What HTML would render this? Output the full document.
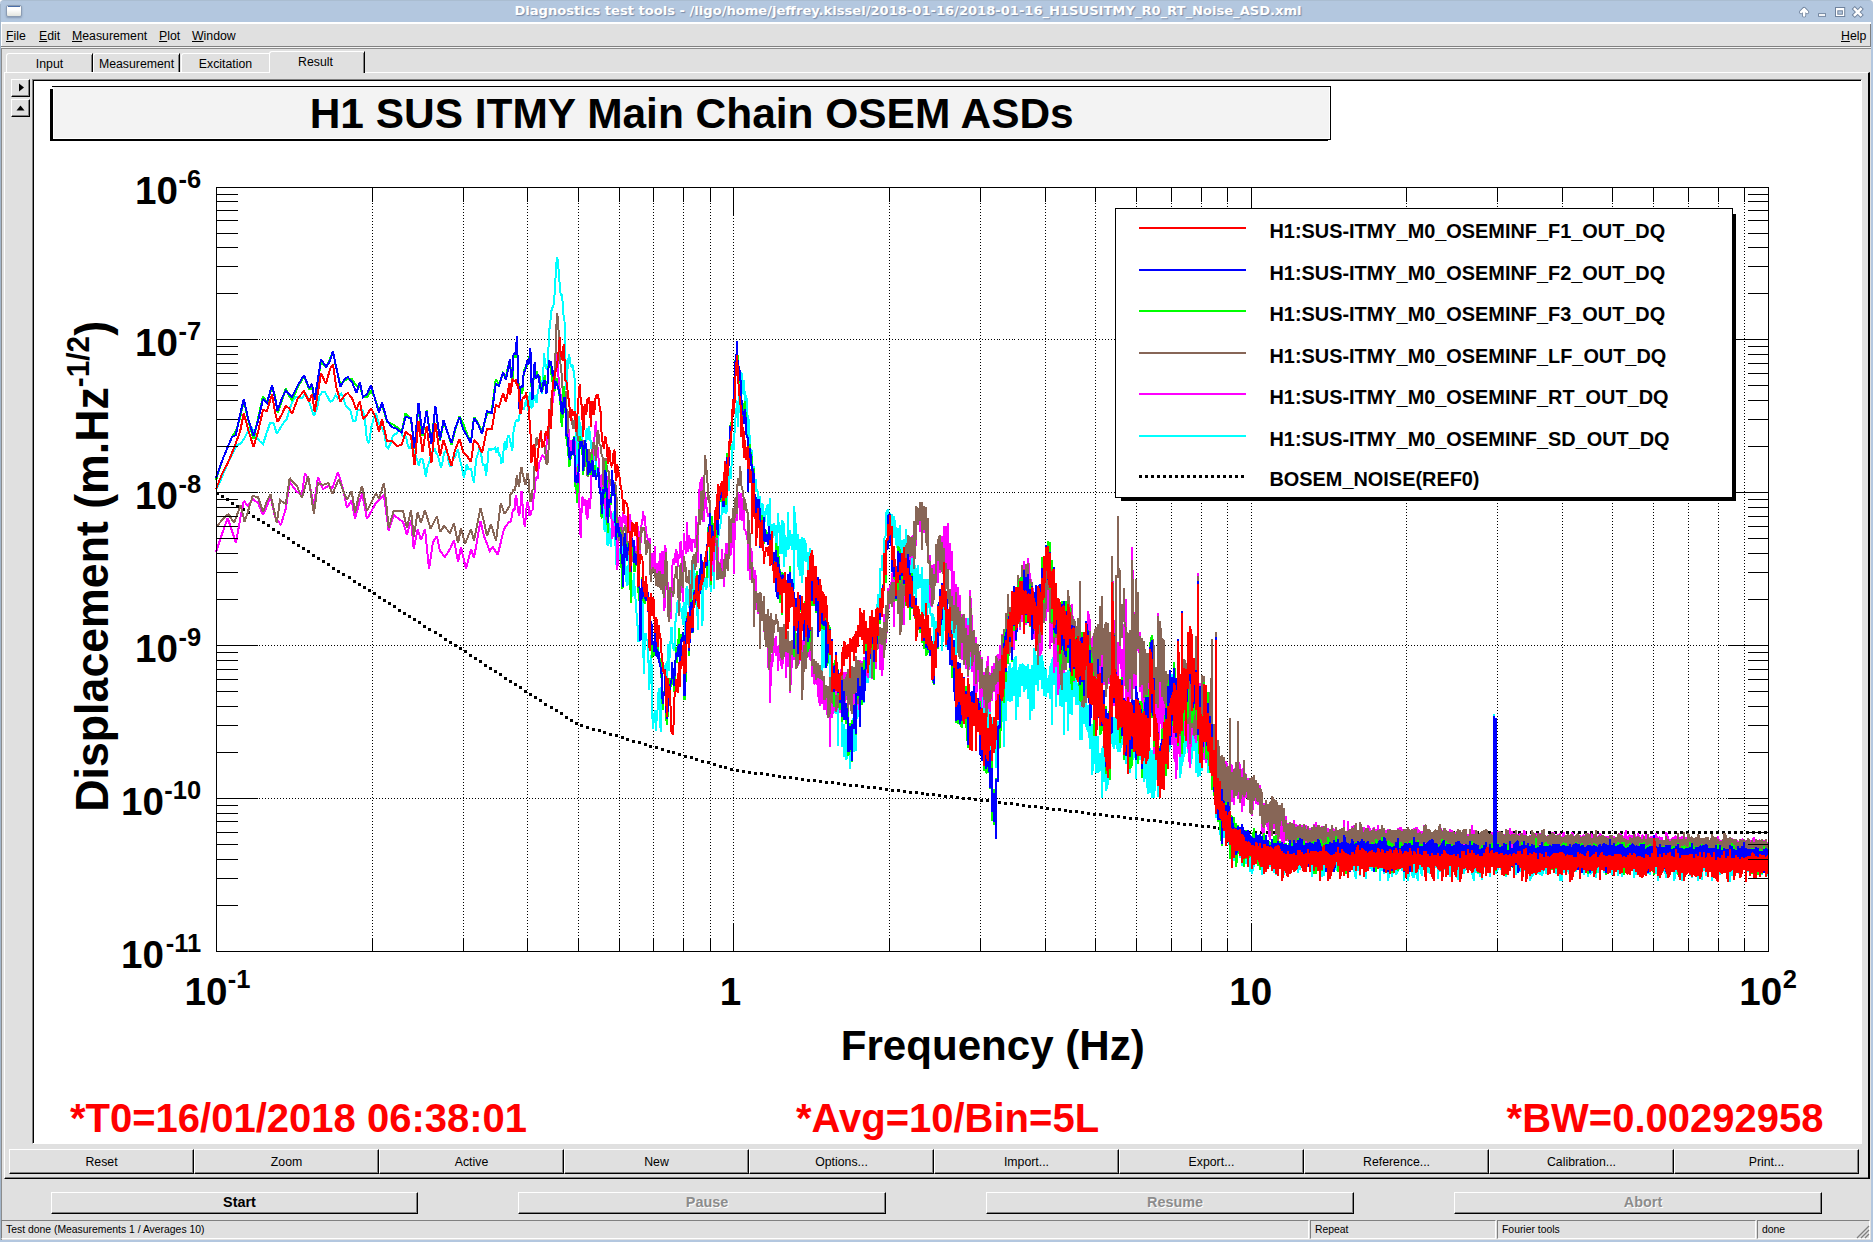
<!DOCTYPE html><html><head><meta charset="utf-8"><title>Diagnostics test tools</title><style>

html,body{margin:0;padding:0;}
body{width:1873px;height:1242px;overflow:hidden;background:#e0e0e0;position:relative;font-family:"Liberation Sans",sans-serif;font-size:12.3px;color:#000;}
.abs{position:absolute;}
.tb{left:0;top:0;width:1873px;height:22px;background:#b3c7df;border-radius:4px 4px 0 0;border-top:1px solid #aabdd1;box-sizing:border-box}
.tt{left:0;top:3px;width:1816px;text-align:center;font-family:"DejaVu Sans",sans-serif;font-weight:bold;font-size:13.08px;color:#fff;text-shadow:1px 1px 1px #7a8ca8;white-space:nowrap;letter-spacing:0px}
.menu span{position:absolute;top:29px;white-space:nowrap}
u{text-decoration:underline;text-underline-offset:1px}
.btn{position:absolute;box-sizing:border-box;background:#e0e0e0;border-top:1px solid #fff;border-left:1px solid #fff;border-right:1px solid #000;border-bottom:1px solid #000;text-align:center;white-space:nowrap}
.btn:after{content:"";position:absolute;left:0;top:0;right:0;bottom:0;border-right:1px solid #808080;border-bottom:1px solid #808080}
.tab{position:absolute;box-sizing:border-box;text-align:center;white-space:nowrap;border-top:1px solid #fff;border-left:1px solid #fff;border-right:2px solid #000;}
.dis{color:#8c8c8c;text-shadow:1px 1px 0 #fff}
svg text{font-family:"Liberation Sans",sans-serif;font-weight:bold}

</style></head><body>
<div class="abs" style="left:0;top:0;width:1873px;height:8px;background:#fff"></div>
<div class="abs tb"></div>
<div class="abs" style="left:0;top:4px;width:1px;height:1238px;background:#a3b6cb"></div>
<div class="abs" style="left:1871px;top:22px;width:2px;height:1220px;background:#b3c7df"></div>
<div class="abs" style="left:0;top:1240px;width:1873px;height:2px;background:#b3c7df"></div>
<div class="abs" style="left:6px;top:5px;width:16px;height:12px;box-sizing:border-box;border:1px solid #8b9cb3;border-radius:2px;background:linear-gradient(#fff 35%,#e3e5df);box-shadow:0 1px 2px rgba(90,110,140,.5)"><i style="position:absolute;left:1px;right:1px;top:0;height:1px;background:#4b6fa9"></i></div>
<div class="abs" style="left:1px;top:22px;width:1870px;height:2px;background:#fff"></div>
<div class="abs" style="left:1px;top:22px;width:1px;height:25px;background:#fff"></div>
<div class="abs tt">Diagnostics test tools - /ligo/home/jeffrey.kissel/2018-01-16/2018-01-16_H1SUSITMY_R0_RT_Noise_ASD.xml</div>
<svg class="abs" style="left:1790px;top:0" width="83" height="23" viewBox="0 0 83 23"><g fill="none" stroke="#6f829c" stroke-width="4.6" stroke-linejoin="round"><path d="M14.1 15.5V9.3M11.1 12.1l3-3.1 3 3.1" stroke-linecap="round" stroke-width="4.2"/><path d="M29.9 15h4.3" stroke-linecap="square" stroke-width="3.6"/><path d="M64.8 9.1l5.9 5.9M70.7 9.1l-5.9 5.9" stroke-linecap="square" stroke-width="4.4"/></g><rect x="45" y="7" width="10.2" height="10" fill="#6f829c"/><rect x="46" y="8" width="8.2" height="8" fill="#fff"/><rect x="47.3" y="10.3" width="5.6" height="4.4" fill="#6f829c"/><rect x="48.3" y="11.3" width="3.6" height="2.4" fill="#b3c7df"/><g fill="none" stroke="#fff" stroke-width="2.6"><path d="M14.1 15.5V9.3M11.1 12.1l3-3.1 3 3.1" stroke-linecap="round" stroke-linejoin="round" stroke-width="2.5"/><path d="M29.9 15h4.3" stroke-linecap="square" stroke-width="1.8"/><path d="M64.8 9.1l5.9 5.9M70.7 9.1l-5.9 5.9" stroke-linecap="square" stroke-width="2.5"/></g></svg>
<div class="menu">
<span style="left:6px"><u>F</u>ile</span>
<span style="left:39px"><u>E</u>dit</span>
<span style="left:72px"><u>M</u>easurement</span>
<span style="left:159px"><u>P</u>lot</span>
<span style="left:192px"><u>W</u>indow</span>
<span style="left:1841px"><u>H</u>elp</span>
</div>
<div class="abs" style="left:1px;top:46px;width:1870px;height:1px;background:#808080"></div>
<div class="abs" style="left:1px;top:47px;width:1870px;height:1px;background:#f4f4f4"></div>
<div class="abs" style="left:1px;top:48px;width:1870px;height:1px;background:#8c8c8c"></div>
<div class="abs" style="left:1px;top:48px;width:1px;height:1192px;background:#8c8c8c"></div>
<div class="abs" style="left:1870px;top:24px;width:1px;height:23px;background:#808080"></div>
<div class="abs" style="left:4px;top:72px;width:1866px;height:1107px;box-sizing:border-box;border-left:1px solid #fff;border-top:1px solid #fff;border-right:2px solid #000;border-bottom:1px solid #000"></div>
<div class="abs" style="left:5px;top:1177px;width:1863px;height:1px;background:#808080"></div>
<div class="tab" style="left:6px;top:53px;width:87px;height:19px;line-height:20px;border-right:1px solid #000;border-top-left-radius:3px">Input<i style="position:absolute;right:0;top:1px;bottom:0;width:1px;background:#808080"></i></div>
<div class="tab" style="left:93px;top:53px;width:87px;height:19px;line-height:20px;border-right:1px solid #000;border-top-left-radius:3px">Measurement<i style="position:absolute;right:0;top:1px;bottom:0;width:1px;background:#808080"></i></div>
<div class="tab" style="left:181px;top:53px;width:88px;height:19px;line-height:20px;border-right:none;border-top-left-radius:3px">Excitation</div>
<div class="tab" style="left:269px;top:51px;width:96px;height:22px;background:#e0e0e0;line-height:21px;border-right:1px solid #000;border-top-left-radius:3px;padding-right:3px">Result<i style="position:absolute;right:0;top:1px;bottom:0;width:1px;background:#808080"></i></div>
<div class="abs" style="left:270px;top:72px;width:93px;height:1px;background:#e0e0e0"></div>
<div class="btn" style="left:11px;top:79px;width:19px;height:18px"><svg width="17" height="16" style="position:absolute;left:0;top:0"><path d="M7 3.5l5 4-5 4z" fill="#000"/></svg></div>
<div class="btn" style="left:11px;top:99px;width:19px;height:18px"><svg width="17" height="16" style="position:absolute;left:0;top:0"><path d="M4.5 10.5l4-5 4 5z" fill="#000"/></svg></div>
<div class="abs" style="left:32px;top:79px;width:1830px;height:1065px;box-sizing:border-box;background:#fff;border-left:1px solid #808080;border-top:1px solid #808080;border-right:1px solid #fff;border-bottom:1px solid #fff;"></div>
<div class="abs" style="left:33px;top:80px;width:1828px;height:1px;background:#000"></div>
<div class="abs" style="left:33px;top:80px;width:1px;height:1063px;background:#000"></div>
<div class="btn" style="left:9px;top:1149px;width:185px;height:25px;line-height:24px">Reset</div>
<div class="btn" style="left:194px;top:1149px;width:185px;height:25px;line-height:24px">Zoom</div>
<div class="btn" style="left:379px;top:1149px;width:185px;height:25px;line-height:24px">Active</div>
<div class="btn" style="left:564px;top:1149px;width:185px;height:25px;line-height:24px">New</div>
<div class="btn" style="left:749px;top:1149px;width:185px;height:25px;line-height:24px">Options...</div>
<div class="btn" style="left:934px;top:1149px;width:185px;height:25px;line-height:24px">Import...</div>
<div class="btn" style="left:1119px;top:1149px;width:185px;height:25px;line-height:24px">Export...</div>
<div class="btn" style="left:1304px;top:1149px;width:185px;height:25px;line-height:24px">Reference...</div>
<div class="btn" style="left:1489px;top:1149px;width:185px;height:25px;line-height:24px">Calibration...</div>
<div class="btn" style="left:1674px;top:1149px;width:185px;height:25px;line-height:24px">Print...</div>
<div class="btn " style="left:51px;top:1192px;width:367px;height:22px;line-height:19px;font-weight:bold;font-size:14.4px;padding-left:10px">Start</div>
<div class="btn dis" style="left:518px;top:1192px;width:368px;height:22px;line-height:19px;font-weight:bold;font-size:14.4px;padding-left:10px">Pause</div>
<div class="btn dis" style="left:986px;top:1192px;width:368px;height:22px;line-height:19px;font-weight:bold;font-size:14.4px;padding-left:10px">Resume</div>
<div class="btn dis" style="left:1454px;top:1192px;width:368px;height:22px;line-height:19px;font-weight:bold;font-size:14.4px;padding-left:10px">Abort</div>
<div class="abs" style="left:1px;top:1220px;width:1308px;height:19px;box-sizing:border-box;border-top:1px solid #808080;border-left:1px solid #808080;border-right:1px solid #fff;border-bottom:1px solid #fff;font-size:10.4px;line-height:17px;padding-left:4px;white-space:nowrap">Test done (Measurements 1 / Averages 10)</div>
<div class="abs" style="left:1310px;top:1220px;width:186px;height:19px;box-sizing:border-box;border-top:1px solid #808080;border-left:1px solid #808080;border-right:1px solid #fff;border-bottom:1px solid #fff;font-size:10.4px;line-height:17px;padding-left:4px;white-space:nowrap">Repeat</div>
<div class="abs" style="left:1497px;top:1220px;width:259px;height:19px;box-sizing:border-box;border-top:1px solid #808080;border-left:1px solid #808080;border-right:1px solid #fff;border-bottom:1px solid #fff;font-size:10.4px;line-height:17px;padding-left:4px;white-space:nowrap">Fourier tools</div>
<div class="abs" style="left:1757px;top:1220px;width:113px;height:19px;box-sizing:border-box;border-top:1px solid #808080;border-left:1px solid #808080;border-right:1px solid #fff;border-bottom:1px solid #fff;font-size:10.4px;line-height:17px;padding-left:4px;white-space:nowrap">done</div>
<svg class="abs" style="left:1856px;top:1225px" width="14" height="14"><g stroke="#808080" stroke-width="1.3"><path d="M13 1L1 13M13 5L5 13M13 9L9 13"/></g></svg>
<svg class="abs" style="left:0;top:0" width="1873" height="1242" viewBox="0 0 1873 1242">
<g shape-rendering="crispEdges"><rect x="54" y="87" width="1275" height="51" fill="#f3f3f3"/>
<path d="M52 86.5H1331M1330.5 86V140M50 139.5H1331M50 140.5H1328" fill="none" stroke="#000" stroke-width="1"/>
<rect x="50" y="89" width="3" height="52" fill="#000"/></g>
<text x="691.7" y="128" font-size="42.45" text-anchor="middle">H1 SUS ITMY Main Chain OSEM ASDs</text>
<path d="M372.5 187.5V951.5M463.5 187.5V951.5M527.5 187.5V951.5M578.5 187.5V951.5M619.5 187.5V951.5M653.5 187.5V951.5M683.5 187.5V951.5M710.5 187.5V951.5M733.5 187.5V951.5M889.5 187.5V951.5M980.5 187.5V951.5M1045.5 187.5V951.5M1095.5 187.5V951.5M1136.5 187.5V951.5M1171.5 187.5V951.5M1201.5 187.5V951.5M1227.5 187.5V951.5M1251.5 187.5V951.5M1406.5 187.5V951.5M1497.5 187.5V951.5M1562.5 187.5V951.5M1612.5 187.5V951.5M1653.5 187.5V951.5M1688.5 187.5V951.5M1718.5 187.5V951.5M1744.5 187.5V951.5M216.5 798.5H1768.5M216.5 645.5H1768.5M216.5 492.5H1768.5M216.5 339.5H1768.5" stroke="#000" stroke-width="1" stroke-dasharray="1 2" fill="none" shape-rendering="crispEdges"/>
<path d="M216 492h3v3h-3zM221 495h3v3h-3zM226 498h3v3h-3zM231 502h3v3h-3zM236 505h3v3h-3zM242 508h3v3h-3zM247 511h3v3h-3zM252 515h3v3h-3zM257 518h3v3h-3zM262 521h3v3h-3zM267 524h3v3h-3zM272 528h3v3h-3zM277 531h3v3h-3zM282 534h3v3h-3zM287 537h3v3h-3zM292 541h3v3h-3zM297 544h3v3h-3zM302 547h3v3h-3zM307 550h3v3h-3zM312 554h3v3h-3zM317 557h3v3h-3zM322 560h3v3h-3zM327 563h3v3h-3zM332 567h3v3h-3zM337 570h3v3h-3zM342 573h3v3h-3zM348 576h3v3h-3zM353 580h3v3h-3zM358 583h3v3h-3zM363 586h3v3h-3zM368 589h3v3h-3zM373 592h3v3h-3zM378 596h3v3h-3zM383 599h3v3h-3zM388 602h3v3h-3zM393 605h3v3h-3zM398 609h3v3h-3zM403 612h3v3h-3zM408 615h3v3h-3zM413 618h3v3h-3zM418 621h3v3h-3zM423 625h3v3h-3zM428 628h3v3h-3zM434 631h3v3h-3zM439 634h3v3h-3zM444 638h3v3h-3zM449 641h3v3h-3zM454 644h3v3h-3zM459 647h3v3h-3zM464 650h3v3h-3zM469 654h3v3h-3zM474 657h3v3h-3zM479 660h3v3h-3zM484 664h3v3h-3zM489 667h3v3h-3zM494 670h3v3h-3zM499 673h3v3h-3zM504 677h3v3h-3zM509 680h3v3h-3zM514 683h3v3h-3zM519 686h3v3h-3zM524 690h3v3h-3zM529 693h3v3h-3zM534 696h3v3h-3zM539 699h3v3h-3zM544 703h3v3h-3zM550 706h3v3h-3zM555 709h3v3h-3zM560 712h3v3h-3zM565 716h3v3h-3zM570 719h3v3h-3zM575 722h3v3h-3zM580 724h3v3h-3zM586 726h3v3h-3zM592 728h3v3h-3zM598 729h3v3h-3zM603 731h3v3h-3zM609 733h3v3h-3zM615 734h3v3h-3zM621 736h3v3h-3zM626 738h3v3h-3zM632 740h3v3h-3zM638 741h3v3h-3zM644 743h3v3h-3zM649 745h3v3h-3zM655 746h3v3h-3zM661 748h3v3h-3zM667 750h3v3h-3zM672 751h3v3h-3zM678 753h3v3h-3zM684 755h3v3h-3zM690 756h3v3h-3zM695 758h3v3h-3zM701 760h3v3h-3zM707 761h3v3h-3zM713 763h3v3h-3zM719 765h3v3h-3zM724 766h3v3h-3zM730 768h3v3h-3zM736 769h3v3h-3zM742 770h3v3h-3zM748 771h3v3h-3zM754 772h3v3h-3zM760 772h3v3h-3zM766 773h3v3h-3zM772 774h3v3h-3zM778 775h3v3h-3zM783 776h3v3h-3zM789 776h3v3h-3zM795 777h3v3h-3zM801 778h3v3h-3zM807 779h3v3h-3zM813 779h3v3h-3zM819 780h3v3h-3zM825 781h3v3h-3zM831 781h3v3h-3zM837 782h3v3h-3zM843 783h3v3h-3zM849 784h3v3h-3zM855 784h3v3h-3zM861 785h3v3h-3zM867 786h3v3h-3zM873 786h3v3h-3zM879 787h3v3h-3zM885 788h3v3h-3zM891 789h3v3h-3zM897 789h3v3h-3zM903 790h3v3h-3zM909 791h3v3h-3zM915 791h3v3h-3zM921 792h3v3h-3zM926 793h3v3h-3zM932 793h3v3h-3zM938 794h3v3h-3zM944 795h3v3h-3zM950 795h3v3h-3zM956 796h3v3h-3zM962 797h3v3h-3zM968 797h3v3h-3zM974 798h3v3h-3zM980 799h3v3h-3zM986 799h3v3h-3zM992 800h3v3h-3zM998 801h3v3h-3zM1004 802h3v3h-3zM1010 802h3v3h-3zM1016 803h3v3h-3zM1022 804h3v3h-3zM1028 805h3v3h-3zM1034 805h3v3h-3zM1040 806h3v3h-3zM1046 807h3v3h-3zM1052 808h3v3h-3zM1058 808h3v3h-3zM1064 809h3v3h-3zM1069 810h3v3h-3zM1075 810h3v3h-3zM1081 811h3v3h-3zM1087 812h3v3h-3zM1093 813h3v3h-3zM1099 813h3v3h-3zM1105 814h3v3h-3zM1111 815h3v3h-3zM1117 815h3v3h-3zM1123 816h3v3h-3zM1129 817h3v3h-3zM1135 817h3v3h-3zM1141 818h3v3h-3zM1147 819h3v3h-3zM1153 819h3v3h-3zM1159 820h3v3h-3zM1165 821h3v3h-3zM1171 821h3v3h-3zM1177 822h3v3h-3zM1183 823h3v3h-3zM1189 823h3v3h-3zM1195 824h3v3h-3zM1201 825h3v3h-3zM1207 825h3v3h-3zM1213 826h3v3h-3zM1218 827h3v3h-3zM1224 828h3v3h-3zM1230 828h3v3h-3zM1236 829h3v3h-3zM1242 830h3v3h-3zM1248 831h3v3h-3zM1254 831h3v3h-3zM1260 831h3v3h-3zM1266 831h3v3h-3zM1272 831h3v3h-3zM1278 831h3v3h-3zM1284 831h3v3h-3zM1290 831h3v3h-3zM1296 831h3v3h-3zM1302 831h3v3h-3zM1308 831h3v3h-3zM1314 831h3v3h-3zM1320 831h3v3h-3zM1326 831h3v3h-3zM1332 831h3v3h-3zM1338 831h3v3h-3zM1344 831h3v3h-3zM1350 831h3v3h-3zM1356 831h3v3h-3zM1362 831h3v3h-3zM1368 831h3v3h-3zM1374 831h3v3h-3zM1380 831h3v3h-3zM1386 831h3v3h-3zM1392 831h3v3h-3zM1398 831h3v3h-3zM1404 831h3v3h-3zM1410 831h3v3h-3zM1416 831h3v3h-3zM1422 831h3v3h-3zM1428 831h3v3h-3zM1434 831h3v3h-3zM1440 831h3v3h-3zM1446 831h3v3h-3zM1452 831h3v3h-3zM1458 831h3v3h-3zM1464 831h3v3h-3zM1470 831h3v3h-3zM1476 831h3v3h-3zM1482 831h3v3h-3zM1488 831h3v3h-3zM1494 831h3v3h-3zM1500 831h3v3h-3zM1506 831h3v3h-3zM1512 831h3v3h-3zM1518 831h3v3h-3zM1524 831h3v3h-3zM1530 831h3v3h-3zM1536 831h3v3h-3zM1542 831h3v3h-3zM1548 831h3v3h-3zM1554 831h3v3h-3zM1560 831h3v3h-3zM1566 831h3v3h-3zM1572 831h3v3h-3zM1578 831h3v3h-3zM1584 831h3v3h-3zM1590 831h3v3h-3zM1596 831h3v3h-3zM1602 831h3v3h-3zM1608 831h3v3h-3zM1614 831h3v3h-3zM1620 831h3v3h-3zM1626 831h3v3h-3zM1632 831h3v3h-3zM1638 831h3v3h-3zM1644 831h3v3h-3zM1650 831h3v3h-3zM1656 831h3v3h-3zM1662 831h3v3h-3zM1668 831h3v3h-3zM1674 831h3v3h-3zM1680 831h3v3h-3zM1686 831h3v3h-3zM1692 831h3v3h-3zM1698 831h3v3h-3zM1704 831h3v3h-3zM1710 831h3v3h-3zM1716 831h3v3h-3zM1722 831h3v3h-3zM1728 831h3v3h-3zM1734 831h3v3h-3zM1740 831h3v3h-3zM1746 831h3v3h-3zM1752 831h3v3h-3zM1758 831h3v3h-3zM1764 831h3v3h-3z" fill="#000" shape-rendering="crispEdges"/>
<polyline points="216.5,489 220.0,482 224.3,471 228.5,462 232.6,454 236.6,445 240.6,444 244.5,438 248.4,430 252.1,428 255.8,436 259.5,441 263.1,444 266.6,433 270.1,423 273.5,423 276.9,434 280.3,428 283.5,423 286.8,419 290.0,408 293.1,400 296.2,397 299.3,398 302.3,398 305.2,393 308.2,399 311.1,408 313.9,416 316.8,409 319.6,396 322.3,392 325.0,392 327.7,397 330.4,402 333.0,400 335.6,395 338.2,399 340.7,393 343.2,397 345.7,406 348.2,408 350.6,411 353.0,421 355.4,421 357.7,410 360.1,410 362.4,410 364.6,416 366.9,440 369.1,443 371.4,427 373.5,419 375.7,413 377.9,420 380.0,426 382.1,428 384.2,433 386.3,446 388.3,448 390.4,444 392.4,437 394.4,434 396.3,434 398.3,431 400.3,430 402.2,435 404.1,437 406.0,437 407.9,446 409.7,449 411.6,443 413.4,450 415.2,455 417.0,459 418.8,466 420.6,459 422.4,459 424.1,466 425.9,477 427.6,466 429.3,462 431.0,455 432.7,451 434.3,448 436.0,453 437.6,455 439.3,461 440.9,468 442.5,462 444.1,453 445.7,451 447.3,452 448.8,463 450.4,467 451.9,464 453.5,456 455.0,458 456.5,453 458.0,449 459.5,458 461.0,464 462.5,471 463.9,478 465.4,471 466.8,464 468.2,469 469.7,469 471.1,469 472.5,477 473.9,483 475.3,468 476.7,457 478.1,454 479.4,448 480.8,450 482.1,462 483.5,466 484.8,464 486.1,476 487.4,464 488.8,448 490.1,451 491.3,449 492.6,449 493.9,449 495.2,448 496.5,453 497.7,447 499.0,455 500.2,455 501.4,463 502.7,462 503.9,446 505.1,441 506.3,450 507.5,438 508.7,435 509.9,440 511.1,445 512.3,451 513.5,432 514.6,426 515.8,421 516.9,420 518.1,422 519.2,418 520.4,406 521.5,402 522.6,408 523.8,410 524.9,405 526.0,400 527.1,403 528.2,411 529.3,397 530.4,392 531.4,408 532.5,407 533.6,398 534.7,395 535.7,402 536.8,402 537.8,391 538.9,388 539.9,384 541.0,380 542.0,394 543.0,379 544.1,353 545.1,365 546.1,369 547.1,368 548.1,359 549.1,331 550.1,325 551.1,313 552.1,307 553.1,308 554.0,302 555.0,288 556.0,269 556.9,257 557.9,260 558.9,274 559.8,286 560.8,296 561.7,294 562.7,303 563.6,316 564.5,321 565.5,360 566.4,390 567.3,372 568.2,360 569.1,354 570.1,362 571.0,367 571.9,366 572.8,365 573.7,372 574.6,379 575.5,411 576.3,477 577.2,464 578.1,431 579.0,416 579.8,425 580.7,441 581.6,426 582.4,438 583.3,457 584.2,466 585.0,445 585.9,439 586.7,428 587.6,433 588.4,440 589.2,426 590.1,440 590.9,441 591.7,452 592.5,450 593.4,453 594.2,457 595.0,461 595.8,459 596.6,477 597.4,469 598.2,470 599.0,485 599.8,485 600.6,487 601.4,493 602.2,495 603.0,491 603.8,514 604.6,532 605.3,521 606.1,518 606.9,541 607.7,546 608.4,528 609.2,523 610.0,535 610.7,547 611.5,531 612.2,513 613.0,528 613.7,511 614.5,524 615.2,534 616.0,565 616.7,557 617.4,554 618.2,555 618.9,560 619.6,551 620.4,551 621.1,532 621.8,547 622.5,572 623.3,567 624.0,552 624.7,547 625.4,564 626.1,578 626.8,585 627.5,585 628.2,576 628.9,552 629.6,556 630.3,575 631.0,586 631.7,591 632.4,597 633.1,590 633.8,573 634.5,586 635.1,595 635.8,602 636.5,613 637.2,626 637.9,625 638.5,642 639.2,641 639.9,624 640.5,611 641.2,599 641.9,602 642.5,599 643.2,641 643.8,674 644.5,651 645.1,634 645.8,633 646.4,640 647.1,640 647.7,639 648.4,656 649.0,690 649.6,683 650.3,663 650.9,655 651.6,665 652.2,708 652.8,729 653.4,714 654.1,721 654.7,710 655.3,719 655.9,731 656.6,720 657.2,713 657.8,708 658.4,693 659.0,688 659.6,694 660.2,725 660.9,732 661.5,687 662.1,670 662.7,669 663.3,667 663.9,667 664.5,669 665.1,669 665.7,663 666.3,668 666.8,689 667.4,665 668.0,644 668.6,652 669.2,671 669.8,646 670.4,641 670.9,644 671.5,627 672.1,631 672.7,649 673.3,643 673.8,644 674.4,651 675.0,633 675.5,621 676.1,621 676.7,610 677.2,605 677.8,600 678.4,604 678.9,603 679.5,603 680.0,609 680.6,611 681.2,612 681.7,608 682.3,614 682.8,625 683.4,607 683.9,602 684.5,609 685.0,640 685.6,618 686.1,597 686.6,586 687.2,601 687.7,595 688.3,603 688.8,608 689.3,593 689.9,583 690.4,570 690.9,575 691.5,590 692.0,615 692.5,593 693.0,563 693.6,565 694.1,578 694.6,574 695.1,590 695.7,590 696.2,578 696.7,571 697.2,591 697.7,630 698.2,624 698.8,590 699.3,583 699.8,585 700.3,588 700.8,587 701.3,580 701.8,586 702.3,626 702.8,614 703.3,591 703.8,582 704.3,580 704.8,578 705.3,577 705.8,582 706.3,590 706.8,586 707.3,575 707.8,572 708.3,560 708.8,563 709.3,578 709.8,574 710.3,581 710.7,592 711.2,587 711.7,566 712.2,536 712.7,546 713.2,575 713.6,575 714.1,589 714.6,554 715.1,537 715.6,532 716.5,542 716.5,559 717.5,569 717.9,551 718.4,537 718.9,530 719.3,526 719.8,529 720.3,527 720.7,521 721.2,517 721.7,514 722.1,501 722.6,507 723.5,507 723.5,513 724.4,501 724.9,494 725.3,502 725.8,512 726.2,514 726.7,511 727.2,503 727.6,485 728.5,491 728.5,472 729.4,480 729.8,476 730.3,468 730.7,477 731.2,479 731.6,462 732.5,444 732.5,441 733.4,449 733.8,449 734.3,436 734.7,431 735.1,430 735.6,416 736.5,408 736.5,402 737.3,401 737.7,411 738.2,427 738.6,409 739.5,388 739.5,385 740,374 741,372 741,375 742,373 742,378 742,393 743,393 744,394 744,394 744,380 745,401 746,409 746,395 747,401 748,428 748,445 748,419 749,420 750,449 750,458 750,451 751,449 752,452 752,480 752,482 753,477 754,466 754,491 754,493 755,491 756,481 756,479 756,491 757,489 758,494 758,498 758,500 759,502 760,496 760,516 760,527 761,523 762,518 762,512 762,503 763,505 764,517 764,517 764,517 764,527 765,517 766,513 766,515 766,510 768,504 768,526 768,520 769,515 770,507 770,498 770,519 770,553 771,532 772,524 772,527 772,542 774,528 774,523 774,534 775,536 776,532 776,528 776,525 776,553 778,526 778,513 778,521 778,526 779,522 780,529 780,538 780,553 782,553 782,540 782,541 782,520 784,524 784,567 784,556 785,535 786,539 786,553 786,557 786,546 788,538 788,528 788,512 788,550 790,545 790,533 790,530 790,538 792,543 792,550 792,543 792,534 794,549 794,582 794,589 794,506 796,529 796,544 796,545 796,550 798,537 798,534 798,541 798,565 800,571 800,555 800,539 800,576 802,542 802,537 802,555 802,583 804,554 804,546 804,552 804,538 806,545 806,552 806,549 806,561 808,560 808,552 808,556 808,587 810,576 810,569 810,569 810,548 812,557 812,564 812,564 812,562 814,572 814,583 814,577 814,572 816,586 816,603 816,599 816,588 818,593 818,612 818,602 818,636 820,608 820,599 820,601 820,621 822,623 822,676 822,645 822,623 824,630 824,643 824,652 824,668 826,651 826,636 826,652 826,654 828,662 828,643 828,638 828,662 830,664 830,649 830,669 830,685 832,678 832,665 832,672 832,698 834,698 834,705 834,703 834,710 836,714 836,704 836,709 836,696 838,715 838,746 838,709 838,694 840,695 840,705 840,708 840,698 842,702 842,737 842,747 842,725 844,725 844,747 844,757 844,729 846,730 846,750 846,740 846,760 848,754 848,750 848,751 848,748 850,757 850,769 850,764 850,751 852,749 852,761 852,749 852,726 854,715 854,746 854,743 854,751 856,750 856,739 856,731 856,720 858,715 858,707 858,717 858,695 860,687 860,711 860,711 860,697 862,692 862,676 862,675 862,689 864,677 864,703 864,685 864,659 866,658 866,683 866,671 866,663 868,660 868,683 868,668 868,661 870,647 870,676 870,678 870,650 872,646 872,659 872,659 872,638 874,629 874,677 874,630 874,622 876,623 876,616 876,616 876,611 878,602 878,594 878,597 878,608 880,620 880,585 880,575 880,568 882,571 882,559 882,555 882,567 884,555 884,547 884,552 884,539 886,535 886,527 886,536 886,513 888,509 888,520 888,516 888,528 890,521 890,516 890,513 890,527 892,530 892,517 892,519 892,514 894,522 894,533 894,538 894,516 896,531 896,535 896,532 896,543 898,549 898,532 898,528 898,540 900,542 900,528 900,525 900,551 902,557 902,540 902,540 902,560 904,558 904,541 904,539 904,552 906,554 906,529 906,554 906,572 908,574 908,537 908,542 908,553 910,560 910,574 910,575 910,550 912,550 912,562 912,567 912,604 914,591 914,574 914,579 914,564 916,570 916,600 916,618 916,571 918,576 918,565 918,578 918,588 920,587 920,579 920,584 920,574 922,580 922,567 922,573 922,618 924,607 924,579 924,588 924,616 926,588 926,579 926,593 926,631 928,601 928,579 928,589 928,606 930,605 930,594 930,602 930,613 932,616 932,625 932,627 932,613 934,619 934,640 934,621 934,661 936,630 936,621 936,622 936,639 938,633 938,613 938,611 938,625 940,630 940,615 940,620 940,632 942,630 942,606 942,625 942,651 944,616 944,601 944,618 944,631 946,618 946,647 946,635 946,616 948,609 948,650 948,648 948,637 950,633 950,611 950,605 950,650 952,650 952,615 952,602 952,635 954,634 954,614 954,616 954,638 956,626 956,660 956,643 956,624 958,619 958,640 958,625 958,610 960,613 960,633 960,635 960,615 962,618 962,640 962,633 962,615 964,628 964,642 964,640 964,625 966,637 966,648 966,658 966,631 968,631 968,663 968,645 968,618 970,638 970,669 970,652 970,627 972,627 972,656 972,660 972,641 974,646 974,630 974,634 974,651 976,650 976,670 976,677 976,650 978,655 978,671 978,672 978,648 980,663 980,679 980,688 980,658 982,663 982,673 982,670 982,705 984,713 984,683 984,685 984,715 986,697 986,675 986,691 986,712 988,717 988,704 988,712 988,726 990,735 990,706 990,717 990,744 992,754 992,717 992,726 992,742 994,737 994,749 994,746 994,727 996,731 996,768 996,747 996,725 998,721 998,737 998,730 998,751 1000,744 1000,717 1000,705 1000,730 1002,719 1002,699 1002,694 1002,720 1004,712 1004,747 1004,706 1004,689 1006,678 1006,712 1006,721 1006,684 1008,677 1008,701 1008,690 1008,674 1010,663 1010,693 1010,702 1010,667 1012,679 1012,692 1012,701 1012,668 1014,670 1014,696 1014,685 1014,660 1016,656 1016,720 1016,688 1016,670 1018,672 1018,707 1018,696 1018,677 1020,664 1020,693 1020,697 1020,665 1022,665 1022,679 1022,686 1022,664 1024,666 1024,680 1024,669 1024,692 1026,685 1026,666 1026,671 1026,684 1028,690 1028,664 1028,679 1028,699 1030,685 1030,720 1030,682 1030,670 1032,671 1032,696 1032,711 1032,665 1034,669 1034,709 1034,675 1034,648 1036,657 1036,684 1036,685 1036,665 1038,663 1038,691 1038,676 1038,651 1040,642 1040,671 1040,680 1040,655 1042,656 1042,689 1042,686 1042,658 1044,670 1044,696 1044,692 1044,674 1046,669 1046,692 1046,697 1046,679 1048,679 1048,693 1048,693 1048,680 1050,674 1050,699 1050,692 1050,668 1052,662 1052,725 1052,691 1052,660 1054,656 1054,684 1054,685 1054,660 1056,664 1056,692 1056,707 1056,655 1058,647 1058,695 1058,688 1058,675 1060,667 1060,706 1060,696 1060,664 1062,656 1062,707 1062,698 1062,679 1064,669 1064,735 1064,711 1064,673 1066,673 1066,702 1066,702 1066,678 1068,670 1068,709 1068,731 1068,679 1070,676 1070,707 1070,714 1070,671 1072,686 1072,715 1072,688 1072,656 1074,657 1074,686 1074,697 1074,663 1076,678 1076,698 1076,705 1076,682 1078,687 1078,705 1078,700 1078,689 1080,698 1080,740 1080,710 1080,698 1082,700 1082,740 1082,723 1082,695 1084,697 1084,718 1084,724 1084,709 1086,716 1086,696 1086,705 1086,726 1088,731 1088,707 1088,705 1088,729 1090,741 1090,712 1090,719 1090,748 1092,748 1092,724 1092,727 1092,775 1094,761 1094,727 1094,737 1094,761 1096,750 1096,736 1096,739 1096,773 1098,769 1098,736 1098,743 1098,773 1100,768 1100,753 1100,755 1100,771 1102,756 1102,798 1102,785 1102,749 1104,746 1104,782 1104,768 1104,739 1106,738 1106,755 1106,728 1106,791 1108,783 1108,731 1108,728 1108,748 1110,752 1110,709 1110,717 1110,741 1112,743 1112,731 1112,720 1112,742 1114,749 1114,719 1114,717 1114,745 1116,742 1116,723 1116,712 1116,743 1118,751 1118,733 1118,727 1118,751 1120,751 1120,724 1120,722 1120,749 1122,743 1122,726 1122,717 1122,741 1124,740 1124,723 1124,708 1124,739 1126,720 1126,764 1126,732 1126,707 1128,729 1128,751 1128,745 1128,707 1130,729 1130,772 1130,773 1130,733 1132,729 1132,750 1132,743 1132,761 1134,757 1134,733 1134,740 1134,754 1136,742 1136,779 1136,773 1136,737 1138,722 1138,764 1138,747 1138,721 1140,718 1140,760 1140,749 1140,713 1142,715 1142,743 1142,744 1142,727 1144,722 1144,747 1144,739 1144,782 1146,769 1146,742 1146,745 1146,769 1148,794 1148,739 1148,753 1148,782 1150,786 1150,748 1150,750 1150,793 1152,781 1152,750 1152,758 1152,797 1154,797 1154,754 1154,752 1154,797 1156,775 1156,735 1156,739 1156,750 1158,750 1158,797 1158,797 1158,764 1160,762 1160,792 1160,792 1160,774 1162,782 1162,754 1162,738 1162,788 1164,770 1164,743 1164,736 1164,759 1166,748 1166,738 1166,719 1166,760 1168,746 1168,711 1168,726 1168,754 1170,747 1170,715 1170,712 1170,681 1172,674 1172,695 1172,699 1172,680 1174,695 1174,736 1174,721 1174,696 1176,687 1176,721 1176,725 1176,684 1178,696 1178,735 1178,724 1178,701 1180,700 1180,740 1180,725 1180,778 1182,762 1182,728 1182,741 1182,765 1184,754 1184,725 1184,732 1184,757 1186,744 1186,722 1186,718 1186,743 1188,733 1188,707 1188,717 1188,752 1190,754 1190,717 1190,713 1190,766 1192,757 1192,727 1192,719 1192,750 1194,741 1194,711 1194,728 1194,751 1196,741 1196,773 1196,766 1196,730 1198,749 1198,777 1198,768 1198,747 1200,738 1200,776 1200,755 1200,730 1202,726 1202,771 1202,745 1202,724 1204,729 1204,701 1204,705 1204,727 1206,736 1206,710 1206,730 1206,761 1208,755 1208,731 1208,734 1208,773 1210,756 1210,735 1210,747 1210,766 1212,773 1212,747 1212,762 1212,789 1214,781 1214,765 1214,761 1214,781 1216,770 1216,796 1216,818 1216,770 1218,771 1218,805 1218,812 1218,774 1220,791 1220,801 1220,794 1220,835 1222,821 1222,804 1222,810 1222,834 1224,837 1224,810 1224,805 1224,838 1226,828 1226,815 1226,813 1226,836 1228,834 1228,813 1228,819 1228,838 1230,847 1230,826 1230,827 1230,837 1232,839 1232,826 1232,824 1232,840 1234,827 1234,853 1234,861 1234,828 1236,838 1236,861 1236,861 1236,834 1238,836 1238,848 1238,847 1238,837 1240,835 1240,855 1240,858 1240,842 1242,830 1242,862 1242,866 1242,841 1244,840 1244,856 1244,867 1244,845 1246,844 1246,864 1246,864 1246,842 1248,844 1248,864 1248,852 1248,842 1250,847 1250,856 1250,850 1250,872 1252,862 1252,839 1252,847 1252,874 1254,864 1254,846 1254,846 1254,856 1256,854 1256,847 1256,848 1256,859 1258,863 1258,846 1258,843 1258,857 1260,868 1260,845 1260,844 1260,856 1262,848 1262,875 1262,858 1262,853 1264,851 1264,867 1264,866 1264,843 1266,848 1266,869 1266,863 1266,847 1268,852 1268,864 1268,861 1268,850 1270,849 1270,866 1270,867 1270,848 1272,846 1272,857 1272,853 1272,864 1274,873 1274,847 1274,849 1274,865 1276,867 1276,847 1276,854 1276,875 1278,871 1278,854 1278,845 1278,871 1280,864 1280,853 1280,856 1280,865 1282,865 1282,850 1282,854 1282,867 1284,869 1284,853 1284,849 1284,875 1286,864 1286,852 1286,847 1286,865 1288,860 1288,852 1288,851 1288,862 1290,864 1290,851 1290,853 1290,864 1292,864 1292,852 1292,854 1292,868 1294,868 1294,853 1294,853 1294,862 1296,863 1296,857 1296,859 1296,848 1298,857 1298,868 1298,873 1298,849 1300,853 1300,869 1300,870 1300,852 1302,855 1302,868 1302,863 1302,850 1304,853 1304,866 1304,861 1304,849 1306,853 1306,864 1306,868 1306,852 1308,854 1308,865 1308,866 1308,861 1310,863 1310,853 1310,856 1310,863 1312,866 1312,847 1312,854 1312,877 1314,861 1314,849 1314,848 1314,860 1316,867 1316,854 1316,853 1316,866 1318,870 1318,857 1318,852 1318,863 1320,869 1320,855 1320,854 1320,866 1322,860 1322,877 1322,874 1322,856 1324,854 1324,862 1324,876 1324,843 1326,850 1326,869 1326,866 1326,855 1328,850 1328,869 1328,862 1328,850 1330,854 1330,865 1330,853 1330,878 1332,859 1332,853 1332,854 1332,864 1334,870 1334,853 1334,851 1334,862 1336,861 1336,852 1336,855 1336,870 1338,868 1338,858 1338,854 1338,864 1340,866 1340,854 1340,856 1340,863 1342,862 1342,854 1342,855 1342,865 1344,863 1344,846 1344,849 1344,867 1346,866 1346,854 1346,848 1346,866 1348,867 1348,856 1348,852 1348,871 1350,866 1350,856 1350,856 1350,866 1352,861 1352,852 1352,851 1352,868 1354,863 1354,855 1354,853 1354,870 1356,879 1356,848 1356,850 1356,862 1358,855 1358,871 1358,865 1358,857 1360,854 1360,876 1360,870 1360,852 1362,850 1362,866 1362,862 1362,855 1364,855 1364,874 1364,869 1364,854 1366,857 1366,867 1366,879 1366,854 1368,855 1368,864 1368,869 1368,854 1370,849 1370,867 1370,869 1370,857 1372,854 1372,867 1372,871 1372,855 1374,855 1374,860 1374,868 1374,853 1376,855 1376,867 1376,864 1376,851 1378,853 1378,861 1378,863 1378,850 1380,858 1380,881 1380,865 1380,855 1382,853 1382,867 1382,871 1382,855 1384,857 1384,874 1384,861 1384,851 1386,851 1386,871 1386,864 1386,852 1388,852 1388,863 1388,852 1388,881 1390,868 1390,851 1390,850 1390,871 1392,865 1392,853 1392,856 1392,877 1394,866 1394,857 1394,852 1394,870 1396,874 1396,857 1396,852 1396,875 1398,871 1398,860 1398,854 1398,871 1400,865 1400,855 1400,851 1400,861 1402,855 1402,871 1402,864 1402,850 1404,854 1404,868 1404,881 1404,852 1406,852 1406,869 1406,874 1406,855 1408,854 1408,868 1408,856 1408,881 1410,865 1410,855 1410,854 1410,866 1412,862 1412,855 1412,857 1412,875 1414,878 1414,856 1414,855 1414,862 1416,868 1416,853 1416,852 1416,873 1418,881 1418,853 1418,855 1418,872 1420,865 1420,854 1420,854 1420,868 1422,876 1422,852 1422,856 1422,865 1424,865 1424,854 1424,848 1424,866 1426,866 1426,856 1426,855 1426,865 1428,873 1428,852 1428,857 1428,866 1430,862 1430,856 1430,854 1430,874 1432,864 1432,855 1432,851 1432,872 1434,867 1434,859 1434,851 1434,869 1436,864 1436,850 1436,850 1436,868 1438,858 1438,879 1438,865 1438,856 1440,855 1440,864 1440,856 1440,872 1442,861 1442,855 1442,850 1442,871 1444,869 1444,848 1444,853 1444,866 1446,859 1446,854 1446,854 1446,871 1448,864 1448,855 1448,854 1448,874 1450,866 1450,852 1450,850 1450,877 1452,864 1452,853 1452,855 1452,867 1454,869 1454,854 1454,854 1454,869 1456,870 1456,854 1456,855 1456,870 1458,880 1458,852 1458,857 1458,870 1460,863 1460,857 1460,852 1460,868 1462,866 1462,853 1462,859 1462,871 1464,874 1464,852 1464,853 1464,872 1466,866 1466,851 1466,857 1466,869 1468,866 1468,852 1468,854 1468,864 1470,870 1470,857 1470,856 1470,867 1472,871 1472,847 1472,855 1472,873 1474,881 1474,855 1474,851 1474,864 1476,863 1476,850 1476,857 1476,872 1478,873 1478,858 1478,862 1478,851 1480,860 1480,877 1480,865 1480,854 1482,856 1482,865 1482,880 1482,849 1484,853 1484,868 1484,861 1484,853 1486,856 1486,863 1486,868 1486,854 1488,857 1488,873 1488,871 1488,852 1490,857 1490,867 1490,877 1490,856 1492,857 1492,864 1492,864 1492,855 1494,867 1494,714 1494,714 1494,873 1496,869 1496,855 1496,855 1496,874 1498,867 1498,857 1498,854 1498,870 1500,861 1500,855 1500,857 1500,867 1502,871 1502,855 1502,854 1502,870 1504,870 1504,855 1504,851 1504,868 1506,877 1506,855 1506,855 1506,875 1508,866 1508,850 1508,852 1508,863 1510,869 1510,853 1510,853 1510,866 1512,862 1512,854 1512,854 1512,864 1514,866 1514,856 1514,854 1514,866 1516,870 1516,856 1516,858 1516,875 1518,868 1518,853 1518,858 1518,869 1520,872 1520,859 1520,851 1520,869 1522,864 1522,856 1522,854 1522,874 1524,870 1524,852 1524,858 1524,870 1526,865 1526,855 1526,856 1526,867 1528,869 1528,852 1528,856 1528,865 1530,864 1530,857 1530,853 1530,881 1532,873 1532,858 1532,853 1532,877 1534,873 1534,855 1534,851 1534,867 1536,871 1536,853 1536,852 1536,863 1538,868 1538,852 1538,856 1538,874 1540,866 1540,854 1540,853 1540,875 1542,872 1542,856 1542,856 1542,876 1544,869 1544,857 1544,856 1544,864 1546,871 1546,854 1546,856 1546,874 1548,865 1548,856 1548,855 1548,866 1550,868 1550,852 1550,855 1550,866 1552,868 1552,860 1552,866 1552,853 1554,853 1554,863 1554,867 1554,855 1556,852 1556,868 1556,874 1556,855 1558,853 1558,870 1558,866 1558,857 1560,857 1560,881 1560,868 1560,857 1562,859 1562,881 1562,868 1562,854 1564,855 1564,873 1564,870 1564,855 1566,856 1566,866 1566,870 1566,851 1568,856 1568,862 1568,855 1568,871 1570,875 1570,857 1570,853 1570,872 1572,877 1572,858 1572,857 1572,867 1574,868 1574,858 1574,856 1574,869 1576,872 1576,853 1576,857 1576,867 1578,862 1578,856 1578,851 1578,865 1580,867 1580,854 1580,854 1580,863 1582,856 1582,870 1582,866 1582,859 1584,856 1584,869 1584,875 1584,855 1586,855 1586,872 1586,865 1586,855 1588,856 1588,865 1588,854 1588,877 1590,866 1590,856 1590,855 1590,874 1592,872 1592,860 1592,856 1592,870 1594,865 1594,858 1594,857 1594,876 1596,877 1596,852 1596,850 1596,870 1598,866 1598,855 1598,859 1598,873 1600,866 1600,854 1600,856 1600,867 1602,869 1602,856 1602,853 1602,868 1604,866 1604,853 1604,858 1604,873 1606,867 1606,858 1606,860 1606,872 1608,870 1608,858 1608,852 1608,868 1610,867 1610,857 1610,856 1610,869 1612,872 1612,856 1612,856 1612,875 1614,864 1614,854 1614,856 1614,869 1616,869 1616,856 1616,853 1616,867 1618,860 1618,876 1618,866 1618,855 1620,858 1620,874 1620,873 1620,856 1622,856 1622,869 1622,877 1622,858 1624,856 1624,869 1624,868 1624,857 1626,857 1626,870 1626,867 1626,857 1628,855 1628,867 1628,865 1628,858 1630,856 1630,865 1630,867 1630,853 1632,857 1632,868 1632,864 1632,858 1634,853 1634,870 1634,878 1634,853 1636,856 1636,872 1636,875 1636,856 1638,857 1638,873 1638,868 1638,857 1640,853 1640,866 1640,867 1640,855 1642,857 1642,878 1642,869 1642,857 1644,859 1644,871 1644,864 1644,855 1646,859 1646,874 1646,874 1646,858 1648,861 1648,869 1648,874 1648,852 1650,855 1650,875 1650,871 1650,859 1652,857 1652,869 1652,864 1652,859 1654,858 1654,864 1654,864 1654,857 1656,855 1656,866 1656,858 1656,874 1658,867 1658,855 1658,853 1658,881 1660,865 1660,853 1660,858 1660,871 1662,869 1662,854 1662,858 1662,865 1664,870 1664,856 1664,857 1664,871 1666,874 1666,857 1666,854 1666,878 1668,866 1668,858 1668,857 1668,874 1670,872 1670,856 1670,852 1670,865 1672,863 1672,858 1672,854 1672,870 1674,867 1674,859 1674,859 1674,881 1676,872 1676,856 1676,854 1676,866 1678,870 1678,859 1678,857 1678,863 1680,856 1680,871 1680,877 1680,855 1682,857 1682,881 1682,870 1682,857 1684,855 1684,879 1684,872 1684,855 1686,854 1686,871 1686,872 1686,854 1688,854 1688,867 1688,866 1688,852 1690,859 1690,876 1690,864 1690,855 1692,857 1692,878 1692,864 1692,855 1694,857 1694,866 1694,868 1694,859 1696,858 1696,868 1696,867 1696,854 1698,855 1698,869 1698,881 1698,855 1700,857 1700,868 1700,876 1700,856 1702,853 1702,870 1702,880 1702,856 1704,856 1704,868 1704,871 1704,858 1706,852 1706,865 1706,862 1706,876 1708,866 1708,855 1708,854 1708,872 1710,868 1710,858 1710,853 1710,867 1712,872 1712,856 1712,863 1712,881 1714,869 1714,855 1714,851 1714,870 1716,866 1716,849 1716,853 1716,871 1718,870 1718,856 1718,858 1718,868 1720,867 1720,856 1720,857 1720,875 1722,870 1722,855 1722,853 1722,871 1724,868 1724,858 1724,859 1724,871 1726,869 1726,856 1726,854 1726,864 1728,869 1728,854 1728,854 1728,881 1730,881 1730,857 1730,850 1730,873 1732,873 1732,856 1732,860 1732,876 1734,872 1734,860 1734,855 1734,867 1736,861 1736,853 1736,857 1736,866 1738,868 1738,858 1738,858 1738,872 1740,874 1740,857 1740,854 1740,872 1742,873 1742,857 1742,858 1742,870 1744,862 1744,856 1744,859 1744,863 1746,866 1746,856 1746,855 1746,870 1748,871 1748,858 1748,856 1748,868 1750,870 1750,856 1750,856 1750,865 1752,867 1752,853 1752,854 1752,872 1754,873 1754,861 1754,858 1754,871 1756,872 1756,857 1756,851 1756,870 1758,866 1758,854 1758,855 1758,865 1760,870 1760,856 1760,858 1760,868 1762,875 1762,857 1762,856 1762,869 1764,871 1764,856 1764,859 1764,871 1766,873 1766,859 1766,852 1766,871 1768,869 1768,859 1768,859 1768,876" fill="none" stroke="#00ffff" stroke-width="2" stroke-linejoin="miter" stroke-miterlimit="2" shape-rendering="crispEdges"/>
<polyline points="216.0,552 222.0,534 227.7,518 232.0,531 236.0,543 240.0,520 243.8,501 248.0,506 252.7,499 258.0,503 263.0,515 267.0,506 270.4,496 275.0,517 280.9,525 285.7,509 289.7,482 297.0,492 301.8,495 305.0,473 308.2,479 313.9,505 317.9,477 323.0,489 328.4,486 332.4,488 338.0,472 343.0,489 346.9,508 351.7,500 355.0,519 362.0,493 367.0,519 375.9,503 383.9,495 388.7,531 393.6,515 403.0,522 407.0,535 411.0,520 413.7,549 417.7,529 421.0,540 425.0,529 429.0,569 433.0,542 437.0,536 440.0,551 445.0,557 450.0,549 454.0,540 458.0,562 461.0,547 466.0,569 471.0,549 474.0,558 480.5,521 484.0,536 489.7,551 493.0,547 497.7,555 504.0,529 509.5,521 509.9,523 511.1,521 512.3,513 513.5,509 514.6,510 515.8,495 516.9,500 518.1,511 519.2,516 520.4,508 521.5,491 522.6,505 523.8,522 524.9,527 526.0,514 527.1,502 528.2,503 529.3,515 530.4,515 531.4,511 532.5,510 533.6,498 534.7,492 535.7,479 536.8,476 537.8,479 538.9,464 539.9,461 541.0,459 542.0,455 543.0,456 544.1,457 545.1,460 546.1,454 547.1,432 548.1,430 549.1,428 550.1,419 551.1,406 552.1,402 553.1,402 554.0,388 555.0,373 556.0,357 556.9,352 557.9,365 558.9,385 559.8,389 560.8,396 561.7,399 562.7,406 563.6,407 564.5,404 565.5,408 566.4,434 567.3,432 568.2,433 569.1,429 570.1,455 571.0,458 571.9,440 572.8,449 573.7,455 574.6,441 575.5,471 576.3,494 577.2,469 578.1,464 579.0,484 579.8,521 580.7,538 581.6,511 582.4,498 583.3,497 584.2,506 585.0,501 585.9,500 586.7,519 587.6,518 588.4,500 589.2,498 590.1,509 590.9,490 591.7,469 592.5,463 593.4,453 594.2,441 595.0,432 595.8,421 596.6,434 597.4,446 598.2,453 599.0,465 599.8,481 600.6,491 601.4,490 602.2,479 603.0,467 603.8,479 604.6,509 605.3,496 606.1,520 606.9,511 607.7,478 608.4,476 609.2,487 610.0,517 610.7,511 611.5,519 612.2,539 613.0,521 613.7,537 614.5,526 615.2,527 616.0,530 616.7,527 617.4,570 618.2,544 618.9,523 619.6,516 620.4,528 621.1,541 621.8,527 622.5,517 623.3,512 624.0,521 624.7,524 625.4,515 626.1,522 626.8,554 627.5,533 628.2,523 628.9,532 629.6,514 630.3,518 631.0,526 631.7,538 632.4,541 633.1,543 633.8,545 634.5,546 635.1,551 635.8,552 636.5,546 637.2,532 637.9,526 638.5,531 639.2,536 639.9,558 640.5,543 641.2,528 641.9,522 642.5,519 643.2,511 643.8,519 644.5,521 645.1,516 645.8,533 646.4,536 647.1,534 647.7,540 648.4,549 649.0,546 649.6,538 650.3,561 650.9,574 651.6,566 652.2,553 652.8,554 653.4,572 654.1,566 654.7,546 655.3,567 655.9,578 656.6,583 657.2,563 657.8,565 658.4,586 659.0,571 659.6,559 660.2,553 660.9,567 661.5,576 662.1,553 662.7,551 663.3,565 663.9,600 664.5,611 665.1,545 665.7,549 666.3,563 666.8,566 667.4,582 668.0,583 668.6,594 669.2,593 669.8,602 670.4,618 670.9,619 671.5,596 672.1,578 672.7,559 673.3,563 673.8,558 674.4,565 675.0,556 675.5,553 676.1,549 676.7,552 677.2,558 677.8,567 678.4,558 678.9,554 679.5,559 680.0,542 680.6,550 681.2,541 681.7,566 682.3,586 682.8,602 683.4,555 683.9,533 684.5,541 685.0,543 685.6,541 686.1,554 686.6,546 687.2,522 687.7,542 688.3,552 688.8,544 689.3,535 689.9,544 690.4,538 690.9,542 691.5,551 692.0,551 692.5,539 693.0,542 693.6,541 694.1,543 694.6,539 695.1,547 695.7,548 696.2,516 696.7,526 697.2,546 697.7,563 698.2,537 698.8,513 699.3,493 699.8,484 700.3,485 700.8,479 701.3,509 701.8,503 702.3,477 702.8,494 703.3,521 703.8,521 704.3,493 704.8,492 705.3,495 705.8,499 706.3,508 706.8,508 707.3,510 707.8,517 708.3,514 708.8,515 709.3,513 709.8,516 710.3,540 710.7,542 711.2,533 711.7,537 712.2,563 712.7,558 713.2,557 713.6,567 714.1,572 714.6,540 715.1,531 715.6,535 716.5,534 716.5,527 717.5,547 717.9,554 718.4,557 718.9,577 719.3,575 719.8,567 720.3,578 720.7,568 721.2,559 721.7,562 722.1,549 722.6,577 723.5,569 723.5,587 724.4,568 724.9,562 725.3,558 725.8,546 726.2,543 726.7,552 727.2,563 727.6,563 728.5,543 728.5,538 729.4,540 729.8,539 730.3,556 730.7,554 731.2,549 731.6,546 732.5,535 732.5,514 733.4,538 733.8,574 734.3,552 734.7,529 735.1,515 735.6,510 736.5,515 736.5,521 737.3,513 737.7,504 738.2,492 738.6,507 739.5,499 739.5,520 740,496 741,493 741,497 742,513 742,509 742,521 743,498 744,510 744,523 744,529 745,530 746,532 746,534 747,534 748,546 748,571 748,540 749,551 750,553 750,580 750,551 751,548 752,555 752,561 752,568 753,567 754,578 754,589 754,589 755,570 756,580 756,597 756,610 757,601 758,598 758,614 758,606 759,605 760,616 760,640 760,615 761,599 762,615 762,617 762,608 763,616 764,615 764,619 764,619 764,631 765,632 766,632 766,641 766,622 768,626 768,662 768,668 769,651 770,640 770,631 770,645 770,703 771,670 772,654 772,659 772,667 774,649 774,638 774,649 775,648 776,656 776,636 776,643 776,649 778,653 778,671 778,656 778,647 779,647 780,643 780,649 780,658 782,669 782,646 782,663 782,669 784,649 784,641 784,643 785,634 786,625 786,678 786,651 786,642 788,658 788,667 788,663 788,653 790,655 790,662 790,657 790,693 792,660 792,655 792,658 792,659 794,648 794,635 794,643 794,660 796,651 796,640 796,641 796,652 798,653 798,636 798,641 798,666 800,659 800,652 800,654 800,649 802,655 802,659 802,658 802,644 804,639 804,625 804,634 804,663 806,653 806,641 806,645 806,632 808,640 808,642 808,627 808,657 810,653 810,620 810,646 810,660 812,658 812,641 812,656 812,676 814,675 814,670 814,664 814,684 816,682 816,670 816,675 816,684 818,682 818,670 818,669 818,694 820,706 820,677 820,672 820,686 822,680 822,704 822,691 822,685 824,688 824,680 824,681 824,710 826,691 826,685 826,690 826,708 828,717 828,695 828,687 828,704 830,707 830,747 830,693 830,688 832,691 832,702 832,695 832,718 834,702 834,686 834,698 834,711 836,705 836,684 836,674 836,712 838,704 838,700 838,694 838,671 840,693 840,713 840,701 840,680 842,665 842,706 842,707 842,683 844,672 844,696 844,679 844,720 846,693 846,672 846,677 846,685 848,685 848,695 848,682 848,713 850,684 850,664 850,662 850,678 852,684 852,669 852,672 852,680 854,669 854,696 854,703 854,717 856,724 856,674 856,666 856,685 858,694 858,671 858,680 858,702 860,712 860,673 860,672 860,661 862,662 862,671 862,678 862,662 864,671 864,698 864,692 864,658 866,658 866,661 866,653 866,669 868,678 868,652 868,651 868,668 870,653 870,641 870,648 870,655 872,648 872,679 872,675 872,637 874,643 874,671 874,653 874,648 876,649 876,663 876,669 876,635 878,642 878,621 878,641 878,649 880,642 880,670 880,668 880,636 882,638 882,648 882,651 882,676 884,651 884,621 884,614 884,637 886,643 886,613 886,625 886,640 888,612 888,588 888,598 888,611 890,602 890,596 890,597 890,587 892,581 892,600 892,606 892,573 894,575 894,627 894,606 894,582 896,575 896,599 896,599 896,590 898,593 898,575 898,575 898,605 900,615 900,593 900,591 900,617 902,605 902,571 902,573 902,621 904,625 904,575 904,580 904,556 906,552 906,572 906,573 906,552 908,555 908,542 908,541 908,549 910,547 910,558 910,565 910,543 912,540 912,548 912,558 912,537 914,535 914,546 914,543 914,523 916,531 916,546 916,534 916,525 918,524 918,519 918,519 918,511 920,513 920,532 920,530 920,508 922,508 922,536 922,524 922,515 924,517 924,529 924,533 924,510 926,507 926,540 926,537 926,524 928,528 928,552 928,549 928,562 930,555 930,584 930,577 930,602 932,607 932,565 932,574 932,598 934,597 934,574 934,581 934,564 936,573 936,582 936,580 936,560 938,544 938,583 938,566 938,553 940,540 940,570 940,573 940,550 942,557 942,536 942,545 942,551 944,558 944,526 944,555 944,584 946,548 946,534 946,526 946,556 948,571 948,523 948,533 948,571 950,561 950,546 950,543 950,569 952,571 952,551 952,565 952,617 954,590 954,571 954,579 954,610 956,598 956,584 956,585 956,606 958,604 958,587 958,591 958,646 960,615 960,595 960,618 960,634 962,614 962,660 962,660 962,627 964,622 964,634 964,638 964,651 966,642 966,618 966,619 966,669 968,653 968,637 968,625 968,677 970,651 970,635 970,650 970,590 972,623 972,672 972,666 972,653 974,637 974,689 974,688 974,650 976,637 976,664 976,639 976,698 978,675 978,650 978,648 978,682 980,674 980,651 980,653 980,717 982,690 982,665 982,657 982,676 984,675 984,708 984,685 984,672 986,680 986,712 986,711 986,675 988,656 988,709 988,689 988,672 990,674 990,706 990,712 990,678 992,673 992,701 992,687 992,666 994,673 994,687 994,692 994,664 996,665 996,709 996,702 996,659 998,654 998,689 998,695 998,670 1000,679 1000,645 1000,651 1000,670 1002,663 1002,645 1002,634 1002,661 1004,672 1004,638 1004,642 1004,676 1006,656 1006,632 1006,638 1006,626 1008,622 1008,643 1008,637 1008,628 1010,619 1010,641 1010,637 1010,624 1012,620 1012,632 1012,627 1012,612 1014,608 1014,640 1014,650 1014,607 1016,595 1016,637 1016,619 1016,600 1018,595 1018,614 1018,608 1018,584 1020,581 1020,630 1020,613 1020,587 1022,580 1022,622 1022,596 1022,577 1024,561 1024,596 1024,618 1024,570 1026,584 1026,625 1026,590 1026,574 1028,578 1028,599 1028,603 1028,558 1030,578 1030,612 1030,624 1030,578 1032,584 1032,603 1032,620 1032,583 1034,601 1034,639 1034,628 1034,597 1036,600 1036,634 1036,644 1036,596 1038,600 1038,626 1038,632 1038,612 1040,601 1040,627 1040,610 1040,656 1042,649 1042,607 1042,606 1042,594 1044,586 1044,622 1044,611 1044,601 1046,599 1046,614 1046,621 1046,590 1048,592 1048,584 1048,589 1048,612 1050,594 1050,635 1050,649 1050,613 1052,618 1052,634 1052,643 1052,615 1054,626 1054,649 1054,630 1054,673 1056,650 1056,631 1056,646 1056,667 1058,664 1058,645 1058,654 1058,695 1060,673 1060,638 1060,626 1060,605 1062,605 1062,660 1062,666 1062,631 1064,640 1064,673 1064,657 1064,637 1066,630 1066,651 1066,659 1066,629 1068,622 1068,653 1068,652 1068,618 1070,608 1070,639 1070,636 1070,616 1072,604 1072,661 1072,653 1072,613 1074,627 1074,682 1074,672 1074,625 1076,631 1076,654 1076,654 1076,629 1078,635 1078,664 1078,662 1078,633 1080,645 1080,672 1080,673 1080,659 1082,671 1082,700 1082,707 1082,679 1084,677 1084,698 1084,691 1084,652 1086,653 1086,697 1086,666 1086,645 1088,627 1088,683 1088,670 1088,611 1090,622 1090,638 1090,630 1090,673 1092,659 1092,697 1092,662 1092,639 1094,636 1094,662 1094,654 1094,678 1096,699 1096,639 1096,655 1096,692 1098,713 1098,642 1098,634 1098,670 1100,678 1100,647 1100,631 1100,678 1102,662 1102,618 1102,633 1102,675 1104,685 1104,646 1104,649 1104,682 1106,676 1106,637 1106,640 1106,667 1108,670 1108,641 1108,648 1108,684 1110,670 1110,633 1110,656 1110,681 1112,692 1112,655 1112,719 1112,560 1114,639 1114,678 1114,706 1114,636 1116,652 1116,692 1116,681 1116,658 1118,650 1118,708 1118,662 1118,642 1120,646 1120,627 1120,636 1120,662 1122,671 1122,649 1122,657 1122,706 1124,679 1124,649 1124,649 1124,627 1126,616 1126,599 1126,630 1126,705 1128,710 1128,684 1128,666 1128,735 1130,687 1130,663 1130,673 1130,653 1132,649 1132,688 1132,677 1132,547 1134,633 1134,669 1134,689 1134,634 1136,628 1136,673 1136,687 1136,623 1138,627 1138,607 1138,614 1138,650 1140,654 1140,632 1140,647 1140,692 1142,664 1142,720 1142,685 1142,656 1144,649 1144,711 1144,693 1144,653 1146,664 1146,712 1146,689 1146,673 1148,669 1148,712 1148,693 1148,671 1150,662 1150,718 1150,694 1150,666 1152,660 1152,695 1152,692 1152,663 1154,696 1154,717 1154,690 1154,754 1156,736 1156,693 1156,684 1156,758 1158,727 1158,675 1158,613 1158,748 1160,716 1160,682 1160,684 1160,701 1162,701 1162,732 1162,737 1162,690 1164,693 1164,753 1164,736 1164,700 1166,684 1166,734 1166,711 1166,684 1168,692 1168,748 1168,724 1168,696 1170,709 1170,727 1170,743 1170,709 1172,705 1172,745 1172,739 1172,705 1174,716 1174,686 1174,693 1174,757 1176,763 1176,693 1176,701 1176,779 1178,743 1178,701 1178,705 1178,746 1180,757 1180,716 1180,705 1180,744 1182,753 1182,706 1182,698 1182,725 1184,736 1184,709 1184,705 1184,725 1186,732 1186,676 1186,691 1186,738 1188,720 1188,697 1188,689 1188,743 1190,768 1190,693 1190,692 1190,754 1192,727 1192,700 1192,684 1192,730 1194,736 1194,700 1194,684 1194,728 1196,743 1196,684 1196,673 1196,709 1198,716 1198,573 1198,680 1198,719 1200,696 1200,756 1200,763 1200,683 1202,705 1202,745 1202,748 1202,715 1204,696 1204,760 1204,728 1204,709 1206,701 1206,763 1206,719 1206,697 1208,692 1208,728 1208,746 1208,707 1210,724 1210,769 1210,763 1210,739 1212,740 1212,770 1212,767 1212,734 1214,744 1214,796 1214,770 1214,729 1216,759 1216,634 1216,737 1216,757 1218,756 1218,777 1218,775 1218,746 1220,765 1220,783 1220,786 1220,759 1222,764 1222,801 1222,782 1222,764 1224,766 1224,782 1224,785 1224,768 1226,770 1226,795 1226,781 1226,761 1228,769 1228,785 1228,799 1228,767 1230,771 1230,798 1230,793 1230,767 1232,765 1232,802 1232,801 1232,770 1234,771 1234,790 1234,805 1234,769 1236,771 1236,790 1236,791 1236,773 1238,767 1238,794 1238,799 1238,762 1240,765 1240,788 1240,794 1240,770 1242,771 1242,812 1242,782 1242,769 1244,771 1244,796 1244,806 1244,772 1246,776 1246,788 1246,781 1246,797 1248,798 1248,778 1248,786 1248,798 1250,797 1250,779 1250,783 1250,806 1252,802 1252,781 1252,784 1252,816 1254,791 1254,785 1254,785 1254,795 1256,799 1256,786 1256,787 1256,804 1258,800 1258,787 1258,785 1258,804 1260,803 1260,785 1260,789 1260,812 1262,817 1262,800 1262,807 1262,829 1264,840 1264,804 1264,803 1264,825 1266,819 1266,803 1266,803 1266,824 1268,828 1268,809 1268,808 1268,827 1270,840 1270,808 1270,803 1270,840 1272,826 1272,808 1272,814 1272,822 1274,829 1274,813 1274,813 1274,827 1276,819 1276,809 1276,811 1276,839 1278,826 1278,813 1278,816 1278,841 1280,825 1280,811 1280,815 1280,839 1282,836 1282,819 1282,822 1282,844 1284,843 1284,822 1284,826 1284,838 1286,839 1286,816 1286,820 1286,836 1288,841 1288,828 1288,823 1288,838 1290,843 1290,827 1290,824 1290,846 1292,844 1292,823 1292,830 1292,842 1294,837 1294,820 1294,827 1294,842 1296,837 1296,826 1296,824 1296,840 1298,847 1298,826 1298,825 1298,841 1300,840 1300,828 1300,828 1300,851 1302,847 1302,832 1302,825 1302,857 1304,839 1304,829 1304,830 1304,844 1306,841 1306,825 1306,829 1306,843 1308,844 1308,826 1308,828 1308,843 1310,853 1310,828 1310,829 1310,846 1312,843 1312,828 1312,829 1312,853 1314,852 1314,824 1314,827 1314,848 1316,836 1316,822 1316,826 1316,859 1318,851 1318,834 1318,829 1318,845 1320,845 1320,828 1320,829 1320,845 1322,847 1322,831 1322,826 1322,843 1324,849 1324,826 1324,830 1324,851 1326,842 1326,827 1326,836 1326,862 1328,845 1328,832 1328,828 1328,846 1330,846 1330,838 1330,839 1330,830 1332,833 1332,841 1332,839 1332,828 1334,830 1334,842 1334,842 1334,834 1336,827 1336,844 1336,834 1336,858 1338,845 1338,831 1338,830 1338,849 1340,837 1340,830 1340,831 1340,843 1342,848 1342,831 1342,832 1342,840 1344,843 1344,820 1344,829 1344,847 1346,852 1346,832 1346,835 1346,842 1348,847 1348,821 1348,831 1348,843 1350,844 1350,833 1350,830 1350,839 1352,836 1352,853 1352,840 1352,827 1354,826 1354,854 1354,842 1354,830 1356,830 1356,841 1356,845 1356,832 1358,832 1358,849 1358,845 1358,834 1360,829 1360,846 1360,853 1360,829 1362,832 1362,846 1362,834 1362,860 1364,842 1364,831 1364,827 1364,846 1366,831 1366,863 1366,842 1366,831 1368,833 1368,847 1368,853 1368,825 1370,829 1370,841 1370,844 1370,831 1372,831 1372,854 1372,851 1372,832 1374,827 1374,842 1374,828 1374,857 1376,845 1376,833 1376,829 1376,845 1378,841 1378,825 1378,826 1378,850 1380,843 1380,833 1380,832 1380,854 1382,841 1382,832 1382,831 1382,848 1384,858 1384,828 1384,829 1384,862 1386,855 1386,830 1386,834 1386,848 1388,847 1388,834 1388,829 1388,855 1390,846 1390,839 1390,836 1390,857 1392,849 1392,836 1392,836 1392,851 1394,850 1394,835 1394,830 1394,847 1396,836 1396,863 1396,848 1396,838 1398,831 1398,846 1398,841 1398,828 1400,832 1400,858 1400,847 1400,827 1402,830 1402,847 1402,849 1402,837 1404,833 1404,846 1404,849 1404,830 1406,831 1406,846 1406,848 1406,832 1408,833 1408,850 1408,857 1408,833 1410,833 1410,848 1410,850 1410,837 1412,839 1412,851 1412,857 1412,831 1414,831 1414,855 1414,842 1414,828 1416,835 1416,838 1416,844 1416,827 1418,830 1418,845 1418,847 1418,830 1420,832 1420,845 1420,856 1420,832 1422,837 1422,854 1422,854 1422,831 1424,835 1424,863 1424,852 1424,825 1426,828 1426,846 1426,836 1426,858 1428,854 1428,834 1428,836 1428,851 1430,854 1430,832 1430,835 1430,846 1432,851 1432,836 1432,837 1432,847 1434,844 1434,836 1434,837 1434,845 1436,840 1436,833 1436,836 1436,844 1438,834 1438,857 1438,850 1438,833 1440,834 1440,849 1440,856 1440,827 1442,831 1442,855 1442,848 1442,836 1444,840 1444,862 1444,858 1444,835 1446,832 1446,850 1446,854 1446,838 1448,835 1448,845 1448,845 1448,837 1450,843 1450,829 1450,838 1450,852 1452,860 1452,830 1452,837 1452,857 1454,849 1454,837 1454,832 1454,852 1456,851 1456,839 1456,832 1456,847 1458,850 1458,835 1458,833 1458,864 1460,845 1460,835 1460,832 1460,845 1462,837 1462,856 1462,864 1462,834 1464,836 1464,848 1464,845 1464,834 1466,832 1466,850 1466,851 1466,838 1468,835 1468,841 1468,834 1468,855 1470,849 1470,836 1470,832 1470,848 1472,857 1472,836 1472,825 1472,847 1474,848 1474,832 1474,830 1474,846 1476,852 1476,835 1476,836 1476,851 1478,847 1478,834 1478,834 1478,850 1480,850 1480,840 1480,838 1480,845 1482,841 1482,835 1482,831 1482,851 1484,846 1484,837 1484,837 1484,850 1486,864 1486,834 1486,837 1486,857 1488,846 1488,836 1488,833 1488,852 1490,857 1490,834 1490,838 1490,864 1492,859 1492,838 1492,832 1492,847 1494,855 1494,834 1494,834 1494,841 1496,836 1496,853 1496,852 1496,839 1498,832 1498,853 1498,844 1498,831 1500,835 1500,851 1500,858 1500,834 1502,835 1502,858 1502,853 1502,836 1504,839 1504,845 1504,854 1504,835 1506,836 1506,848 1506,844 1506,833 1508,832 1508,854 1508,852 1508,838 1510,846 1510,828 1510,836 1510,845 1512,856 1512,831 1512,836 1512,863 1514,846 1514,836 1514,833 1514,850 1516,840 1516,863 1516,851 1516,835 1518,835 1518,857 1518,847 1518,838 1520,833 1520,852 1520,850 1520,834 1522,836 1522,859 1522,849 1522,835 1524,833 1524,846 1524,855 1524,830 1526,835 1526,853 1526,851 1526,834 1528,841 1528,858 1528,852 1528,840 1530,837 1530,852 1530,854 1530,836 1532,835 1532,847 1532,850 1532,835 1534,838 1534,856 1534,862 1534,834 1536,836 1536,850 1536,864 1536,834 1538,834 1538,847 1538,845 1538,837 1540,833 1540,852 1540,849 1540,834 1542,835 1542,846 1542,852 1542,836 1544,831 1544,857 1544,859 1544,837 1546,840 1546,859 1546,858 1546,842 1548,839 1548,849 1548,852 1548,836 1550,837 1550,859 1550,852 1550,837 1552,833 1552,850 1552,846 1552,833 1554,833 1554,847 1554,851 1554,838 1556,838 1556,856 1556,854 1556,842 1558,835 1558,863 1558,845 1558,835 1560,834 1560,846 1560,854 1560,834 1562,842 1562,856 1562,846 1562,838 1564,832 1564,850 1564,855 1564,837 1566,839 1566,852 1566,856 1566,835 1568,840 1568,849 1568,853 1568,841 1570,839 1570,854 1570,858 1570,841 1572,832 1572,854 1572,850 1572,832 1574,837 1574,852 1574,851 1574,838 1576,836 1576,854 1576,847 1576,838 1578,835 1578,853 1578,853 1578,837 1580,836 1580,849 1580,856 1580,839 1582,837 1582,851 1582,858 1582,837 1584,835 1584,854 1584,848 1584,838 1586,838 1586,850 1586,859 1586,835 1588,834 1588,857 1588,855 1588,839 1590,842 1590,861 1590,844 1590,836 1592,834 1592,854 1592,857 1592,837 1594,835 1594,849 1594,854 1594,835 1596,840 1596,853 1596,854 1596,835 1598,842 1598,856 1598,853 1598,837 1600,835 1600,851 1600,854 1600,833 1602,837 1602,846 1602,837 1602,858 1604,849 1604,839 1604,837 1604,848 1606,850 1606,836 1606,837 1606,855 1608,853 1608,836 1608,839 1608,849 1610,855 1610,836 1610,837 1610,853 1612,852 1612,839 1612,837 1612,856 1614,850 1614,836 1614,841 1614,847 1616,840 1616,856 1616,849 1616,839 1618,840 1618,860 1618,855 1618,842 1620,839 1620,851 1620,853 1620,833 1622,839 1622,850 1622,857 1622,836 1624,839 1624,851 1624,856 1624,840 1626,830 1626,856 1626,859 1626,840 1628,843 1628,854 1628,860 1628,837 1630,835 1630,855 1630,859 1630,836 1632,836 1632,852 1632,850 1632,839 1634,839 1634,850 1634,858 1634,834 1636,837 1636,857 1636,858 1636,838 1638,840 1638,856 1638,848 1638,833 1640,840 1640,854 1640,852 1640,838 1642,841 1642,857 1642,851 1642,835 1644,837 1644,855 1644,847 1644,838 1646,837 1646,846 1646,847 1646,834 1648,841 1648,860 1648,849 1648,840 1650,838 1650,854 1650,853 1650,839 1652,836 1652,855 1652,854 1652,839 1654,838 1654,852 1654,849 1654,839 1656,838 1656,864 1656,848 1656,833 1658,844 1658,853 1658,853 1658,839 1660,837 1660,845 1660,837 1660,854 1662,851 1662,839 1662,837 1662,856 1664,849 1664,841 1664,840 1664,848 1666,839 1666,857 1666,864 1666,832 1668,838 1668,852 1668,856 1668,843 1670,842 1670,861 1670,850 1670,840 1672,841 1672,854 1672,866 1672,838 1674,840 1674,863 1674,852 1674,838 1676,836 1676,863 1676,855 1676,837 1678,841 1678,854 1678,851 1678,840 1680,837 1680,866 1680,858 1680,840 1682,836 1682,855 1682,851 1682,840 1684,837 1684,850 1684,852 1684,836 1686,841 1686,849 1686,851 1686,838 1688,840 1688,852 1688,849 1688,840 1690,841 1690,850 1690,851 1690,839 1692,841 1692,855 1692,849 1692,841 1694,843 1694,849 1694,848 1694,838 1696,843 1696,856 1696,852 1696,841 1698,841 1698,858 1698,867 1698,842 1700,842 1700,855 1700,853 1700,844 1702,841 1702,852 1702,854 1702,841 1704,838 1704,849 1704,843 1704,858 1706,866 1706,843 1706,839 1706,860 1708,858 1708,842 1708,843 1708,850 1710,853 1710,840 1710,842 1710,848 1712,841 1712,857 1712,860 1712,842 1714,838 1714,853 1714,861 1714,839 1716,843 1716,856 1716,862 1716,840 1718,836 1718,867 1718,853 1718,842 1720,840 1720,854 1720,851 1720,841 1722,841 1722,857 1722,853 1722,843 1724,843 1724,855 1724,860 1724,841 1726,843 1726,857 1726,848 1726,842 1728,844 1728,857 1728,854 1728,839 1730,841 1730,852 1730,857 1730,840 1732,841 1732,851 1732,857 1732,838 1734,844 1734,850 1734,852 1734,842 1736,842 1736,862 1736,856 1736,840 1738,842 1738,853 1738,862 1738,843 1740,841 1740,856 1740,862 1740,842 1742,839 1742,850 1742,851 1742,839 1744,841 1744,857 1744,867 1744,841 1746,841 1746,851 1746,858 1746,842 1748,840 1748,853 1748,861 1748,841 1750,847 1750,860 1750,855 1750,841 1752,843 1752,856 1752,858 1752,843 1754,837 1754,863 1754,851 1754,843 1756,839 1756,855 1756,854 1756,843 1758,842 1758,858 1758,854 1758,842 1760,840 1760,854 1760,849 1760,844 1762,844 1762,854 1762,852 1762,840 1764,842 1764,852 1764,853 1764,845 1766,839 1766,864 1766,854 1766,842 1768,843 1768,851 1768,857 1768,845" fill="none" stroke="#ff00ff" stroke-width="2" stroke-linejoin="miter" stroke-miterlimit="2" shape-rendering="crispEdges"/>
<polyline points="216.4,527 222.0,520 228.5,514 234.0,523 240.6,505 244.6,522 249.0,508 252.7,496 258.0,497 263.0,512 267.0,501 270.4,494 273.5,508 276.8,523 280.0,500 285.7,504 289.7,478 293.0,482 297.0,486 301.8,498 305.0,487 308.2,476 311.0,494 313.9,514 317.9,483 323.0,485 328.4,483 332.4,494 335.5,487 338.8,479 343.0,490 346.9,500 351.7,491 355.0,513 358.5,497 362.0,486 367.0,511 371.5,502 375.9,493 379.0,499 383.9,483 386.5,506 388.7,528 393.6,511 398.0,511 403.0,511 407.0,528 411.0,510 413.7,537 417.7,512 421.0,523 425.0,510 430.6,529 437.0,516 440.0,532 444.0,526 450.0,533 454.0,523 458.0,543 461.0,528 465.0,544 471.0,529 474.0,541 480.5,508 484.0,522 487.0,536 491.0,524 496.0,541 500.7,503 504.7,514 509.5,506 509.9,496 511.1,493 512.3,493 513.5,489 514.6,491 515.8,485 516.9,475 518.1,483 519.2,487 520.4,473 521.5,467 522.6,474 523.8,478 524.9,484 526.0,484 527.1,474 528.2,474 529.3,491 530.4,502 531.4,500 532.5,490 533.6,489 534.7,462 535.7,442 536.8,437 537.8,443 538.9,446 539.9,439 541.0,430 542.0,448 543.0,443 544.1,443 545.1,448 546.1,463 547.1,464 548.1,462 549.1,433 550.1,421 551.1,402 552.1,392 553.1,391 554.0,391 555.0,370 556.0,338 556.9,313 557.9,318 558.9,338 559.8,356 560.8,367 561.7,375 562.7,391 563.6,399 564.5,394 565.5,391 566.4,405 567.3,437 568.2,421 569.1,413 570.1,409 571.0,415 571.9,421 572.8,427 573.7,429 574.6,419 575.5,416 576.3,418 577.2,433 578.1,441 579.0,440 579.8,441 580.7,439 581.6,441 582.4,443 583.3,440 584.2,447 585.0,464 585.9,464 586.7,468 587.6,477 588.4,463 589.2,449 590.1,457 590.9,459 591.7,453 592.5,449 593.4,442 594.2,443 595.0,448 595.8,461 596.6,448 597.4,433 598.2,430 599.0,441 599.8,446 600.6,445 601.4,454 602.2,455 603.0,459 603.8,499 604.6,476 605.3,459 606.1,459 606.9,470 607.7,472 608.4,470 609.2,480 610.0,484 610.7,479 611.5,486 612.2,493 613.0,489 613.7,496 614.5,495 615.2,482 616.0,489 616.7,500 617.4,517 618.2,535 618.9,541 619.6,534 620.4,528 621.1,528 621.8,545 622.5,546 623.3,532 624.0,527 624.7,529 625.4,525 626.1,535 626.8,559 627.5,554 628.2,541 628.9,546 629.6,556 630.3,552 631.0,549 631.7,550 632.4,560 633.1,559 633.8,564 634.5,567 635.1,556 635.8,558 636.5,551 637.2,554 637.9,561 638.5,545 639.2,545 639.9,550 640.5,537 641.2,527 641.9,533 642.5,530 643.2,528 643.8,527 644.5,531 645.1,536 645.8,550 646.4,555 647.1,540 647.7,546 648.4,541 649.0,549 649.6,544 650.3,571 650.9,582 651.6,573 652.2,570 652.8,568 653.4,568 654.1,572 654.7,569 655.3,574 655.9,586 656.6,580 657.2,573 657.8,587 658.4,586 659.0,574 659.6,571 660.2,587 660.9,590 661.5,582 662.1,575 662.7,575 663.3,592 663.9,598 664.5,587 665.1,562 665.7,560 666.3,552 666.8,572 667.4,587 668.0,601 668.6,619 669.2,622 669.8,604 670.4,587 670.9,588 671.5,593 672.1,591 672.7,593 673.3,597 673.8,591 674.4,579 675.0,574 675.5,576 676.1,567 676.7,567 677.2,577 677.8,580 678.4,592 678.9,616 679.5,602 680.0,575 680.6,563 681.2,579 681.7,582 682.3,584 682.8,588 683.4,577 683.9,556 684.5,563 685.0,561 685.6,568 686.1,579 686.6,583 687.2,576 687.7,580 688.3,583 688.8,570 689.3,573 689.9,605 690.4,603 690.9,620 691.5,590 692.0,567 692.5,560 693.0,560 693.6,555 694.1,555 694.6,566 695.1,570 695.7,565 696.2,559 696.7,548 697.2,541 697.7,531 698.2,528 698.8,520 699.3,509 699.8,525 700.3,522 700.8,491 701.3,496 701.8,507 702.3,520 702.8,498 703.3,490 703.8,499 704.3,484 704.8,463 705.3,455 705.8,464 706.3,475 706.8,470 707.3,480 707.8,487 708.3,497 708.8,503 709.3,495 709.8,508 710.3,544 710.7,528 711.2,529 711.7,557 712.2,532 712.7,531 713.2,530 713.6,535 714.1,538 714.6,535 715.1,535 715.6,543 716.5,540 716.5,553 717.5,580 717.9,573 718.4,561 718.9,572 719.3,579 719.8,563 720.3,572 720.7,579 721.2,568 721.7,573 722.1,578 722.6,579 723.5,572 723.5,563 724.4,559 724.9,577 725.3,573 725.8,554 726.2,559 726.7,554 727.2,563 727.6,571 728.5,559 728.5,530 729.4,516 729.8,531 730.3,533 730.7,543 731.2,521 731.6,518 732.5,523 732.5,509 733.4,509 733.8,523 734.3,521 734.7,516 735.1,502 735.6,497 736.5,498 736.5,514 737.3,488 737.7,480 738.2,478 738.6,486 739.5,483 739.5,466 740,468 741,474 741,484 742,488 742,490 742,486 743,493 744,500 744,498 744,510 745,499 746,507 746,511 747,509 748,516 748,544 748,531 749,520 750,546 750,560 750,568 751,568 752,562 752,582 752,583 753,580 754,579 754,627 754,618 755,602 756,602 756,591 756,597 757,603 758,599 758,612 758,593 759,605 760,607 760,649 760,592 761,594 762,608 762,621 762,615 763,610 764,622 764,596 764,602 764,629 765,632 766,647 766,635 766,615 768,615 768,609 768,624 769,670 770,654 770,627 770,627 770,620 771,613 772,624 772,632 772,653 774,627 774,620 774,629 775,621 776,624 776,614 776,614 776,619 778,622 778,630 778,632 778,627 779,629 780,627 780,640 780,650 782,660 782,627 782,641 782,659 784,656 784,633 784,624 785,631 786,637 786,645 786,645 786,651 788,652 788,634 788,631 788,642 790,642 790,691 790,654 790,648 792,647 792,640 792,645 792,655 794,651 794,633 794,638 794,643 796,640 796,633 796,656 796,669 798,663 798,641 798,643 798,647 800,658 800,660 800,653 800,647 802,654 802,679 802,670 802,700 804,663 804,645 804,654 804,661 806,669 806,632 806,631 806,662 808,647 808,637 808,638 808,633 810,635 810,630 810,642 810,648 812,652 812,627 812,642 812,666 814,659 814,674 814,672 814,661 816,662 816,679 816,680 816,668 818,663 818,677 818,678 818,669 820,665 820,678 820,679 820,673 822,671 822,675 822,672 822,679 824,681 824,676 824,680 824,700 826,697 826,685 826,685 826,696 828,695 828,699 828,686 828,718 830,713 830,699 830,694 830,677 832,694 832,701 832,703 832,699 834,706 834,689 834,697 834,698 836,699 836,712 836,712 836,695 838,698 838,708 838,704 838,688 840,685 840,708 840,688 840,677 842,675 842,691 842,687 842,680 844,680 844,689 844,681 844,704 846,693 846,677 846,681 846,688 848,669 848,729 848,699 848,691 850,682 850,673 850,676 850,700 852,714 852,675 852,666 852,688 854,678 854,667 854,670 854,694 856,691 856,666 856,656 856,681 858,660 858,704 858,677 858,661 860,664 860,690 860,679 860,664 862,664 862,702 862,670 862,667 864,671 864,689 864,683 864,662 866,662 866,668 866,670 866,660 868,658 868,665 868,650 868,647 870,645 870,651 870,651 870,634 872,641 872,665 872,678 872,643 874,653 874,676 874,665 874,655 876,656 876,641 876,641 876,647 878,649 878,631 878,621 878,644 880,637 880,627 880,629 880,643 882,643 882,634 882,628 882,645 884,637 884,622 884,624 884,658 886,627 886,605 886,609 886,639 888,613 888,598 888,601 888,591 890,597 890,604 890,598 890,591 892,583 892,607 892,596 892,583 894,583 894,602 894,595 894,584 896,585 896,581 896,579 896,593 898,581 898,614 898,591 898,577 900,575 900,596 900,587 900,635 902,622 902,592 902,575 902,614 904,589 904,581 904,571 904,596 906,569 906,558 906,549 906,546 908,542 908,557 908,563 908,535 910,541 910,557 910,545 910,538 912,538 912,551 912,556 912,540 914,539 914,521 914,534 914,569 916,531 916,522 916,524 916,506 918,512 918,525 918,517 918,509 920,510 920,514 920,521 920,503 922,503 922,532 922,550 922,514 924,516 924,530 924,518 924,507 926,508 926,521 926,524 926,541 928,548 928,518 928,547 928,563 930,561 930,573 930,573 930,583 932,590 932,568 932,578 932,606 934,598 934,574 934,575 934,587 936,582 936,544 936,544 936,553 938,550 938,561 938,549 938,541 940,535 940,557 940,549 940,570 942,559 942,542 942,542 942,571 944,574 944,552 944,548 944,605 946,584 946,563 946,563 946,575 948,580 948,569 948,570 948,601 950,605 950,589 950,606 950,620 952,620 952,596 952,599 952,609 954,605 954,617 954,606 954,633 956,617 956,601 956,592 956,625 958,614 958,607 958,609 958,651 960,659 960,611 960,618 960,628 962,624 962,643 962,629 962,618 964,614 964,643 964,636 964,665 966,643 966,628 966,634 966,658 968,667 968,637 968,635 968,676 970,642 970,633 970,652 970,596 972,642 972,655 972,646 972,666 974,651 974,632 974,630 974,649 976,649 976,684 976,659 976,644 978,645 978,670 978,661 978,650 980,657 980,679 980,672 980,689 982,683 982,661 982,659 982,684 984,691 984,675 984,677 984,699 986,700 986,668 986,683 986,724 988,696 988,666 988,674 988,695 990,694 990,675 990,679 990,702 992,690 992,679 992,673 992,688 994,691 994,669 994,674 994,682 996,684 996,668 996,672 996,656 998,663 998,682 998,681 998,664 1000,660 1000,685 1000,697 1000,659 1002,664 1002,635 1002,641 1002,663 1004,662 1004,640 1004,629 1004,659 1006,643 1006,620 1006,613 1006,634 1008,629 1008,611 1008,594 1008,661 1010,640 1010,607 1010,618 1010,653 1012,627 1012,608 1012,608 1012,623 1014,631 1014,611 1014,615 1014,601 1016,597 1016,632 1016,616 1016,597 1018,597 1018,608 1018,606 1018,575 1020,588 1020,610 1020,627 1020,584 1022,599 1022,565 1022,567 1022,599 1024,598 1024,570 1024,569 1024,618 1026,610 1026,567 1026,564 1026,602 1028,580 1028,563 1028,576 1028,588 1030,579 1030,608 1030,599 1030,585 1032,582 1032,603 1032,592 1032,618 1034,631 1034,602 1034,606 1034,624 1036,627 1036,605 1036,600 1036,638 1038,617 1038,665 1038,637 1038,614 1040,616 1040,643 1040,634 1040,595 1042,606 1042,622 1042,630 1042,605 1044,610 1044,598 1044,597 1044,623 1046,605 1046,596 1046,596 1046,568 1048,564 1048,547 1048,556 1048,590 1050,586 1050,614 1050,623 1050,581 1052,584 1052,624 1052,617 1052,591 1054,622 1054,635 1054,644 1054,615 1056,609 1056,638 1056,633 1056,598 1058,600 1058,638 1058,632 1058,661 1060,662 1060,639 1060,642 1060,669 1062,690 1062,635 1062,642 1062,662 1064,670 1064,644 1064,636 1064,659 1066,670 1066,624 1066,631 1066,611 1068,606 1068,645 1068,657 1068,590 1070,614 1070,634 1070,657 1070,605 1072,619 1072,662 1072,658 1072,616 1074,643 1074,671 1074,643 1074,619 1076,629 1076,652 1076,648 1076,667 1078,666 1078,636 1078,618 1078,667 1080,620 1080,581 1080,588 1080,635 1082,648 1082,679 1082,666 1082,705 1084,707 1084,633 1084,666 1084,694 1086,703 1086,643 1086,638 1086,654 1088,652 1088,637 1088,637 1088,667 1090,664 1090,631 1090,631 1090,663 1092,647 1092,681 1092,685 1092,660 1094,648 1094,694 1094,661 1094,635 1096,627 1096,651 1096,640 1096,677 1098,655 1098,629 1098,624 1098,655 1100,666 1100,618 1100,606 1100,640 1102,655 1102,612 1102,596 1102,636 1104,630 1104,682 1104,647 1104,630 1106,622 1106,643 1106,649 1106,697 1108,668 1108,623 1108,624 1108,673 1110,679 1110,632 1110,648 1110,682 1112,676 1112,651 1112,677 1112,556 1114,657 1114,675 1114,672 1114,645 1116,651 1116,677 1116,665 1116,575 1118,578 1118,516 1118,526 1118,568 1120,571 1120,639 1120,646 1120,615 1122,604 1122,629 1122,638 1122,609 1124,622 1124,588 1124,590 1124,620 1126,629 1126,669 1126,689 1126,635 1128,633 1128,692 1128,684 1128,642 1130,631 1130,679 1130,661 1130,630 1132,645 1132,675 1132,700 1132,560 1134,631 1134,647 1134,635 1134,673 1136,674 1136,579 1136,615 1136,647 1138,640 1138,592 1138,624 1138,649 1140,636 1140,686 1140,687 1140,657 1142,638 1142,683 1142,685 1142,645 1144,641 1144,686 1144,698 1144,647 1146,655 1146,679 1146,661 1146,711 1148,674 1148,653 1148,660 1148,678 1150,678 1150,651 1150,642 1150,692 1152,694 1152,648 1152,656 1152,636 1154,648 1154,667 1154,651 1154,684 1156,696 1156,667 1156,669 1156,704 1158,695 1158,668 1158,708 1158,616 1160,649 1160,682 1160,676 1160,621 1162,649 1162,673 1162,697 1162,639 1164,641 1164,669 1164,643 1164,700 1166,705 1166,671 1166,684 1166,707 1168,712 1168,674 1168,678 1168,714 1170,700 1170,676 1170,675 1170,700 1172,677 1172,724 1172,709 1172,679 1174,678 1174,694 1174,680 1174,712 1176,720 1176,687 1176,688 1176,708 1178,711 1178,687 1178,691 1178,716 1180,736 1180,688 1180,693 1180,716 1182,708 1182,674 1182,676 1182,706 1184,707 1184,680 1184,695 1184,659 1186,664 1186,717 1186,728 1186,685 1188,678 1188,715 1188,724 1188,685 1190,691 1190,744 1190,719 1190,673 1192,692 1192,728 1192,722 1192,692 1194,695 1194,720 1194,736 1194,687 1196,681 1196,735 1196,689 1196,636 1198,674 1198,576 1198,675 1198,703 1200,716 1200,759 1200,757 1200,720 1202,711 1202,741 1202,738 1202,676 1204,677 1204,718 1204,731 1204,701 1206,710 1206,734 1206,743 1206,719 1208,717 1208,760 1208,748 1208,719 1210,741 1210,692 1210,700 1210,716 1212,666 1212,639 1212,645 1212,744 1214,761 1214,724 1214,738 1214,759 1216,784 1216,632 1216,764 1216,774 1218,763 1218,806 1218,773 1218,740 1220,763 1220,803 1220,795 1220,760 1222,755 1222,787 1222,803 1222,757 1224,758 1224,787 1224,811 1224,763 1226,769 1226,781 1226,769 1226,811 1228,795 1228,767 1228,766 1228,797 1230,810 1230,718 1230,775 1230,791 1232,781 1232,772 1232,776 1232,790 1234,787 1234,769 1234,772 1234,798 1236,785 1236,762 1236,773 1236,796 1238,790 1238,721 1238,769 1238,787 1240,782 1240,769 1240,771 1240,803 1242,787 1242,778 1242,777 1242,794 1244,794 1244,760 1244,773 1244,797 1246,790 1246,774 1246,777 1246,788 1248,788 1248,780 1248,782 1248,800 1250,796 1250,778 1250,784 1250,812 1252,814 1252,777 1252,783 1252,790 1254,801 1254,778 1254,775 1254,794 1256,791 1256,780 1256,780 1256,797 1258,802 1258,785 1258,783 1258,794 1260,791 1260,816 1260,807 1260,788 1262,793 1262,810 1262,803 1262,823 1264,828 1264,806 1264,805 1264,825 1266,822 1266,800 1266,802 1266,820 1268,822 1268,805 1268,804 1268,813 1270,804 1270,831 1270,821 1270,802 1272,804 1272,836 1272,834 1272,796 1274,800 1274,823 1274,824 1274,806 1276,804 1276,834 1276,818 1276,800 1278,807 1278,827 1278,816 1278,842 1280,821 1280,812 1280,805 1280,819 1282,816 1282,803 1282,812 1282,819 1284,828 1284,808 1284,819 1284,832 1286,826 1286,821 1286,820 1286,841 1288,831 1288,824 1288,824 1288,837 1290,843 1290,822 1290,826 1290,838 1292,843 1292,823 1292,825 1292,851 1294,842 1294,824 1294,830 1294,853 1296,839 1296,828 1296,827 1296,838 1298,836 1298,826 1298,827 1298,836 1300,845 1300,824 1300,826 1300,844 1302,833 1302,856 1302,837 1302,828 1304,829 1304,842 1304,838 1304,824 1306,832 1306,839 1306,841 1306,830 1308,829 1308,832 1308,826 1308,843 1310,848 1310,832 1310,830 1310,850 1312,839 1312,829 1312,827 1312,847 1314,843 1314,825 1314,829 1314,836 1316,840 1316,827 1316,827 1316,844 1318,846 1318,835 1318,843 1318,825 1320,828 1320,842 1320,848 1320,827 1322,830 1322,859 1322,844 1322,832 1324,826 1324,839 1324,829 1324,851 1326,845 1326,825 1326,824 1326,839 1328,842 1328,834 1328,832 1328,846 1330,843 1330,831 1330,829 1330,844 1332,839 1332,830 1332,825 1332,843 1334,848 1334,831 1334,831 1334,852 1336,843 1336,830 1336,827 1336,843 1338,847 1338,832 1338,830 1338,838 1340,835 1340,859 1340,836 1340,830 1342,829 1342,845 1342,844 1342,829 1344,828 1344,859 1344,846 1344,831 1346,834 1346,845 1346,850 1346,834 1348,831 1348,845 1348,845 1348,832 1350,830 1350,845 1350,843 1350,830 1352,830 1352,859 1352,841 1352,828 1354,830 1354,844 1354,840 1354,831 1356,823 1356,840 1356,843 1356,834 1358,830 1358,839 1358,832 1358,847 1360,851 1360,832 1360,836 1360,822 1362,829 1362,848 1362,846 1362,833 1364,833 1364,860 1364,845 1364,834 1366,829 1366,849 1366,841 1366,829 1368,829 1368,849 1368,848 1368,831 1370,832 1370,841 1370,833 1370,857 1372,844 1372,830 1372,831 1372,857 1374,840 1374,828 1374,834 1374,844 1376,840 1376,831 1376,832 1376,850 1378,844 1378,831 1378,830 1378,846 1380,840 1380,832 1380,829 1380,855 1382,853 1382,831 1382,825 1382,852 1384,851 1384,833 1384,828 1384,842 1386,841 1386,833 1386,835 1386,856 1388,843 1388,830 1388,834 1388,850 1390,840 1390,832 1390,829 1390,841 1392,848 1392,830 1392,830 1392,857 1394,842 1394,830 1394,832 1394,843 1396,840 1396,831 1396,830 1396,848 1398,847 1398,830 1398,829 1398,844 1400,833 1400,855 1400,844 1400,831 1402,832 1402,854 1402,848 1402,834 1404,837 1404,846 1404,845 1404,830 1406,830 1406,851 1406,847 1406,834 1408,831 1408,847 1408,841 1408,827 1410,835 1410,850 1410,840 1410,832 1412,830 1412,842 1412,840 1412,829 1414,833 1414,849 1414,848 1414,832 1416,829 1416,843 1416,840 1416,832 1418,836 1418,849 1418,860 1418,834 1420,833 1420,842 1420,844 1420,833 1422,841 1422,855 1422,851 1422,835 1424,833 1424,842 1424,844 1424,827 1426,825 1426,841 1426,843 1426,833 1428,829 1428,850 1428,844 1428,832 1430,830 1430,845 1430,852 1430,834 1432,834 1432,860 1432,859 1432,832 1434,837 1434,855 1434,847 1434,832 1436,830 1436,847 1436,844 1436,834 1438,834 1438,848 1438,849 1438,832 1440,824 1440,848 1440,851 1440,827 1442,834 1442,848 1442,855 1442,832 1444,832 1444,848 1444,844 1444,828 1446,831 1446,846 1446,843 1446,832 1448,832 1448,843 1448,847 1448,836 1450,832 1450,847 1450,844 1450,833 1452,833 1452,848 1452,844 1452,834 1454,832 1454,847 1454,852 1454,834 1456,837 1456,848 1456,851 1456,838 1458,829 1458,851 1458,846 1458,831 1460,832 1460,845 1460,848 1460,830 1462,837 1462,846 1462,854 1462,834 1464,829 1464,843 1464,844 1464,832 1466,832 1466,842 1466,829 1466,859 1468,846 1468,836 1468,837 1468,861 1470,848 1470,829 1470,835 1470,851 1472,844 1472,834 1472,837 1472,848 1474,847 1474,834 1474,835 1474,840 1476,837 1476,847 1476,854 1476,830 1478,835 1478,846 1478,849 1478,835 1480,835 1480,847 1480,852 1480,834 1482,832 1482,848 1482,851 1482,836 1484,830 1484,849 1484,848 1484,831 1486,836 1486,861 1486,841 1486,829 1488,834 1488,846 1488,847 1488,835 1490,835 1490,847 1490,855 1490,834 1492,836 1492,844 1492,847 1492,836 1494,837 1494,854 1494,847 1494,838 1496,835 1496,844 1496,847 1496,834 1498,833 1498,853 1498,848 1498,837 1500,831 1500,851 1500,846 1500,835 1502,832 1502,847 1502,845 1502,834 1504,836 1504,849 1504,848 1504,837 1506,835 1506,854 1506,849 1506,830 1508,831 1508,851 1508,845 1508,837 1510,835 1510,846 1510,854 1510,836 1512,836 1512,844 1512,844 1512,835 1514,836 1514,846 1514,834 1514,861 1516,844 1516,830 1516,835 1516,845 1518,850 1518,835 1518,836 1518,846 1520,836 1520,856 1520,849 1520,837 1522,833 1522,851 1522,843 1522,835 1524,837 1524,849 1524,845 1524,836 1526,837 1526,849 1526,850 1526,836 1528,837 1528,847 1528,851 1528,838 1530,836 1530,853 1530,860 1530,840 1532,836 1532,845 1532,848 1532,830 1534,838 1534,858 1534,856 1534,833 1536,838 1536,846 1536,846 1536,838 1538,836 1538,847 1538,842 1538,833 1540,837 1540,843 1540,844 1540,836 1542,834 1542,849 1542,849 1542,831 1544,830 1544,851 1544,852 1544,832 1546,844 1546,862 1546,853 1546,837 1548,839 1548,850 1548,848 1548,837 1550,835 1550,860 1550,847 1550,835 1552,835 1552,850 1552,853 1552,833 1554,835 1554,850 1554,850 1554,836 1556,836 1556,862 1556,854 1556,836 1558,836 1558,850 1558,853 1558,838 1560,834 1560,856 1560,849 1560,837 1562,838 1562,851 1562,858 1562,840 1564,839 1564,849 1564,849 1564,837 1566,839 1566,846 1566,852 1566,836 1568,835 1568,851 1568,847 1568,838 1570,836 1570,848 1570,855 1570,837 1572,834 1572,852 1572,857 1572,836 1574,841 1574,851 1574,850 1574,837 1576,838 1576,852 1576,846 1576,836 1578,834 1578,843 1578,850 1578,834 1580,838 1580,855 1580,856 1580,839 1582,840 1582,850 1582,846 1582,837 1584,839 1584,847 1584,853 1584,837 1586,838 1586,849 1586,851 1586,833 1588,836 1588,861 1588,848 1588,835 1590,836 1590,846 1590,834 1590,859 1592,854 1592,838 1592,840 1592,848 1594,860 1594,837 1594,834 1594,847 1596,852 1596,835 1596,830 1596,843 1598,837 1598,849 1598,852 1598,838 1600,836 1600,847 1600,851 1600,839 1602,835 1602,855 1602,849 1602,838 1604,836 1604,853 1604,848 1604,838 1606,838 1606,859 1606,854 1606,840 1608,839 1608,846 1608,838 1608,857 1610,848 1610,838 1610,835 1610,848 1612,852 1612,835 1612,839 1612,850 1614,860 1614,840 1614,838 1614,850 1616,854 1616,837 1616,837 1616,850 1618,850 1618,840 1618,845 1618,834 1620,836 1620,850 1620,853 1620,837 1622,836 1622,863 1622,851 1622,843 1624,846 1624,838 1624,838 1624,863 1626,846 1626,839 1626,841 1626,852 1628,851 1628,840 1628,840 1628,851 1630,848 1630,838 1630,837 1630,849 1632,844 1632,839 1632,838 1632,860 1634,845 1634,834 1634,836 1634,854 1636,848 1636,837 1636,837 1636,853 1638,850 1638,836 1638,842 1638,851 1640,862 1640,837 1640,839 1640,847 1642,848 1642,840 1642,839 1642,859 1644,848 1644,836 1644,841 1644,850 1646,845 1646,839 1646,840 1646,851 1648,857 1648,840 1648,834 1648,857 1650,851 1650,838 1650,839 1650,851 1652,846 1652,838 1652,839 1652,852 1654,850 1654,840 1654,845 1654,863 1656,854 1656,838 1656,838 1656,851 1658,847 1658,838 1658,842 1658,855 1660,857 1660,840 1660,841 1660,853 1662,861 1662,840 1662,843 1662,852 1664,857 1664,840 1664,840 1664,856 1666,850 1666,840 1666,836 1666,847 1668,850 1668,839 1668,840 1668,851 1670,855 1670,841 1670,841 1670,856 1672,851 1672,840 1672,839 1672,851 1674,849 1674,839 1674,840 1674,853 1676,851 1676,842 1676,839 1676,860 1678,849 1678,833 1678,842 1678,856 1680,860 1680,839 1680,841 1680,861 1682,850 1682,842 1682,839 1682,850 1684,854 1684,839 1684,832 1684,855 1686,855 1686,839 1686,839 1686,852 1688,849 1688,841 1688,846 1688,833 1690,839 1690,861 1690,850 1690,839 1692,837 1692,849 1692,852 1692,838 1694,839 1694,856 1694,848 1694,840 1696,841 1696,851 1696,847 1696,837 1698,840 1698,849 1698,850 1698,834 1700,840 1700,849 1700,855 1700,841 1702,838 1702,850 1702,850 1702,841 1704,838 1704,852 1704,853 1704,839 1706,840 1706,859 1706,851 1706,838 1708,838 1708,859 1708,852 1708,843 1710,840 1710,855 1710,854 1710,843 1712,836 1712,856 1712,847 1712,834 1714,841 1714,860 1714,846 1714,840 1716,837 1716,856 1716,853 1716,840 1718,840 1718,852 1718,859 1718,841 1720,842 1720,854 1720,851 1720,842 1722,842 1722,856 1722,853 1722,842 1724,838 1724,851 1724,854 1724,833 1726,836 1726,849 1726,851 1726,839 1728,841 1728,853 1728,853 1728,838 1730,841 1730,858 1730,858 1730,837 1732,843 1732,849 1732,852 1732,840 1734,840 1734,852 1734,861 1734,840 1736,840 1736,853 1736,853 1736,843 1738,843 1738,853 1738,852 1738,844 1740,842 1740,852 1740,848 1740,840 1742,841 1742,849 1742,849 1742,841 1744,840 1744,850 1744,851 1744,841 1746,844 1746,864 1746,850 1746,843 1748,839 1748,850 1748,849 1748,838 1750,844 1750,862 1750,858 1750,845 1752,849 1752,840 1752,841 1752,854 1754,856 1754,842 1754,843 1754,850 1756,851 1756,839 1756,841 1756,857 1758,849 1758,840 1758,842 1758,853 1760,858 1760,840 1760,842 1760,857 1762,851 1762,843 1762,839 1762,852 1764,858 1764,841 1764,843 1764,859 1766,854 1766,839 1766,844 1766,851 1768,851 1768,844 1768,843 1768,855" fill="none" stroke="#876657" stroke-width="2" stroke-linejoin="miter" stroke-miterlimit="2" shape-rendering="crispEdges"/>
<polyline points="216.0,480 222.0,461 227.7,447 232.0,437 235.8,431 240.0,418 243.8,401 248.0,419 253.5,439 258.0,419 263.0,396 267.0,403 272.0,387 275.0,396 277.6,413 282.0,401 285.7,388 289.0,396 292.0,400 298.0,387 304.0,376 309.0,389 312.0,388 314.7,398 318.0,379 321.0,362 326.0,367 330.0,359 333.0,351 336.0,367 340.4,385 344.0,381 347.7,379 352.0,379 356.5,386 359.8,385 363.0,397 367.0,397 371.0,391 375.0,398 379.0,411 382.0,404 387.0,422 392.0,424 397.0,427 401.6,432 405.6,413 411.0,419 414.5,449 418.5,407 422.5,436 426.6,410 431.4,442 435.4,407 440.0,441 443.5,423 447.0,430 451.5,445 455.0,431 459.6,416 463.0,423 467.0,434 470.9,442 474.0,417 478.0,423 482.0,432 487.0,414 491.8,411 495.8,379 499.0,385 503.0,373 506.0,376 509.5,361 509.9,359 511.1,374 512.3,384 513.5,358 514.6,353 515.8,358 516.9,346 518.1,367 519.2,409 520.4,388 521.5,394 522.6,391 523.8,371 524.9,368 526.0,366 527.1,366 528.2,362 529.3,356 530.4,360 531.4,386 532.5,396 533.6,379 534.7,369 535.7,378 536.8,371 537.8,375 538.9,376 539.9,377 541.0,387 542.0,392 543.0,387 544.1,378 545.1,375 546.1,391 547.1,389 548.1,369 549.1,361 550.1,364 551.1,370 552.1,382 553.1,371 554.0,386 555.0,391 556.0,380 556.9,378 557.9,389 558.9,391 559.8,398 560.8,407 561.7,427 562.7,416 563.6,386 564.5,401 565.5,413 566.4,438 567.3,444 568.2,450 569.1,467 570.1,465 571.0,452 571.9,455 572.8,450 573.7,436 574.6,458 575.5,486 576.3,486 577.2,503 578.1,474 579.0,456 579.8,436 580.7,440 581.6,443 582.4,452 583.3,475 584.2,459 585.0,446 585.9,461 586.7,462 587.6,468 588.4,476 589.2,468 590.1,468 590.9,475 591.7,454 592.5,466 593.4,472 594.2,476 595.0,465 595.8,477 596.6,475 597.4,476 598.2,467 599.0,482 599.8,491 600.6,492 601.4,517 602.2,518 603.0,487 603.8,491 604.6,498 605.3,473 606.1,461 606.9,498 607.7,533 608.4,520 609.2,500 610.0,504 610.7,505 611.5,494 612.2,494 613.0,491 613.7,485 614.5,493 615.2,507 616.0,535 616.7,537 617.4,524 618.2,524 618.9,534 619.6,534 620.4,530 621.1,548 621.8,582 622.5,589 623.3,560 624.0,557 624.7,533 625.4,543 626.1,556 626.8,556 627.5,543 628.2,546 628.9,547 629.6,548 630.3,585 631.0,603 631.7,540 632.4,545 633.1,541 633.8,545 634.5,572 635.1,560 635.8,557 636.5,566 637.2,556 637.9,568 638.5,593 639.2,594 639.9,609 640.5,611 641.2,612 641.9,587 642.5,577 643.2,594 643.8,602 644.5,603 645.1,603 645.8,600 646.4,598 647.1,594 647.7,593 648.4,607 649.0,624 649.6,622 650.3,622 650.9,623 651.6,627 652.2,658 652.8,649 653.4,643 654.1,656 654.7,638 655.3,640 655.9,653 656.6,655 657.2,638 657.8,651 658.4,655 659.0,657 659.6,658 660.2,665 660.9,660 661.5,678 662.1,689 662.7,710 663.3,699 663.9,692 664.5,692 665.1,678 665.7,695 666.3,718 666.8,725 667.4,720 668.0,701 668.6,694 669.2,706 669.8,695 670.4,678 670.9,687 671.5,685 672.1,682 672.7,677 673.3,678 673.8,690 674.4,692 675.0,670 675.5,662 676.1,647 676.7,652 677.2,663 677.8,650 678.4,643 678.9,628 679.5,650 680.0,665 680.6,661 681.2,634 681.7,637 682.3,641 682.8,637 683.4,638 683.9,651 684.5,700 685.0,698 685.6,679 686.1,630 686.6,621 687.2,624 687.7,612 688.3,620 688.8,656 689.3,646 689.9,624 690.4,608 690.9,599 691.5,603 692.0,623 692.5,633 693.0,630 693.6,599 694.1,590 694.6,605 695.1,597 695.7,590 696.2,586 696.7,571 697.2,595 697.7,603 698.2,581 698.8,579 699.3,599 699.8,583 700.3,572 700.8,562 701.3,554 701.8,568 702.3,579 702.8,567 703.3,576 703.8,574 704.3,562 704.8,564 705.3,568 705.8,564 706.3,560 706.8,578 707.3,553 707.8,537 708.3,527 708.8,544 709.3,536 709.8,519 710.3,535 710.7,585 711.2,561 711.7,535 712.2,516 712.7,527 713.2,539 713.6,542 714.1,546 714.6,529 715.1,520 715.6,509 716.5,515 716.5,538 717.5,535 717.9,530 718.4,522 718.9,511 719.3,503 719.8,500 720.3,498 720.7,488 721.2,484 721.7,482 722.1,488 722.6,505 723.5,498 723.5,485 724.4,482 724.9,478 725.3,479 725.8,479 726.2,505 726.7,469 727.2,453 727.6,462 728.5,462 728.5,464 729.4,454 729.8,438 730.3,428 730.7,422 731.2,433 731.6,430 732.5,413 732.5,410 733.4,416 733.8,398 734.3,387 734.7,383 735.1,376 735.6,357 736.5,354 736.5,343 737.3,361 737.7,355 738.2,362 738.6,369 739.5,372 739.5,383 740,382 741,384 741,396 742,404 742,408 742,411 743,416 744,419 744,422 744,405 745,401 746,423 746,431 747,436 748,439 748,469 748,450 749,456 750,463 750,444 750,449 751,455 752,457 752,511 752,476 753,469 754,469 754,492 754,494 755,496 756,498 756,504 756,514 757,522 758,518 758,506 758,510 759,507 760,514 760,533 760,544 761,537 762,530 762,515 762,538 763,545 764,543 764,525 764,521 764,529 765,541 766,534 766,535 766,530 768,540 768,543 768,536 769,538 770,540 770,556 770,566 770,542 771,552 772,549 772,553 772,560 774,559 774,565 774,559 775,557 776,565 776,543 776,573 776,584 778,589 778,576 778,554 778,546 779,564 780,573 780,583 780,603 782,592 782,615 782,585 782,572 784,578 784,584 784,585 785,585 786,588 786,596 786,584 786,581 788,581 788,585 788,585 788,595 790,584 790,576 790,566 790,595 792,592 792,598 792,591 792,589 794,595 794,627 794,610 794,657 796,612 796,605 796,607 796,622 798,627 798,652 798,651 798,618 800,607 800,596 800,603 800,612 802,608 802,599 802,601 802,623 804,622 804,633 804,634 804,606 806,600 806,614 806,620 806,600 808,604 808,611 808,609 808,652 810,639 810,606 810,609 810,587 812,582 812,574 812,585 812,606 814,597 814,591 814,593 814,606 816,601 816,576 816,598 816,613 818,602 818,582 818,600 818,628 820,624 820,618 820,618 820,624 822,629 822,612 822,620 822,597 824,617 824,630 824,623 824,608 826,619 826,635 826,611 826,667 828,661 828,629 828,627 828,624 830,628 830,645 830,647 830,639 832,649 832,651 832,645 832,670 834,674 834,707 834,683 834,665 836,659 836,656 836,657 836,685 838,690 838,672 838,669 838,695 840,687 840,705 840,710 840,695 842,690 842,722 842,719 842,706 844,710 844,694 844,703 844,708 846,704 846,724 846,718 846,704 848,715 848,732 848,738 848,756 850,750 850,730 850,723 850,742 852,738 852,761 852,762 852,720 854,725 854,728 854,720 854,705 856,707 856,735 856,719 856,699 858,697 858,684 858,679 858,695 860,688 860,711 860,697 860,692 862,698 862,671 862,678 862,705 864,680 864,674 864,660 864,693 866,656 866,642 866,655 866,663 868,658 868,669 868,651 868,640 870,648 870,659 870,648 870,640 872,633 872,628 872,622 872,640 874,652 874,680 874,637 874,630 876,625 876,636 876,631 876,647 878,636 878,627 878,625 878,614 880,617 880,624 880,623 880,602 882,602 882,594 882,589 882,604 884,577 884,574 884,579 884,568 886,566 886,583 886,572 886,548 888,547 888,542 888,536 888,521 890,522 890,516 890,523 890,536 892,530 892,548 892,543 892,567 894,573 894,558 894,567 894,579 896,577 896,593 896,601 896,572 898,572 898,590 898,574 898,546 900,550 900,583 900,571 900,557 902,564 902,579 902,579 902,565 904,561 904,571 904,570 904,585 906,582 906,572 906,568 906,606 908,585 908,574 908,567 908,592 910,579 910,605 910,620 910,587 912,592 912,573 912,591 912,608 914,609 914,599 914,603 914,615 916,620 916,600 916,607 916,628 918,624 918,609 918,615 918,624 920,622 920,631 920,633 920,619 922,613 922,630 922,643 922,614 924,623 924,641 924,649 924,627 926,621 926,633 926,626 926,656 928,652 928,617 928,623 928,642 930,634 930,651 930,654 930,637 932,649 932,652 932,650 932,675 934,685 934,659 934,668 934,646 936,641 936,655 936,648 936,633 938,649 938,604 938,604 938,621 940,602 940,591 940,591 940,623 942,613 942,583 942,584 942,601 944,590 944,572 944,585 944,602 946,599 946,614 946,621 946,599 948,619 948,635 948,647 948,621 950,626 950,662 950,657 950,627 952,643 952,678 952,659 952,645 954,651 954,678 954,683 954,665 956,671 956,703 956,723 956,677 958,690 958,724 958,694 958,668 960,664 960,687 960,677 960,724 962,728 962,678 962,677 962,696 964,704 964,684 964,684 964,714 966,712 966,686 966,689 966,721 968,748 968,683 968,699 968,709 970,714 970,732 970,742 970,697 972,694 972,736 972,745 972,704 974,706 974,692 974,687 974,708 976,711 976,742 976,727 976,704 978,698 978,727 978,732 978,703 980,702 980,743 980,742 980,710 982,716 982,759 982,754 982,721 984,730 984,747 984,729 984,771 986,748 986,721 986,748 986,773 988,771 988,738 988,752 988,770 990,774 990,752 990,765 990,789 992,782 992,756 992,790 992,821 994,808 994,789 994,804 994,825 996,817 996,837 996,817 996,778 998,781 998,748 998,759 998,727 1000,729 1000,713 1000,694 1000,748 1002,683 1002,670 1002,662 1002,680 1004,663 1004,703 1004,668 1004,640 1006,629 1006,682 1006,663 1006,642 1008,626 1008,664 1008,635 1008,620 1010,612 1010,637 1010,638 1010,614 1012,619 1012,662 1012,644 1012,608 1014,599 1014,627 1014,631 1014,588 1016,602 1016,630 1016,641 1016,594 1018,597 1018,619 1018,604 1018,587 1020,579 1020,617 1020,605 1020,580 1022,577 1022,597 1022,604 1022,584 1024,580 1024,616 1024,618 1024,588 1026,580 1026,602 1026,592 1026,623 1028,615 1028,586 1028,589 1028,621 1030,604 1030,584 1030,588 1030,627 1032,612 1032,592 1032,589 1032,631 1034,618 1034,594 1034,597 1034,624 1036,611 1036,590 1036,607 1036,625 1038,629 1038,587 1038,591 1038,614 1040,607 1040,592 1040,594 1040,617 1042,599 1042,582 1042,586 1042,558 1044,559 1044,602 1044,603 1044,573 1046,565 1046,550 1046,548 1046,557 1048,563 1048,541 1048,548 1048,580 1050,578 1050,542 1050,559 1050,589 1052,560 1052,622 1052,588 1052,578 1054,584 1054,571 1054,590 1054,637 1056,619 1056,589 1056,600 1056,618 1058,616 1058,651 1058,635 1058,610 1060,609 1060,630 1060,614 1060,670 1062,646 1062,601 1062,608 1062,644 1064,632 1064,607 1064,615 1064,644 1066,640 1066,601 1066,611 1066,638 1068,630 1068,663 1068,639 1068,615 1070,607 1070,641 1070,622 1070,664 1072,690 1072,627 1072,625 1072,675 1074,681 1074,626 1074,639 1074,662 1076,668 1076,637 1076,647 1076,662 1078,676 1078,640 1078,643 1078,676 1080,689 1080,642 1080,646 1080,701 1082,699 1082,632 1082,634 1082,666 1084,680 1084,647 1084,640 1084,674 1086,655 1086,632 1086,627 1086,646 1088,658 1088,630 1088,638 1088,667 1090,645 1090,721 1090,718 1090,650 1092,661 1092,684 1092,689 1092,666 1094,688 1094,736 1094,720 1094,683 1096,678 1096,710 1096,696 1096,725 1098,704 1098,667 1098,675 1098,717 1100,707 1100,684 1100,698 1100,735 1102,730 1102,670 1102,680 1102,715 1104,726 1104,695 1104,699 1104,727 1106,706 1106,769 1106,774 1106,737 1108,719 1108,761 1108,768 1108,715 1110,710 1110,780 1110,745 1110,711 1112,725 1112,676 1112,698 1112,586 1114,651 1114,692 1114,701 1114,669 1116,675 1116,704 1116,708 1116,673 1118,686 1118,714 1118,716 1118,688 1120,692 1120,715 1120,690 1120,743 1122,729 1122,677 1122,705 1122,721 1124,717 1124,760 1124,737 1124,707 1126,715 1126,752 1126,753 1126,713 1128,731 1128,753 1128,747 1128,734 1130,752 1130,714 1130,730 1130,769 1132,765 1132,714 1132,706 1132,743 1134,723 1134,703 1134,700 1134,725 1136,726 1136,694 1136,711 1136,748 1138,729 1138,709 1138,705 1138,764 1140,731 1140,721 1140,735 1140,701 1142,704 1142,778 1142,740 1142,712 1144,716 1144,750 1144,756 1144,714 1146,695 1146,749 1146,746 1146,716 1148,705 1148,732 1148,749 1148,700 1150,686 1150,730 1150,705 1150,644 1152,635 1152,683 1152,678 1152,717 1154,717 1154,679 1154,716 1154,746 1156,747 1156,723 1156,727 1156,750 1158,733 1158,771 1158,772 1158,750 1160,749 1160,796 1160,759 1160,746 1162,751 1162,784 1162,760 1162,729 1164,731 1164,753 1164,753 1164,726 1166,712 1166,776 1166,749 1166,713 1168,700 1168,765 1168,701 1168,686 1170,678 1170,697 1170,690 1170,705 1172,686 1172,726 1172,715 1172,684 1174,677 1174,709 1174,701 1174,662 1176,686 1176,738 1176,735 1176,700 1178,720 1178,746 1178,729 1178,702 1180,694 1180,730 1180,715 1180,692 1182,714 1182,614 1182,674 1182,754 1184,710 1184,682 1184,672 1184,706 1186,717 1186,693 1186,675 1186,719 1188,716 1188,672 1188,686 1188,644 1190,630 1190,681 1190,672 1190,640 1192,655 1192,681 1192,677 1192,723 1194,712 1194,670 1194,660 1194,690 1196,689 1196,676 1196,678 1196,697 1198,727 1198,583 1198,693 1198,735 1200,760 1200,688 1200,691 1200,750 1202,758 1202,727 1202,715 1202,759 1204,736 1204,694 1204,682 1204,720 1206,727 1206,686 1206,716 1206,759 1208,743 1208,692 1208,699 1208,746 1210,773 1210,716 1210,731 1210,765 1212,753 1212,735 1212,745 1212,790 1214,787 1214,762 1214,770 1214,794 1216,800 1216,638 1216,771 1216,810 1218,809 1218,788 1218,785 1218,822 1220,807 1220,782 1220,782 1220,824 1222,846 1222,793 1222,801 1222,834 1224,819 1224,801 1224,802 1224,821 1226,830 1226,805 1226,802 1226,824 1228,818 1228,834 1228,838 1228,816 1230,819 1230,846 1230,859 1230,813 1232,820 1232,835 1232,842 1232,817 1234,818 1234,851 1234,856 1234,832 1236,841 1236,823 1236,828 1236,867 1238,850 1238,825 1238,826 1238,848 1240,838 1240,827 1240,835 1240,853 1242,854 1242,830 1242,827 1242,845 1244,831 1244,867 1244,848 1244,835 1246,830 1246,845 1246,833 1246,859 1248,851 1248,833 1248,836 1248,858 1250,856 1250,837 1250,835 1250,856 1252,853 1252,837 1252,836 1252,846 1254,828 1254,864 1254,850 1254,836 1256,838 1256,852 1256,847 1256,836 1258,836 1258,866 1258,853 1258,839 1260,841 1260,870 1260,853 1260,840 1262,842 1262,856 1262,853 1262,837 1264,835 1264,871 1264,855 1264,833 1266,844 1266,856 1266,854 1266,841 1268,845 1268,855 1268,854 1268,841 1270,844 1270,855 1270,857 1270,844 1272,842 1272,868 1272,862 1272,840 1274,845 1274,855 1274,856 1274,837 1276,836 1276,862 1276,858 1276,844 1278,843 1278,860 1278,855 1278,845 1280,841 1280,852 1280,850 1280,843 1282,844 1282,859 1282,852 1282,844 1284,846 1284,860 1284,857 1284,846 1286,843 1286,859 1286,865 1286,848 1288,845 1288,857 1288,858 1288,846 1290,843 1290,864 1290,867 1290,845 1292,844 1292,859 1292,868 1292,844 1294,843 1294,853 1294,847 1294,864 1296,860 1296,846 1296,846 1296,854 1298,861 1298,838 1298,846 1298,859 1300,860 1300,845 1300,844 1300,865 1302,855 1302,840 1302,841 1302,853 1304,853 1304,841 1304,843 1304,866 1306,853 1306,845 1306,846 1306,861 1308,854 1308,851 1308,856 1308,845 1310,844 1310,853 1310,859 1310,847 1312,842 1312,862 1312,853 1312,846 1314,841 1314,874 1314,870 1314,845 1316,845 1316,852 1316,846 1316,874 1318,857 1318,843 1318,842 1318,855 1320,847 1320,865 1320,860 1320,839 1322,845 1322,871 1322,865 1322,845 1324,849 1324,865 1324,858 1324,845 1326,843 1326,859 1326,864 1326,848 1328,845 1328,861 1328,858 1328,837 1330,847 1330,864 1330,856 1330,849 1332,843 1332,859 1332,854 1332,845 1334,843 1334,852 1334,844 1334,864 1336,849 1336,836 1336,841 1336,852 1338,858 1338,840 1338,845 1338,871 1340,871 1340,846 1340,845 1340,857 1342,861 1342,843 1342,848 1342,863 1344,856 1344,845 1344,840 1344,859 1346,847 1346,874 1346,858 1346,844 1348,846 1348,859 1348,860 1348,849 1350,846 1350,861 1350,860 1350,845 1352,843 1352,857 1352,857 1352,845 1354,847 1354,864 1354,854 1354,844 1356,846 1356,860 1356,853 1356,843 1358,844 1358,858 1358,863 1358,842 1360,849 1360,870 1360,856 1360,845 1362,844 1362,867 1362,860 1362,842 1364,846 1364,867 1364,860 1364,844 1366,843 1366,865 1366,852 1366,846 1368,847 1368,865 1368,858 1368,847 1370,845 1370,859 1370,861 1370,848 1372,844 1372,856 1372,860 1372,842 1374,847 1374,868 1374,858 1374,851 1376,845 1376,872 1376,858 1376,839 1378,844 1378,866 1378,865 1378,845 1380,842 1380,861 1380,860 1380,848 1382,837 1382,866 1382,857 1382,846 1384,843 1384,856 1384,857 1384,843 1386,841 1386,855 1386,856 1386,847 1388,847 1388,862 1388,856 1388,841 1390,843 1390,874 1390,861 1390,848 1392,849 1392,859 1392,873 1392,843 1394,847 1394,863 1394,858 1394,848 1396,847 1396,861 1396,854 1396,845 1398,846 1398,871 1398,858 1398,847 1400,842 1400,865 1400,855 1400,842 1402,845 1402,854 1402,846 1402,863 1404,870 1404,848 1404,849 1404,866 1406,867 1406,842 1406,846 1406,864 1408,858 1408,844 1408,850 1408,861 1410,860 1410,848 1410,841 1410,859 1412,856 1412,846 1412,840 1412,859 1414,856 1414,846 1414,850 1414,859 1416,864 1416,847 1416,846 1416,855 1418,862 1418,840 1418,847 1418,862 1420,858 1420,845 1420,844 1420,857 1422,865 1422,847 1422,844 1422,858 1424,855 1424,842 1424,848 1424,858 1426,859 1426,852 1426,847 1426,859 1428,860 1428,849 1428,847 1428,866 1430,855 1430,843 1430,848 1430,867 1432,860 1432,843 1432,842 1432,863 1434,864 1434,845 1434,850 1434,856 1436,865 1436,843 1436,843 1436,857 1438,860 1438,844 1438,845 1438,869 1440,857 1440,848 1440,845 1440,864 1442,859 1442,839 1442,842 1442,858 1444,855 1444,848 1444,850 1444,861 1446,858 1446,850 1446,841 1446,862 1448,859 1448,843 1448,849 1448,866 1450,863 1450,844 1450,848 1450,862 1452,865 1452,850 1452,844 1452,870 1454,862 1454,848 1454,847 1454,856 1456,861 1456,846 1456,848 1456,865 1458,859 1458,846 1458,848 1458,867 1460,854 1460,843 1460,848 1460,860 1462,857 1462,846 1462,848 1462,861 1464,861 1464,845 1464,846 1464,866 1466,863 1466,845 1466,849 1466,859 1468,862 1468,849 1468,850 1468,858 1470,859 1470,848 1470,846 1470,860 1472,858 1472,850 1472,855 1472,841 1474,848 1474,860 1474,863 1474,845 1476,849 1476,864 1476,866 1476,844 1478,848 1478,856 1478,846 1478,873 1480,860 1480,848 1480,849 1480,861 1482,864 1482,845 1482,849 1482,870 1484,857 1484,846 1484,847 1484,861 1486,861 1486,848 1486,850 1486,863 1488,864 1488,850 1488,849 1488,860 1490,868 1490,848 1490,851 1490,865 1492,865 1492,843 1492,852 1492,861 1494,862 1494,846 1494,850 1494,862 1496,858 1496,846 1496,849 1496,871 1498,855 1498,843 1498,847 1498,856 1500,861 1500,847 1500,845 1500,857 1502,854 1502,849 1502,846 1502,870 1504,857 1504,849 1504,849 1504,867 1506,875 1506,843 1506,847 1506,860 1508,854 1508,847 1508,845 1508,869 1510,853 1510,841 1510,851 1510,860 1512,863 1512,848 1512,848 1512,864 1514,869 1514,847 1514,844 1514,859 1516,864 1516,850 1516,851 1516,859 1518,856 1518,841 1518,849 1518,862 1520,858 1520,847 1520,851 1520,859 1522,857 1522,845 1522,842 1522,859 1524,863 1524,844 1524,844 1524,870 1526,854 1526,846 1526,850 1526,859 1528,858 1528,847 1528,851 1528,858 1530,860 1530,846 1530,845 1530,858 1532,857 1532,847 1532,848 1532,865 1534,858 1534,847 1534,847 1534,862 1536,865 1536,838 1536,846 1536,854 1538,850 1538,861 1538,862 1538,847 1540,848 1540,872 1540,866 1540,845 1542,851 1542,868 1542,859 1542,846 1544,848 1544,859 1544,863 1544,847 1546,842 1546,860 1546,864 1546,847 1548,851 1548,874 1548,860 1548,844 1550,852 1550,858 1550,858 1550,845 1552,850 1552,870 1552,856 1552,846 1554,846 1554,870 1554,859 1554,844 1556,849 1556,869 1556,857 1556,847 1558,846 1558,859 1558,863 1558,849 1560,846 1560,858 1560,858 1560,851 1562,845 1562,870 1562,870 1562,845 1564,843 1564,855 1564,860 1564,849 1566,843 1566,857 1566,862 1566,847 1568,847 1568,860 1568,860 1568,848 1570,851 1570,860 1570,867 1570,850 1572,849 1572,861 1572,865 1572,849 1574,850 1574,859 1574,864 1574,850 1576,845 1576,857 1576,856 1576,842 1578,846 1578,857 1578,861 1578,847 1580,850 1580,869 1580,867 1580,849 1582,843 1582,858 1582,862 1582,847 1584,848 1584,860 1584,858 1584,852 1586,850 1586,856 1586,849 1586,867 1588,874 1588,847 1588,851 1588,865 1590,862 1590,851 1590,844 1590,865 1592,860 1592,848 1592,848 1592,860 1594,855 1594,845 1594,843 1594,862 1596,873 1596,850 1596,844 1596,857 1598,858 1598,851 1598,849 1598,861 1600,862 1600,849 1600,847 1600,859 1602,859 1602,849 1602,852 1602,867 1604,865 1604,848 1604,849 1604,861 1606,850 1606,875 1606,860 1606,849 1608,852 1608,874 1608,865 1608,846 1610,849 1610,860 1610,860 1610,850 1612,852 1612,860 1612,860 1612,848 1614,846 1614,867 1614,860 1614,848 1616,844 1616,859 1616,858 1616,847 1618,848 1618,860 1618,856 1618,842 1620,847 1620,868 1620,858 1620,845 1622,850 1622,869 1622,866 1622,843 1624,843 1624,875 1624,868 1624,848 1626,847 1626,863 1626,867 1626,851 1628,849 1628,858 1628,867 1628,845 1630,844 1630,864 1630,858 1630,851 1632,847 1632,859 1632,860 1632,845 1634,851 1634,866 1634,866 1634,848 1636,854 1636,859 1636,862 1636,849 1638,848 1638,868 1638,862 1638,854 1640,845 1640,864 1640,867 1640,844 1642,844 1642,855 1642,859 1642,847 1644,842 1644,864 1644,860 1644,851 1646,848 1646,862 1646,862 1646,846 1648,848 1648,859 1648,863 1648,849 1650,844 1650,871 1650,860 1650,850 1652,850 1652,856 1652,849 1652,864 1654,875 1654,849 1654,846 1654,860 1656,864 1656,852 1656,850 1656,857 1658,859 1658,849 1658,849 1658,859 1660,851 1660,869 1660,861 1660,847 1662,848 1662,871 1662,859 1662,849 1664,846 1664,864 1664,865 1664,851 1666,852 1666,866 1666,859 1666,850 1668,851 1668,870 1668,868 1668,852 1670,847 1670,873 1670,864 1670,847 1672,849 1672,870 1672,858 1672,849 1674,846 1674,856 1674,849 1674,863 1676,859 1676,851 1676,847 1676,857 1678,843 1678,875 1678,874 1678,853 1680,851 1680,863 1680,870 1680,851 1682,850 1682,864 1682,861 1682,847 1684,848 1684,863 1684,858 1684,846 1686,848 1686,862 1686,856 1686,851 1688,847 1688,865 1688,866 1688,851 1690,849 1690,862 1690,873 1690,842 1692,853 1692,861 1692,855 1692,844 1694,848 1694,860 1694,865 1694,851 1696,851 1696,861 1696,864 1696,847 1698,848 1698,860 1698,860 1698,850 1700,853 1700,865 1700,860 1700,848 1702,844 1702,860 1702,861 1702,848 1704,852 1704,866 1704,860 1704,848 1706,849 1706,863 1706,862 1706,851 1708,851 1708,858 1708,858 1708,850 1710,848 1710,860 1710,858 1710,851 1712,849 1712,861 1712,870 1712,852 1714,850 1714,862 1714,859 1714,848 1716,853 1716,867 1716,861 1716,846 1718,845 1718,872 1718,869 1718,852 1720,851 1720,860 1720,866 1720,852 1722,851 1722,861 1722,869 1722,847 1724,851 1724,867 1724,864 1724,849 1726,852 1726,866 1726,871 1726,853 1728,852 1728,866 1728,866 1728,850 1730,850 1730,857 1730,859 1730,851 1732,858 1732,843 1732,852 1732,861 1734,870 1734,845 1734,850 1734,867 1736,864 1736,852 1736,849 1736,861 1738,868 1738,849 1738,849 1738,859 1740,865 1740,850 1740,851 1740,863 1742,869 1742,851 1742,849 1742,864 1744,868 1744,850 1744,850 1744,861 1746,866 1746,852 1746,850 1746,865 1748,870 1748,850 1748,852 1748,863 1750,859 1750,851 1750,854 1750,862 1752,852 1752,874 1752,862 1752,848 1754,851 1754,861 1754,862 1754,851 1756,853 1756,861 1756,859 1756,849 1758,853 1758,875 1758,866 1758,853 1760,850 1760,875 1760,870 1760,850 1762,851 1762,861 1762,851 1762,874 1764,866 1764,848 1764,846 1764,870 1766,866 1766,850 1766,854 1766,865 1768,864 1768,849 1768,848 1768,866" fill="none" stroke="#00ff00" stroke-width="2" stroke-linejoin="miter" stroke-miterlimit="2" shape-rendering="crispEdges"/>
<polyline points="216.0,478 222.0,461 227.7,447 232.0,437 235.8,435 240.0,415 243.8,399 248.0,418 253.5,436 258.0,421 263.0,399 267.0,403 272.0,385 275.0,398 277.6,411 282.0,398 285.7,391 289.0,394 292.0,397 298.0,385 304.0,375 309.0,388 312.0,384 314.7,400 318.0,379 321.0,359 326.0,367 330.0,361 333.0,351 336.0,366 340.4,387 344.0,380 347.7,377 352.0,382 356.5,393 359.8,382 363.0,397 367.0,394 371.0,385 375.0,399 379.0,413 382.0,402 387.0,421 392.0,427 397.0,429 401.6,433 405.6,417 411.0,418 414.5,448 418.5,403 422.5,434 426.6,411 431.4,444 435.4,406 440.0,440 443.5,420 447.0,431 451.5,443 455.0,429 459.6,417 463.0,429 467.0,436 470.9,443 474.0,418 478.0,424 482.0,434 487.0,411 491.8,413 495.8,384 499.0,386 503.0,372 506.0,380 509.5,361 509.9,359 511.1,378 512.3,375 513.5,355 514.6,353 515.8,354 516.9,336 518.1,373 519.2,409 520.4,388 521.5,386 522.6,387 523.8,372 524.9,371 526.0,367 527.1,360 528.2,365 529.3,361 530.4,348 531.4,381 532.5,400 533.6,376 534.7,362 535.7,379 536.8,377 537.8,374 538.9,377 539.9,386 541.0,392 542.0,391 543.0,384 544.1,381 545.1,381 546.1,394 547.1,391 548.1,374 549.1,360 550.1,365 551.1,361 552.1,374 553.1,370 554.0,385 555.0,389 556.0,381 556.9,384 557.9,387 558.9,390 559.8,396 560.8,403 561.7,414 562.7,413 563.6,401 564.5,397 565.5,408 566.4,435 567.3,435 568.2,442 569.1,457 570.1,460 571.0,451 571.9,455 572.8,451 573.7,437 574.6,457 575.5,482 576.3,482 577.2,475 578.1,483 579.0,459 579.8,443 580.7,441 581.6,447 582.4,441 583.3,471 584.2,453 585.0,440 585.9,445 586.7,450 587.6,463 588.4,475 589.2,461 590.1,473 590.9,469 591.7,461 592.5,461 593.4,477 594.2,471 595.0,471 595.8,480 596.6,475 597.4,477 598.2,468 599.0,478 599.8,493 600.6,493 601.4,504 602.2,514 603.0,489 603.8,493 604.6,492 605.3,470 606.1,478 606.9,497 607.7,523 608.4,509 609.2,499 610.0,501 610.7,503 611.5,497 612.2,470 613.0,496 613.7,484 614.5,494 615.2,512 616.0,540 616.7,531 617.4,525 618.2,523 618.9,533 619.6,537 620.4,532 621.1,542 621.8,562 622.5,564 623.3,587 624.0,547 624.7,533 625.4,542 626.1,553 626.8,561 627.5,548 628.2,551 628.9,543 629.6,545 630.3,570 631.0,572 631.7,538 632.4,544 633.1,544 633.8,540 634.5,563 635.1,553 635.8,555 636.5,565 637.2,559 637.9,566 638.5,585 639.2,587 639.9,590 640.5,641 641.2,608 641.9,589 642.5,579 643.2,593 643.8,595 644.5,597 645.1,599 645.8,598 646.4,601 647.1,594 647.7,592 648.4,609 649.0,624 649.6,623 650.3,619 650.9,625 651.6,625 652.2,644 652.8,644 653.4,641 654.1,652 654.7,639 655.3,622 655.9,651 656.6,657 657.2,649 657.8,652 658.4,659 659.0,652 659.6,665 660.2,662 660.9,673 661.5,673 662.1,689 662.7,704 663.3,699 663.9,692 664.5,693 665.1,669 665.7,692 666.3,709 666.8,719 667.4,715 668.0,702 668.6,695 669.2,698 669.8,694 670.4,685 670.9,682 671.5,680 672.1,662 672.7,670 673.3,669 673.8,686 674.4,677 675.0,672 675.5,660 676.1,655 676.7,652 677.2,657 677.8,653 678.4,647 678.9,644 679.5,657 680.0,679 680.6,653 681.2,639 681.7,642 682.3,639 682.8,635 683.4,632 683.9,646 684.5,696 685.0,681 685.6,672 686.1,627 686.6,620 687.2,628 687.7,613 688.3,620 688.8,644 689.3,651 689.9,627 690.4,607 690.9,602 691.5,607 692.0,616 692.5,633 693.0,615 693.6,598 694.1,592 694.6,603 695.1,593 695.7,589 696.2,589 696.7,579 697.2,590 697.7,598 698.2,583 698.8,575 699.3,604 699.8,580 700.3,570 700.8,568 701.3,554 701.8,571 702.3,583 702.8,571 703.3,573 703.8,575 704.3,564 704.8,565 705.3,568 705.8,562 706.3,558 706.8,566 707.3,552 707.8,533 708.3,532 708.8,536 709.3,531 709.8,513 710.3,527 710.7,565 711.2,553 711.7,535 712.2,525 712.7,535 713.2,543 713.6,543 714.1,542 714.6,532 715.1,527 715.6,520 716.5,513 716.5,530 717.5,525 717.9,535 718.4,522 718.9,509 719.3,505 719.8,494 720.3,500 720.7,496 721.2,493 721.7,484 722.1,484 722.6,501 723.5,507 723.5,491 724.4,488 724.9,480 725.3,472 725.8,472 726.2,488 726.7,469 727.2,458 727.6,457 728.5,459 728.5,466 729.4,449 729.8,435 730.3,426 730.7,427 731.2,432 731.6,427 732.5,412 732.5,402 733.4,416 733.8,394 734.3,378 734.7,379 735.1,374 735.6,358 736.5,354 736.5,341 737.3,361 737.7,360 738.2,363 738.6,367 739.5,370 739.5,379 740,378 741,383 741,395 742,404 742,410 742,413 743,415 744,411 744,418 744,424 745,409 746,424 746,434 747,436 748,439 748,492 748,451 749,455 750,453 750,466 750,448 751,460 752,468 752,503 752,475 753,469 754,477 754,494 754,490 755,498 756,498 756,506 756,509 757,522 758,517 758,508 758,500 759,500 760,516 760,536 760,548 761,535 762,528 762,520 762,537 763,542 764,541 764,528 764,529 764,517 765,539 766,539 766,542 766,534 768,537 768,545 768,543 769,526 770,542 770,553 770,557 770,541 771,551 772,551 772,556 772,565 774,559 774,552 774,555 775,554 776,550 776,563 776,573 776,589 778,599 778,576 778,569 778,557 779,571 780,572 780,579 780,591 782,591 782,609 782,584 782,575 784,577 784,584 784,583 785,585 786,588 786,592 786,589 786,581 788,583 788,574 788,583 788,591 790,587 790,572 790,579 790,596 792,597 792,589 792,591 792,579 794,596 794,639 794,649 794,604 796,603 796,598 796,611 796,617 798,620 798,648 798,654 798,614 800,609 800,601 800,595 800,609 802,605 802,600 802,599 802,623 804,629 804,641 804,627 804,606 806,613 806,598 806,597 806,619 808,607 808,601 808,607 808,642 810,628 810,602 810,604 810,585 812,581 812,568 812,585 812,601 814,594 814,584 814,595 814,600 816,605 816,575 816,598 816,611 818,601 818,577 818,599 818,637 820,616 820,613 820,616 820,624 822,621 822,606 822,603 822,620 824,626 824,610 824,613 824,622 826,624 826,633 826,620 826,668 828,648 828,626 828,623 828,631 830,630 830,649 830,652 830,636 832,647 832,651 832,639 832,672 834,681 834,692 834,683 834,667 836,665 836,652 836,661 836,684 838,688 838,670 838,677 838,693 840,689 840,703 840,703 840,695 842,680 842,715 842,717 842,707 844,720 844,691 844,702 844,706 846,703 846,720 846,719 846,703 848,721 848,730 848,732 848,752 850,749 850,726 850,730 850,740 852,740 852,761 852,756 852,725 854,724 854,729 854,718 854,706 856,706 856,734 856,717 856,694 858,693 858,681 858,678 858,696 860,688 860,727 860,691 860,686 862,700 862,667 862,677 862,692 864,681 864,674 864,670 864,702 866,658 866,651 866,656 866,661 868,658 868,666 868,649 868,641 870,649 870,659 870,645 870,640 872,638 872,627 872,624 872,635 874,647 874,662 874,634 874,627 876,624 876,634 876,630 876,648 878,631 878,627 878,620 878,615 880,614 880,620 880,617 880,599 882,602 882,588 882,588 882,602 884,580 884,566 884,564 884,573 886,567 886,561 886,560 886,547 888,549 888,540 888,538 888,516 890,514 890,522 890,520 890,540 892,548 892,526 892,550 892,572 894,568 894,555 894,566 894,576 896,577 896,599 896,599 896,575 898,576 898,583 898,574 898,551 900,561 900,580 900,568 900,553 902,557 902,576 902,576 902,566 904,571 904,559 904,570 904,583 906,583 906,574 906,563 906,584 908,585 908,573 908,584 908,554 910,579 910,598 910,607 910,582 912,576 912,590 912,584 912,608 914,605 914,600 914,603 914,615 916,616 916,598 916,606 916,623 918,627 918,610 918,611 918,623 920,621 920,629 920,628 920,619 922,615 922,630 922,633 922,612 924,626 924,640 924,641 924,624 926,627 926,642 926,648 926,625 928,621 928,650 928,642 928,629 930,630 930,656 930,652 930,633 932,646 932,652 932,645 932,673 934,684 934,660 934,668 934,651 936,655 936,639 936,634 936,648 938,646 938,613 938,618 938,606 940,601 940,589 940,596 940,627 942,618 942,583 942,583 942,594 944,590 944,571 944,583 944,600 946,599 946,614 946,614 946,594 948,614 948,635 948,650 948,615 950,624 950,659 950,665 950,625 952,645 952,666 952,656 952,640 954,641 954,673 954,666 954,688 956,705 956,670 956,678 956,720 958,719 958,689 958,690 958,663 960,664 960,687 960,674 960,724 962,714 962,677 962,675 962,697 964,697 964,682 964,677 964,704 966,709 966,691 966,691 966,719 968,694 968,745 968,710 968,698 970,712 970,724 970,744 970,696 972,691 972,729 972,719 972,701 974,707 974,686 974,690 974,710 976,708 976,733 976,716 976,705 978,698 978,726 978,727 978,700 980,711 980,742 980,755 980,707 982,717 982,749 982,761 982,718 984,726 984,740 984,731 984,764 986,746 986,728 986,751 986,769 988,760 988,742 988,751 988,764 990,774 990,750 990,762 990,788 992,779 992,768 992,787 992,812 994,807 994,793 994,803 994,822 996,818 996,839 996,816 996,780 998,781 998,745 998,751 998,726 1000,728 1000,716 1000,724 1000,693 1002,682 1002,666 1002,658 1002,678 1004,684 1004,662 1004,673 1004,646 1006,633 1006,672 1006,655 1006,634 1008,627 1008,650 1008,635 1008,623 1010,614 1010,642 1010,630 1010,615 1012,611 1012,660 1012,648 1012,608 1014,598 1014,625 1014,626 1014,586 1016,601 1016,618 1016,598 1016,640 1018,611 1018,592 1018,588 1018,604 1020,607 1020,587 1020,587 1020,604 1022,597 1022,581 1022,584 1022,610 1024,617 1024,570 1024,582 1024,609 1026,606 1026,577 1026,588 1026,614 1028,613 1028,574 1028,591 1028,623 1030,605 1030,589 1030,591 1030,622 1032,606 1032,591 1032,586 1032,640 1034,617 1034,592 1034,594 1034,616 1036,608 1036,585 1036,600 1036,618 1038,629 1038,597 1038,603 1038,588 1040,584 1040,608 1040,611 1040,594 1042,593 1042,576 1042,580 1042,568 1044,571 1044,594 1044,596 1044,559 1046,571 1046,546 1046,545 1046,558 1048,562 1048,548 1048,551 1048,579 1050,579 1050,552 1050,556 1050,579 1052,575 1052,609 1052,595 1052,580 1054,586 1054,567 1054,595 1054,628 1056,634 1056,592 1056,598 1056,619 1058,607 1058,644 1058,636 1058,611 1060,609 1060,628 1060,610 1060,653 1062,643 1062,604 1062,606 1062,636 1064,636 1064,607 1064,601 1064,649 1066,657 1066,611 1066,620 1066,633 1068,630 1068,648 1068,641 1068,615 1070,612 1070,642 1070,623 1070,666 1072,674 1072,625 1072,628 1072,653 1074,669 1074,626 1074,635 1074,657 1076,647 1076,670 1076,666 1076,643 1078,636 1078,682 1078,669 1078,648 1080,642 1080,685 1080,682 1080,642 1082,637 1082,682 1082,670 1082,637 1084,652 1084,680 1084,696 1084,637 1086,634 1086,657 1086,643 1086,621 1088,635 1088,652 1088,634 1088,682 1090,710 1090,650 1090,661 1090,726 1092,693 1092,669 1092,672 1092,687 1094,678 1094,713 1094,712 1094,688 1096,682 1096,705 1096,698 1096,730 1098,710 1098,677 1098,659 1098,718 1100,713 1100,683 1100,693 1100,718 1102,726 1102,667 1102,688 1102,721 1104,721 1104,690 1104,695 1104,726 1106,734 1106,709 1106,710 1106,767 1108,751 1108,724 1108,713 1108,748 1110,760 1110,711 1110,704 1110,734 1112,732 1112,679 1112,709 1112,585 1114,652 1114,695 1114,703 1114,672 1116,680 1116,694 1116,700 1116,672 1118,688 1118,707 1118,714 1118,678 1120,695 1120,716 1120,721 1120,691 1122,680 1122,736 1122,718 1122,698 1124,711 1124,740 1124,726 1124,698 1126,707 1126,756 1126,742 1126,719 1128,730 1128,744 1128,742 1128,726 1130,717 1130,752 1130,757 1130,723 1132,709 1132,743 1132,749 1132,700 1134,702 1134,720 1134,729 1134,700 1136,703 1136,760 1136,739 1136,686 1138,711 1138,731 1138,744 1138,698 1140,716 1140,735 1140,724 1140,705 1142,720 1142,769 1142,766 1142,717 1144,715 1144,743 1144,744 1144,718 1146,697 1146,750 1146,752 1146,720 1148,729 1148,700 1148,697 1148,741 1150,707 1150,686 1150,718 1150,649 1152,640 1152,669 1152,676 1152,712 1154,717 1154,678 1154,709 1154,731 1156,718 1156,749 1156,745 1156,734 1158,733 1158,771 1158,769 1158,748 1160,757 1160,782 1160,789 1160,750 1162,741 1162,782 1162,764 1162,739 1164,750 1164,727 1164,726 1164,759 1166,763 1166,711 1166,708 1166,740 1168,745 1168,698 1168,686 1168,712 1170,726 1170,670 1170,683 1170,745 1172,713 1172,681 1172,677 1172,711 1174,698 1174,673 1174,668 1174,691 1176,678 1176,737 1176,737 1176,706 1178,714 1178,728 1178,731 1178,639 1180,702 1180,734 1180,730 1180,696 1182,708 1182,611 1182,678 1182,710 1184,706 1184,683 1184,670 1184,703 1186,711 1186,689 1186,683 1186,709 1188,681 1188,636 1188,641 1188,673 1190,681 1190,631 1190,638 1190,674 1192,687 1192,650 1192,680 1192,711 1194,701 1194,665 1194,668 1194,688 1196,692 1196,670 1196,681 1196,703 1198,708 1198,581 1198,696 1198,735 1200,726 1200,695 1200,686 1200,753 1202,760 1202,719 1202,721 1202,750 1204,737 1204,697 1204,688 1204,714 1206,726 1206,692 1206,712 1206,735 1208,749 1208,708 1208,703 1208,751 1210,749 1210,719 1210,716 1210,756 1212,757 1212,724 1212,735 1212,764 1214,762 1214,787 1214,792 1214,776 1216,801 1216,637 1216,768 1216,806 1218,806 1218,779 1218,796 1218,819 1220,819 1220,793 1220,788 1220,809 1222,789 1222,836 1222,844 1222,803 1224,801 1224,818 1224,824 1224,805 1226,806 1226,824 1226,819 1226,810 1228,813 1228,834 1228,825 1228,802 1230,818 1230,829 1230,839 1230,817 1232,818 1232,839 1232,850 1232,821 1234,829 1234,852 1234,853 1234,833 1236,828 1236,839 1236,837 1236,855 1238,848 1238,826 1238,827 1238,846 1240,840 1240,830 1240,827 1240,853 1242,844 1242,834 1242,841 1242,824 1244,835 1244,851 1244,847 1244,831 1246,832 1246,845 1246,851 1246,831 1248,834 1248,859 1248,847 1248,830 1250,837 1250,856 1250,855 1250,835 1252,840 1252,850 1252,855 1252,838 1254,839 1254,848 1254,840 1254,858 1256,864 1256,839 1256,833 1256,849 1258,858 1258,837 1258,835 1258,851 1260,846 1260,840 1260,834 1260,852 1262,853 1262,842 1262,836 1262,864 1264,852 1264,843 1264,840 1264,854 1266,850 1266,835 1266,840 1266,860 1268,856 1268,840 1268,841 1268,852 1270,857 1270,845 1270,846 1270,861 1272,858 1272,839 1272,840 1272,858 1274,855 1274,843 1274,844 1274,858 1276,852 1276,845 1276,843 1276,855 1278,859 1278,847 1278,841 1278,857 1280,865 1280,843 1280,843 1280,863 1282,858 1282,842 1282,846 1282,862 1284,855 1284,847 1284,844 1284,861 1286,856 1286,845 1286,844 1286,857 1288,855 1288,846 1288,845 1288,859 1290,869 1290,842 1290,840 1290,859 1292,859 1292,846 1292,850 1292,870 1294,859 1294,845 1294,840 1294,853 1296,856 1296,843 1296,848 1296,857 1298,856 1298,844 1298,840 1298,863 1300,862 1300,842 1300,838 1300,858 1302,862 1302,846 1302,839 1302,855 1304,851 1304,845 1304,847 1304,855 1306,856 1306,843 1306,849 1306,864 1308,867 1308,843 1308,846 1308,866 1310,855 1310,843 1310,842 1310,857 1312,864 1312,843 1312,847 1312,852 1314,845 1314,867 1314,868 1314,845 1316,842 1316,851 1316,857 1316,844 1318,845 1318,854 1318,851 1318,839 1320,845 1320,860 1320,862 1320,846 1322,849 1322,870 1322,870 1322,848 1324,849 1324,860 1324,862 1324,849 1326,844 1326,860 1326,850 1326,872 1328,866 1328,844 1328,847 1328,862 1330,864 1330,845 1330,842 1330,856 1332,862 1332,849 1332,843 1332,859 1334,858 1334,840 1334,840 1334,872 1336,855 1336,842 1336,847 1336,860 1338,857 1338,848 1338,839 1338,861 1340,860 1340,843 1340,846 1340,857 1342,860 1342,842 1342,847 1342,856 1344,858 1344,848 1344,854 1344,835 1346,845 1346,857 1346,856 1346,846 1348,848 1348,861 1348,855 1348,843 1350,848 1350,872 1350,855 1350,844 1352,846 1352,857 1352,857 1352,839 1354,846 1354,857 1354,855 1354,846 1356,844 1356,858 1356,867 1356,846 1358,842 1358,857 1358,863 1358,841 1360,846 1360,856 1360,852 1360,846 1362,839 1362,859 1362,859 1362,842 1364,844 1364,867 1364,863 1364,841 1366,848 1366,866 1366,859 1366,847 1368,841 1368,858 1368,856 1368,846 1370,845 1370,867 1370,856 1370,847 1372,848 1372,865 1372,856 1372,845 1374,845 1374,872 1374,855 1374,846 1376,844 1376,866 1376,855 1376,847 1378,844 1378,856 1378,862 1378,844 1380,840 1380,857 1380,856 1380,849 1382,844 1382,860 1382,854 1382,841 1384,844 1384,872 1384,864 1384,837 1386,842 1386,863 1386,867 1386,845 1388,847 1388,854 1388,846 1388,872 1390,863 1390,847 1390,846 1390,857 1392,858 1392,847 1392,847 1392,871 1394,855 1394,846 1394,846 1394,851 1396,855 1396,846 1396,842 1396,870 1398,857 1398,843 1398,838 1398,857 1400,862 1400,849 1400,848 1400,864 1402,860 1402,846 1402,847 1402,861 1404,849 1404,872 1404,856 1404,846 1406,843 1406,865 1406,862 1406,847 1408,844 1408,866 1408,859 1408,846 1410,843 1410,860 1410,872 1410,848 1412,845 1412,862 1412,872 1412,850 1414,860 1414,839 1414,837 1414,855 1416,853 1416,842 1416,843 1416,857 1418,865 1418,842 1418,844 1418,852 1420,857 1420,846 1420,846 1420,856 1422,862 1422,846 1422,846 1422,856 1424,851 1424,845 1424,842 1424,857 1426,848 1426,871 1426,859 1426,845 1428,843 1428,861 1428,863 1428,844 1430,841 1430,857 1430,862 1430,840 1432,847 1432,858 1432,857 1432,839 1434,844 1434,869 1434,860 1434,847 1436,851 1436,859 1436,859 1436,843 1438,848 1438,859 1438,862 1438,848 1440,849 1440,865 1440,856 1440,847 1442,845 1442,860 1442,861 1442,844 1444,840 1444,856 1444,861 1444,847 1446,848 1446,858 1446,868 1446,847 1448,844 1448,863 1448,857 1448,845 1450,845 1450,860 1450,858 1450,847 1452,849 1452,857 1452,857 1452,847 1454,846 1454,857 1454,862 1454,847 1456,849 1456,857 1456,860 1456,842 1458,846 1458,859 1458,858 1458,841 1460,844 1460,865 1460,857 1460,847 1462,844 1462,859 1462,862 1462,847 1464,846 1464,859 1464,859 1464,852 1466,854 1466,844 1466,845 1466,864 1468,858 1468,845 1468,846 1468,858 1470,862 1470,848 1470,841 1470,856 1472,853 1472,845 1472,848 1472,856 1474,855 1474,843 1474,843 1474,857 1476,865 1476,844 1476,845 1476,863 1478,866 1478,845 1478,847 1478,856 1480,857 1480,853 1480,849 1480,860 1482,856 1482,848 1482,849 1482,863 1484,860 1484,845 1484,845 1484,865 1486,867 1486,842 1486,844 1486,861 1488,872 1488,847 1488,848 1488,859 1490,873 1490,844 1490,845 1490,861 1492,855 1492,848 1492,848 1492,858 1494,854 1494,716 1494,716 1494,864 1496,860 1496,718 1496,843 1496,861 1498,857 1498,844 1498,847 1498,861 1500,855 1500,847 1500,847 1500,857 1502,858 1502,849 1502,846 1502,862 1504,865 1504,852 1504,853 1504,844 1506,845 1506,853 1506,846 1506,861 1508,860 1508,850 1508,850 1508,859 1510,859 1510,841 1510,847 1510,858 1512,856 1512,848 1512,849 1512,867 1514,858 1514,850 1514,854 1514,845 1516,843 1516,864 1516,865 1516,843 1518,841 1518,860 1518,850 1518,873 1520,865 1520,848 1520,846 1520,864 1522,862 1522,845 1522,845 1522,865 1524,863 1524,841 1524,848 1524,858 1526,864 1526,845 1526,849 1526,860 1528,852 1528,843 1528,848 1528,861 1530,865 1530,847 1530,846 1530,868 1532,858 1532,845 1532,844 1532,868 1534,858 1534,847 1534,845 1534,863 1536,865 1536,848 1536,848 1536,859 1538,864 1538,849 1538,847 1538,858 1540,859 1540,850 1540,845 1540,867 1542,860 1542,847 1542,842 1542,859 1544,856 1544,846 1544,849 1544,859 1546,860 1546,847 1546,846 1546,858 1548,857 1548,846 1548,847 1548,858 1550,849 1550,870 1550,859 1550,846 1552,847 1552,866 1552,860 1552,847 1554,844 1554,862 1554,863 1554,846 1556,845 1556,859 1556,867 1556,847 1558,846 1558,859 1558,859 1558,844 1560,847 1560,856 1560,858 1560,846 1562,850 1562,864 1562,859 1562,846 1564,848 1564,864 1564,860 1564,846 1566,847 1566,859 1566,863 1566,847 1568,847 1568,856 1568,846 1568,867 1570,862 1570,844 1570,850 1570,857 1572,847 1572,873 1572,861 1572,848 1574,844 1574,856 1574,858 1574,846 1576,847 1576,860 1576,857 1576,844 1578,845 1578,858 1578,870 1578,844 1580,847 1580,858 1580,857 1580,850 1582,852 1582,873 1582,863 1582,845 1584,848 1584,859 1584,868 1584,847 1586,850 1586,867 1586,864 1586,850 1588,845 1588,867 1588,858 1588,846 1590,846 1590,858 1590,848 1590,873 1592,860 1592,846 1592,848 1592,858 1594,848 1594,873 1594,873 1594,846 1596,847 1596,855 1596,857 1596,850 1598,847 1598,859 1598,866 1598,848 1600,844 1600,856 1600,857 1600,846 1602,849 1602,866 1602,859 1602,849 1604,843 1604,860 1604,871 1604,848 1606,844 1606,873 1606,868 1606,852 1608,854 1608,848 1608,845 1608,856 1610,858 1610,839 1610,844 1610,866 1612,859 1612,845 1612,849 1612,865 1614,858 1614,845 1614,843 1614,862 1616,865 1616,852 1616,852 1616,847 1618,848 1618,857 1618,856 1618,846 1620,847 1620,863 1620,858 1620,845 1622,846 1622,864 1622,856 1622,844 1624,851 1624,863 1624,867 1624,848 1626,850 1626,864 1626,867 1626,851 1628,847 1628,863 1628,861 1628,848 1630,849 1630,864 1630,858 1630,845 1632,850 1632,860 1632,860 1632,844 1634,846 1634,859 1634,859 1634,849 1636,847 1636,862 1636,858 1636,846 1638,848 1638,854 1638,858 1638,847 1640,847 1640,859 1640,856 1640,847 1642,844 1642,857 1642,855 1642,847 1644,844 1644,859 1644,860 1644,851 1646,851 1646,865 1646,863 1646,850 1648,848 1648,873 1648,861 1648,848 1650,847 1650,856 1650,864 1650,847 1652,847 1652,857 1652,849 1652,866 1654,862 1654,836 1654,835 1654,857 1656,861 1656,846 1656,848 1656,864 1658,866 1658,850 1658,847 1658,862 1660,864 1660,848 1660,844 1660,858 1662,862 1662,847 1662,851 1662,865 1664,861 1664,848 1664,847 1664,860 1666,872 1666,845 1666,847 1666,862 1668,857 1668,845 1668,849 1668,862 1670,861 1670,845 1670,853 1670,859 1672,856 1672,849 1672,852 1672,860 1674,862 1674,848 1674,848 1674,865 1676,865 1676,846 1676,849 1676,858 1678,858 1678,844 1678,849 1678,858 1680,864 1680,848 1680,853 1680,863 1682,862 1682,850 1682,848 1682,865 1684,870 1684,849 1684,850 1684,864 1686,872 1686,850 1686,848 1686,873 1688,865 1688,848 1688,851 1688,864 1690,861 1690,850 1690,847 1690,863 1692,862 1692,849 1692,843 1692,855 1694,855 1694,849 1694,850 1694,868 1696,864 1696,847 1696,848 1696,856 1698,863 1698,849 1698,847 1698,857 1700,849 1700,867 1700,865 1700,846 1702,848 1702,854 1702,859 1702,848 1704,845 1704,856 1704,861 1704,846 1706,847 1706,860 1706,856 1706,844 1708,850 1708,858 1708,850 1708,868 1710,864 1710,849 1710,848 1710,862 1712,864 1712,851 1712,848 1712,863 1714,868 1714,849 1714,848 1714,859 1716,869 1716,849 1716,845 1716,868 1718,856 1718,849 1718,849 1718,873 1720,858 1720,845 1720,849 1720,856 1722,857 1722,851 1722,850 1722,860 1724,861 1724,848 1724,850 1724,863 1726,864 1726,851 1726,849 1726,861 1728,870 1728,849 1728,849 1728,866 1730,862 1730,849 1730,845 1730,863 1732,855 1732,850 1732,846 1732,856 1734,858 1734,849 1734,849 1734,859 1736,860 1736,850 1736,851 1736,861 1738,862 1738,849 1738,846 1738,858 1740,866 1740,848 1740,851 1740,859 1742,864 1742,846 1742,849 1742,858 1744,855 1744,849 1744,842 1744,858 1746,863 1746,848 1746,849 1746,863 1748,862 1748,850 1748,849 1748,866 1750,868 1750,849 1750,852 1750,862 1752,866 1752,852 1752,849 1752,863 1754,868 1754,852 1754,849 1754,862 1756,862 1756,847 1756,850 1756,859 1758,860 1758,848 1758,850 1758,861 1760,863 1760,852 1760,851 1760,859 1762,862 1762,851 1762,851 1762,863 1764,859 1764,849 1764,849 1764,873 1766,869 1766,848 1766,850 1766,858 1768,859 1768,849 1768,852 1768,863" fill="none" stroke="#0000ff" stroke-width="2" stroke-linejoin="miter" stroke-miterlimit="2" shape-rendering="crispEdges"/>
<polyline points="216.0,489 222.0,474 227.7,463 232.0,453 235.8,443 240.0,432 243.8,413 248.0,429 253.5,447 258.0,432 263.0,410 267.0,411 272.0,394 275.0,412 277.6,422 282.0,414 285.7,406 289.0,408 292.0,414 298.0,398 304.0,391 309.0,402 312.0,394 314.7,412 318.0,392 321.0,373 326.0,384 330.0,369 333.0,364 336.0,386 340.4,402 344.0,396 347.7,393 352.0,398 356.5,410 359.8,401 363.0,419 367.0,415 371.0,408 375.0,416 379.0,432 382.0,419 387.0,441 392.0,441 397.0,446 401.6,445 405.6,432 411.0,436 414.5,465 418.5,421 422.5,452 426.6,426 431.4,463 435.4,423 440.0,456 443.5,440 447.0,451 451.5,466 455.0,450 459.6,439 463.0,452 467.0,456 470.9,462 474.0,440 478.0,444 482.0,453 487.0,429 491.8,429 495.8,405 499.0,407 503.0,393 506.0,402 509.5,383 509.9,395 511.1,391 512.3,379 513.5,380 514.6,382 515.8,379 516.9,386 518.1,384 519.2,397 520.4,414 521.5,410 522.6,398 523.8,397 524.9,398 526.0,392 527.1,399 528.2,402 529.3,418 530.4,430 531.4,463 532.5,457 533.6,444 534.7,449 535.7,470 536.8,471 537.8,453 538.9,445 539.9,435 541.0,431 542.0,447 543.0,446 544.1,446 545.1,435 546.1,431 547.1,433 548.1,439 549.1,409 550.1,412 551.1,429 552.1,397 553.1,381 554.0,379 555.0,373 556.0,370 556.9,366 557.9,358 558.9,348 559.8,337 560.8,356 561.7,357 562.7,361 563.6,344 564.5,359 565.5,381 566.4,381 567.3,388 568.2,397 569.1,401 570.1,415 571.0,421 571.9,409 572.8,416 573.7,414 574.6,411 575.5,420 576.3,432 577.2,418 578.1,406 579.0,389 579.8,384 580.7,400 581.6,405 582.4,418 583.3,437 584.2,407 585.0,404 585.9,415 586.7,411 587.6,398 588.4,404 589.2,397 590.1,409 590.9,427 591.7,412 592.5,401 593.4,415 594.2,413 595.0,405 595.8,395 596.6,399 597.4,395 598.2,395 599.0,402 599.8,408 600.6,412 601.4,430 602.2,441 603.0,442 603.8,449 604.6,440 605.3,436 606.1,440 606.9,448 607.7,460 608.4,464 609.2,447 610.0,454 610.7,465 611.5,466 612.2,465 613.0,463 613.7,450 614.5,451 615.2,467 616.0,481 616.7,477 617.4,464 618.2,476 618.9,472 619.6,478 620.4,485 621.1,488 621.8,492 622.5,499 623.3,509 624.0,514 624.7,500 625.4,502 626.1,504 626.8,503 627.5,507 628.2,532 628.9,532 629.6,531 630.3,572 631.0,552 631.7,532 632.4,522 633.1,527 633.8,524 634.5,532 635.1,536 635.8,529 636.5,522 637.2,528 637.9,548 638.5,587 639.2,569 639.9,557 640.5,554 641.2,557 641.9,556 642.5,560 643.2,587 643.8,581 644.5,592 645.1,597 645.8,576 646.4,582 647.1,592 647.7,599 648.4,607 649.0,629 649.6,651 650.3,600 650.9,593 651.6,604 652.2,616 652.8,613 653.4,597 654.1,611 654.7,623 655.3,633 655.9,617 656.6,619 657.2,637 657.8,647 658.4,626 659.0,625 659.6,638 660.2,633 660.9,645 661.5,653 662.1,654 662.7,665 663.3,672 663.9,669 664.5,674 665.1,670 665.7,679 666.3,697 666.8,717 667.4,700 668.0,678 668.6,687 669.2,698 669.8,690 670.4,700 670.9,727 671.5,732 672.1,733 672.7,732 673.3,735 673.8,710 674.4,698 675.0,694 675.5,691 676.1,680 676.7,679 677.2,690 677.8,693 678.4,677 678.9,662 679.5,677 680.0,687 680.6,666 681.2,661 681.7,666 682.3,659 682.8,652 683.4,646 683.9,641 684.5,674 685.0,670 685.6,672 686.1,649 686.6,643 687.2,636 687.7,614 688.3,612 688.8,636 689.3,648 689.9,621 690.4,616 690.9,620 691.5,618 692.0,610 692.5,628 693.0,619 693.6,606 694.1,599 694.6,594 695.1,599 695.7,595 696.2,583 696.7,575 697.2,593 697.7,605 698.2,605 698.8,609 699.3,596 699.8,585 700.3,585 700.8,590 701.3,584 701.8,574 702.3,585 702.8,578 703.3,575 703.8,578 704.3,565 704.8,557 705.3,558 705.8,562 706.3,552 706.8,550 707.3,549 707.8,542 708.3,532 708.8,547 709.3,543 709.8,527 710.3,526 710.7,549 711.2,581 711.7,549 712.2,542 712.7,541 713.2,536 713.6,539 714.1,552 714.6,534 715.1,525 715.6,507 716.5,516 716.5,494 717.5,520 717.9,514 718.4,484 718.9,501 719.3,500 719.8,488 720.3,489 720.7,483 721.2,489 721.7,486 722.1,481 722.6,495 723.5,501 723.5,481 724.4,473 724.9,470 725.3,461 725.8,468 726.2,498 726.7,494 727.2,483 727.6,474 728.5,457 728.5,441 729.4,445 729.8,446 730.3,443 730.7,436 731.2,443 731.6,428 732.5,409 732.5,399 733.4,416 733.8,410 734.3,401 734.7,403 735.1,396 735.6,372 736.5,362 736.5,355 737.3,362 737.7,368 738.2,373 738.6,387 739.5,396 739.5,403 740,400 741,410 741,437 742,424 742,425 742,416 743,437 744,458 744,443 744,431 745,448 746,455 746,460 747,449 748,446 748,469 748,455 749,461 750,476 750,483 750,473 751,471 752,494 752,534 752,505 753,496 754,509 754,483 754,515 755,519 756,513 756,536 756,546 757,531 758,516 758,508 758,528 759,520 760,525 760,534 760,544 761,548 762,535 762,520 762,536 763,545 764,557 764,564 764,563 764,558 765,555 766,549 766,551 766,547 768,550 768,556 768,553 769,552 770,540 770,566 770,558 770,544 771,552 772,531 772,540 772,561 774,574 774,583 774,576 775,563 776,563 776,570 776,574 776,577 778,577 778,592 778,573 778,567 779,579 780,592 780,595 780,577 782,590 782,613 782,589 782,579 784,585 784,593 784,584 785,572 786,587 786,637 786,639 786,596 788,592 788,583 788,592 788,629 790,601 790,591 790,594 790,583 792,599 792,599 792,607 792,587 794,603 794,609 794,615 794,626 796,609 796,607 796,607 796,631 798,618 798,605 798,610 798,592 800,620 800,642 800,627 800,660 802,622 802,606 802,596 802,626 804,618 804,603 804,607 804,616 806,619 806,602 806,577 806,637 808,588 808,570 808,590 808,623 810,630 810,574 810,571 810,558 812,551 812,581 812,571 812,550 814,571 814,604 814,583 814,572 816,566 816,598 816,587 816,578 818,588 818,595 818,589 818,601 820,594 820,631 820,589 820,579 822,602 822,613 822,597 822,591 824,595 824,621 824,617 824,599 826,598 826,612 826,618 826,596 828,631 828,640 828,644 828,635 830,638 830,630 830,639 830,655 832,648 832,641 832,656 832,692 834,679 834,673 834,674 834,681 836,691 836,671 836,686 836,655 838,682 838,688 838,692 838,675 840,676 840,700 840,678 840,673 842,675 842,669 842,672 842,655 844,645 844,666 844,651 844,641 846,647 846,654 846,653 846,659 848,656 848,644 848,654 848,656 850,657 850,678 850,674 850,638 852,642 852,652 852,644 852,642 854,636 854,661 854,652 854,642 856,631 856,653 856,640 856,633 858,632 858,647 858,636 858,625 860,628 860,637 860,634 860,608 862,623 862,640 862,638 862,621 864,610 864,654 864,645 864,624 866,621 866,644 866,636 866,626 868,642 868,649 868,628 868,673 870,644 870,622 870,616 870,654 872,631 872,610 872,612 872,632 874,633 874,650 874,639 874,617 876,626 876,662 876,621 876,610 878,608 878,632 878,636 878,612 880,607 880,598 880,603 880,613 882,606 882,591 882,588 882,617 884,583 884,570 884,576 884,553 886,556 886,575 886,555 886,541 888,538 888,524 888,528 888,540 890,525 890,515 890,518 890,535 892,526 892,560 892,560 892,547 894,547 894,565 894,567 894,555 896,570 896,596 896,588 896,576 898,576 898,583 898,578 898,573 900,574 900,564 900,562 900,569 902,568 902,553 902,560 902,573 904,569 904,561 904,547 904,580 906,570 906,558 906,564 906,600 908,608 908,575 908,568 908,588 910,583 910,594 910,593 910,575 912,583 912,593 912,592 912,607 914,603 914,596 914,596 914,613 916,619 916,605 916,608 916,641 918,626 918,615 918,618 918,606 920,618 920,627 920,624 920,617 922,618 922,641 922,633 922,612 924,622 924,633 924,638 924,622 926,638 926,603 926,619 926,643 928,642 928,616 928,615 928,644 930,650 930,634 930,628 930,645 932,641 932,658 932,655 932,680 934,675 934,665 934,661 934,646 936,639 936,668 936,641 936,629 938,631 938,606 938,611 938,624 940,636 940,601 940,596 940,624 942,604 942,585 942,592 942,605 944,587 944,562 944,572 944,606 946,611 946,591 946,603 946,645 948,624 948,612 948,609 948,622 950,636 950,607 950,612 950,636 952,635 952,648 952,639 952,659 954,658 954,647 954,653 954,668 956,655 956,684 956,677 956,707 958,700 958,674 958,669 958,682 960,693 960,668 960,693 960,701 962,706 962,673 962,677 962,712 964,724 964,678 964,680 964,693 966,704 966,712 966,719 966,694 968,701 968,717 968,713 968,678 970,702 970,750 970,732 970,701 972,705 972,751 972,737 972,702 974,706 974,726 974,722 974,703 976,707 976,751 976,722 976,693 978,715 978,732 978,725 978,710 980,713 980,727 980,735 980,712 982,708 982,750 982,737 982,721 984,713 984,766 984,737 984,721 986,728 986,713 986,723 986,753 988,761 988,728 988,730 988,754 990,743 990,731 990,741 990,714 992,728 992,753 992,761 992,733 994,744 994,717 994,720 994,753 996,736 996,710 996,712 996,702 998,700 998,720 998,707 998,695 1000,694 1000,671 1000,680 1000,693 1002,701 1002,671 1002,655 1002,701 1004,685 1004,664 1004,673 1004,649 1006,646 1006,667 1006,668 1006,640 1008,654 1008,622 1008,619 1008,637 1010,636 1010,612 1010,612 1010,627 1012,628 1012,647 1012,617 1012,592 1014,593 1014,609 1014,595 1014,625 1016,604 1016,587 1016,591 1016,630 1018,621 1018,588 1018,587 1018,624 1020,617 1020,590 1020,596 1020,582 1022,582 1022,604 1022,615 1022,588 1024,597 1024,626 1024,634 1024,593 1026,591 1026,612 1026,614 1026,596 1028,596 1028,622 1028,614 1028,594 1030,596 1030,626 1030,621 1030,595 1032,595 1032,615 1032,608 1032,587 1034,602 1034,629 1034,614 1034,600 1036,608 1036,622 1036,609 1036,651 1038,628 1038,603 1038,613 1038,586 1040,594 1040,605 1040,597 1040,622 1042,635 1042,587 1042,578 1042,601 1044,597 1044,565 1044,556 1044,589 1046,565 1046,547 1046,548 1046,554 1048,557 1048,546 1048,549 1048,576 1050,588 1050,553 1050,564 1050,582 1052,580 1052,609 1052,597 1052,572 1054,569 1054,598 1054,579 1054,628 1056,617 1056,583 1056,585 1056,611 1058,599 1058,645 1058,616 1058,598 1060,603 1060,654 1060,627 1060,606 1062,610 1062,635 1062,632 1062,608 1064,606 1064,630 1064,639 1064,608 1066,619 1066,636 1066,651 1066,616 1068,618 1068,638 1068,645 1068,604 1070,615 1070,628 1070,622 1070,639 1072,633 1072,655 1072,676 1072,630 1074,628 1074,644 1074,639 1074,667 1076,658 1076,639 1076,644 1076,677 1078,680 1078,636 1078,650 1078,682 1080,663 1080,647 1080,641 1080,676 1082,667 1082,643 1082,656 1082,679 1084,679 1084,632 1084,650 1084,676 1086,653 1086,634 1086,623 1086,656 1088,669 1088,635 1088,648 1088,698 1090,687 1090,663 1090,666 1090,703 1092,704 1092,663 1092,668 1092,697 1094,686 1094,720 1094,710 1094,676 1096,680 1096,701 1096,681 1096,736 1098,711 1098,674 1098,678 1098,699 1100,703 1100,687 1100,673 1100,726 1102,712 1102,683 1102,683 1102,717 1104,726 1104,704 1104,719 1104,743 1106,762 1106,718 1106,734 1106,751 1108,778 1108,723 1108,719 1108,749 1110,769 1110,717 1110,724 1110,691 1112,670 1112,717 1112,687 1112,582 1114,653 1114,698 1114,697 1114,666 1116,677 1116,698 1116,681 1116,717 1118,719 1118,688 1118,676 1118,730 1120,722 1120,680 1120,679 1120,725 1122,727 1122,691 1122,685 1122,706 1124,700 1124,726 1124,702 1124,755 1126,742 1126,701 1126,712 1126,734 1128,697 1128,774 1128,772 1128,720 1130,715 1130,740 1130,740 1130,702 1132,706 1132,723 1132,715 1132,736 1134,734 1134,713 1134,716 1134,752 1136,748 1136,699 1136,713 1136,746 1138,756 1138,717 1138,700 1138,735 1140,737 1140,705 1140,722 1140,756 1142,748 1142,722 1142,713 1142,764 1144,752 1144,711 1144,714 1144,758 1146,754 1146,715 1146,721 1146,764 1148,753 1148,720 1148,718 1148,759 1150,730 1150,695 1150,699 1150,649 1152,663 1152,688 1152,694 1152,674 1154,695 1154,741 1154,741 1154,712 1156,721 1156,760 1156,740 1156,718 1158,738 1158,780 1158,786 1158,750 1160,765 1160,779 1160,798 1160,751 1162,757 1162,789 1162,785 1162,748 1164,737 1164,790 1164,749 1164,722 1166,730 1166,764 1166,751 1166,720 1168,719 1168,769 1168,731 1168,707 1170,707 1170,727 1170,736 1170,705 1172,696 1172,715 1172,709 1172,697 1174,691 1174,733 1174,702 1174,683 1176,693 1176,733 1176,729 1176,711 1178,709 1178,743 1178,738 1178,641 1180,685 1180,734 1180,711 1180,697 1182,731 1182,613 1182,672 1182,716 1184,703 1184,668 1184,678 1184,710 1186,688 1186,741 1186,707 1186,669 1188,689 1188,638 1188,632 1188,652 1190,633 1190,674 1190,663 1190,626 1192,637 1192,692 1192,677 1192,711 1194,677 1194,659 1194,658 1194,681 1196,673 1196,694 1196,710 1196,672 1198,715 1198,584 1198,702 1198,729 1200,707 1200,763 1200,752 1200,713 1202,717 1202,768 1202,760 1202,725 1204,742 1204,698 1204,684 1204,715 1206,720 1206,685 1206,704 1206,742 1208,739 1208,713 1208,722 1208,751 1210,749 1210,723 1210,731 1210,768 1212,775 1212,737 1212,742 1212,776 1214,767 1214,750 1214,769 1214,778 1216,814 1216,640 1216,777 1216,803 1218,799 1218,778 1218,785 1218,808 1220,810 1220,781 1220,792 1220,818 1222,816 1222,804 1222,801 1222,818 1224,831 1224,803 1224,811 1224,828 1226,811 1226,846 1226,831 1226,817 1228,821 1228,835 1228,842 1228,817 1230,811 1230,841 1230,845 1230,828 1232,830 1232,868 1232,851 1232,834 1234,832 1234,845 1234,858 1234,829 1236,831 1236,851 1236,849 1236,830 1238,832 1238,844 1238,851 1238,833 1240,829 1240,850 1240,856 1240,837 1242,837 1242,863 1242,849 1242,834 1244,838 1244,859 1244,851 1244,844 1246,842 1246,858 1246,853 1246,841 1248,847 1248,867 1248,857 1248,842 1250,844 1250,856 1250,856 1250,846 1252,848 1252,869 1252,854 1252,845 1254,848 1254,865 1254,862 1254,848 1256,846 1256,864 1256,862 1256,842 1258,847 1258,854 1258,853 1258,859 1260,863 1260,843 1260,846 1260,864 1262,867 1262,848 1262,850 1262,859 1264,845 1264,874 1264,862 1264,844 1266,847 1266,872 1266,856 1266,851 1268,846 1268,869 1268,859 1268,851 1270,852 1270,862 1270,865 1270,847 1272,849 1272,870 1272,871 1272,852 1274,854 1274,869 1274,863 1274,850 1276,846 1276,874 1276,867 1276,852 1278,850 1278,861 1278,876 1278,845 1280,851 1280,869 1280,869 1280,854 1282,851 1282,858 1282,853 1282,881 1284,868 1284,856 1284,853 1284,867 1286,864 1286,854 1286,857 1286,871 1288,877 1288,853 1288,851 1288,862 1290,860 1290,854 1290,854 1290,874 1292,868 1292,854 1292,855 1292,864 1294,859 1294,853 1294,854 1294,872 1296,867 1296,855 1296,855 1296,870 1298,865 1298,850 1298,851 1298,860 1300,862 1300,850 1300,855 1300,864 1302,866 1302,852 1302,854 1302,866 1304,872 1304,858 1304,854 1304,864 1306,872 1306,853 1306,854 1306,869 1308,862 1308,850 1308,849 1308,859 1310,857 1310,871 1310,872 1310,854 1312,851 1312,864 1312,865 1312,851 1314,854 1314,866 1314,871 1314,854 1316,851 1316,865 1316,867 1316,855 1318,856 1318,871 1318,866 1318,853 1320,852 1320,881 1320,866 1320,853 1322,857 1322,870 1322,862 1322,853 1324,845 1324,862 1324,865 1324,855 1326,853 1326,865 1326,868 1326,851 1328,857 1328,881 1328,866 1328,854 1330,856 1330,865 1330,856 1330,879 1332,869 1332,855 1332,858 1332,869 1334,866 1334,854 1334,854 1334,866 1336,861 1336,852 1336,854 1336,861 1338,860 1338,847 1338,852 1338,866 1340,863 1340,853 1340,853 1340,879 1342,869 1342,858 1342,863 1342,849 1344,856 1344,876 1344,869 1344,852 1346,856 1346,871 1346,864 1346,854 1348,855 1348,878 1348,873 1348,854 1350,859 1350,871 1350,864 1350,856 1352,856 1352,870 1352,868 1352,852 1354,855 1354,866 1354,865 1354,855 1356,858 1356,866 1356,871 1356,852 1358,845 1358,866 1358,866 1358,856 1360,850 1360,875 1360,874 1360,856 1362,854 1362,863 1362,869 1362,848 1364,853 1364,877 1364,868 1364,851 1366,852 1366,872 1366,864 1366,854 1368,854 1368,871 1368,867 1368,857 1370,851 1370,867 1370,866 1370,854 1372,850 1372,867 1372,863 1372,857 1374,852 1374,866 1374,868 1374,852 1376,857 1376,867 1376,865 1376,853 1378,855 1378,869 1378,860 1378,848 1380,853 1380,864 1380,868 1380,855 1382,853 1382,868 1382,868 1382,849 1384,855 1384,869 1384,868 1384,855 1386,854 1386,873 1386,867 1386,854 1388,851 1388,870 1388,868 1388,855 1390,853 1390,863 1390,874 1390,849 1392,854 1392,869 1392,862 1392,854 1394,858 1394,872 1394,873 1394,851 1396,852 1396,867 1396,870 1396,848 1398,855 1398,865 1398,869 1398,856 1400,855 1400,869 1400,864 1400,849 1402,856 1402,865 1402,868 1402,855 1404,855 1404,870 1404,871 1404,854 1406,851 1406,878 1406,870 1406,853 1408,859 1408,874 1408,871 1408,852 1410,855 1410,866 1410,865 1410,848 1412,862 1412,872 1412,862 1412,856 1414,857 1414,864 1414,862 1414,851 1416,855 1416,863 1416,855 1416,873 1418,867 1418,848 1418,854 1418,865 1420,864 1420,857 1420,854 1420,863 1422,865 1422,856 1422,855 1422,867 1424,862 1424,851 1424,853 1424,866 1426,881 1426,851 1426,854 1426,864 1428,863 1428,854 1428,856 1428,867 1430,864 1430,856 1430,857 1430,865 1432,877 1432,853 1432,857 1432,872 1434,881 1434,855 1434,855 1434,866 1436,864 1436,855 1436,855 1436,863 1438,868 1438,853 1438,856 1438,868 1440,870 1440,857 1440,856 1440,870 1442,868 1442,858 1442,854 1442,881 1444,865 1444,859 1444,864 1444,850 1446,856 1446,870 1446,877 1446,854 1448,856 1448,870 1448,875 1448,855 1450,856 1450,866 1450,865 1450,857 1452,856 1452,873 1452,882 1452,860 1454,866 1454,854 1454,856 1454,870 1456,877 1456,857 1456,856 1456,872 1458,865 1458,856 1458,854 1458,864 1460,866 1460,858 1460,858 1460,882 1462,871 1462,859 1462,851 1462,869 1464,868 1464,855 1464,851 1464,866 1466,867 1466,857 1466,855 1466,861 1468,873 1468,849 1468,855 1468,868 1470,868 1470,856 1470,853 1470,870 1472,868 1472,857 1472,850 1472,873 1474,868 1474,853 1474,853 1474,865 1476,866 1476,855 1476,856 1476,867 1478,872 1478,860 1478,854 1478,866 1480,864 1480,856 1480,858 1480,873 1482,868 1482,856 1482,856 1482,878 1484,864 1484,853 1484,854 1484,861 1486,858 1486,869 1486,876 1486,850 1488,847 1488,866 1488,873 1488,853 1490,856 1490,873 1490,872 1490,856 1492,850 1492,867 1492,863 1492,852 1494,857 1494,875 1494,873 1494,858 1496,852 1496,866 1496,870 1496,852 1498,855 1498,867 1498,868 1498,858 1500,854 1500,868 1500,865 1500,856 1502,853 1502,868 1502,875 1502,858 1504,857 1504,876 1504,864 1504,856 1506,855 1506,874 1506,867 1506,854 1508,859 1508,875 1508,872 1508,856 1510,855 1510,871 1510,865 1510,856 1512,858 1512,865 1512,866 1512,859 1514,853 1514,878 1514,878 1514,856 1516,856 1516,863 1516,862 1516,855 1518,855 1518,865 1518,864 1518,852 1520,852 1520,868 1520,864 1520,855 1522,855 1522,865 1522,855 1522,881 1524,866 1524,849 1524,854 1524,865 1526,870 1526,848 1526,849 1526,882 1528,870 1528,859 1528,855 1528,868 1530,876 1530,853 1530,853 1530,872 1532,866 1532,855 1532,854 1532,874 1534,864 1534,856 1534,852 1534,872 1536,872 1536,857 1536,853 1536,875 1538,867 1538,859 1538,860 1538,872 1540,867 1540,853 1540,855 1540,872 1542,864 1542,856 1542,854 1542,868 1544,870 1544,858 1544,857 1544,864 1546,868 1546,852 1546,858 1546,865 1548,856 1548,875 1548,873 1548,857 1550,859 1550,870 1550,874 1550,858 1552,856 1552,867 1552,869 1552,858 1554,853 1554,873 1554,870 1554,856 1556,855 1556,868 1556,866 1556,853 1558,857 1558,876 1558,863 1558,854 1560,853 1560,867 1560,874 1560,854 1562,853 1562,870 1562,875 1562,853 1564,855 1564,866 1564,870 1564,860 1566,858 1566,875 1566,870 1566,857 1568,855 1568,870 1568,870 1568,858 1570,856 1570,882 1570,868 1570,856 1572,856 1572,868 1572,857 1572,880 1574,867 1574,858 1574,857 1574,871 1576,869 1576,857 1576,862 1576,868 1578,866 1578,857 1578,852 1578,865 1580,854 1580,879 1580,872 1580,854 1582,856 1582,868 1582,866 1582,855 1584,857 1584,867 1584,870 1584,857 1586,861 1586,873 1586,871 1586,858 1588,851 1588,870 1588,871 1588,857 1590,863 1590,867 1590,870 1590,858 1592,857 1592,871 1592,869 1592,858 1594,854 1594,865 1594,858 1594,877 1596,867 1596,859 1596,852 1596,868 1598,866 1598,858 1598,857 1598,865 1600,859 1600,880 1600,870 1600,856 1602,852 1602,870 1602,868 1602,857 1604,856 1604,871 1604,867 1604,857 1606,857 1606,867 1606,866 1606,858 1608,857 1608,866 1608,874 1608,858 1610,855 1610,871 1610,873 1610,857 1612,857 1612,866 1612,870 1612,858 1614,857 1614,871 1614,876 1614,857 1616,854 1616,866 1616,872 1616,857 1618,854 1618,866 1618,870 1618,859 1620,859 1620,866 1620,874 1620,854 1622,859 1622,873 1622,869 1622,858 1624,859 1624,867 1624,868 1624,856 1626,860 1626,864 1626,857 1626,872 1628,874 1628,856 1628,855 1628,865 1630,856 1630,875 1630,868 1630,853 1632,860 1632,870 1632,871 1632,856 1634,855 1634,869 1634,868 1634,853 1636,858 1636,872 1636,869 1636,859 1638,857 1638,875 1638,867 1638,857 1640,857 1640,877 1640,870 1640,856 1642,860 1642,865 1642,857 1642,878 1644,874 1644,861 1644,858 1644,867 1646,876 1646,854 1646,855 1646,872 1648,868 1648,855 1648,855 1648,864 1650,859 1650,870 1650,872 1650,858 1652,859 1652,871 1652,867 1652,854 1654,855 1654,873 1654,867 1654,838 1656,852 1656,867 1656,864 1656,859 1658,858 1658,864 1658,859 1658,876 1660,863 1660,854 1660,861 1660,878 1662,866 1662,857 1662,857 1662,873 1664,866 1664,858 1664,853 1664,866 1666,865 1666,855 1666,858 1666,869 1668,876 1668,858 1668,853 1668,878 1670,874 1670,852 1670,857 1670,869 1672,871 1672,856 1672,857 1672,871 1674,871 1674,857 1674,858 1674,865 1676,867 1676,854 1676,849 1676,870 1678,867 1678,853 1678,859 1678,869 1680,880 1680,858 1680,858 1680,868 1682,873 1682,856 1682,855 1682,872 1684,870 1684,855 1684,856 1684,881 1686,865 1686,855 1686,855 1686,875 1688,869 1688,855 1688,859 1688,868 1690,875 1690,856 1690,854 1690,869 1692,864 1692,854 1692,858 1692,877 1694,868 1694,858 1694,858 1694,873 1696,877 1696,858 1696,854 1696,874 1698,875 1698,862 1698,856 1698,869 1700,869 1700,857 1700,852 1700,879 1702,870 1702,858 1702,857 1702,868 1704,867 1704,852 1704,859 1704,863 1706,858 1706,872 1706,870 1706,860 1708,856 1708,873 1708,877 1708,853 1710,856 1710,872 1710,866 1710,857 1712,858 1712,867 1712,858 1712,876 1714,877 1714,858 1714,852 1714,871 1716,869 1716,860 1716,862 1716,878 1718,882 1718,857 1718,860 1718,871 1720,871 1720,860 1720,858 1720,870 1722,874 1722,855 1722,858 1722,871 1724,872 1724,851 1724,857 1724,870 1726,870 1726,858 1726,859 1726,870 1728,882 1728,856 1728,857 1728,871 1730,871 1730,854 1730,849 1730,871 1732,869 1732,858 1732,858 1732,869 1734,867 1734,859 1734,858 1734,880 1736,866 1736,855 1736,856 1736,873 1738,868 1738,859 1738,857 1738,872 1740,873 1740,859 1740,859 1740,878 1742,872 1742,857 1742,859 1742,869 1744,866 1744,858 1744,858 1744,870 1746,859 1746,882 1746,876 1746,858 1748,857 1748,871 1748,868 1748,859 1750,857 1750,870 1750,876 1750,857 1752,857 1752,869 1752,873 1752,853 1754,855 1754,878 1754,863 1754,858 1756,857 1756,877 1756,878 1756,857 1758,858 1758,871 1758,872 1758,858 1760,861 1760,870 1760,877 1760,854 1762,859 1762,866 1762,873 1762,858 1764,855 1764,866 1764,871 1764,860 1766,861 1766,870 1766,877 1766,858 1768,856 1768,872 1768,874 1768,862" fill="none" stroke="#ff0000" stroke-width="2" stroke-linejoin="miter" stroke-miterlimit="2" shape-rendering="crispEdges"/>
<path d="M216.5 187.5H1768.5V951.5H216.5ZM216.5 951.5v-28M216.5 187.5v28M372.5 951.5v-14M372.5 187.5v14M463.5 951.5v-14M463.5 187.5v14M527.5 951.5v-14M527.5 187.5v14M578.5 951.5v-14M578.5 187.5v14M619.5 951.5v-14M619.5 187.5v14M653.5 951.5v-14M653.5 187.5v14M683.5 951.5v-14M683.5 187.5v14M710.5 951.5v-14M710.5 187.5v14M733.5 951.5v-28M733.5 187.5v28M889.5 951.5v-14M889.5 187.5v14M980.5 951.5v-14M980.5 187.5v14M1045.5 951.5v-14M1045.5 187.5v14M1095.5 951.5v-14M1095.5 187.5v14M1136.5 951.5v-14M1136.5 187.5v14M1171.5 951.5v-14M1171.5 187.5v14M1201.5 951.5v-14M1201.5 187.5v14M1227.5 951.5v-14M1227.5 187.5v14M1251.5 951.5v-28M1251.5 187.5v28M1406.5 951.5v-14M1406.5 187.5v14M1497.5 951.5v-14M1497.5 187.5v14M1562.5 951.5v-14M1562.5 187.5v14M1612.5 951.5v-14M1612.5 187.5v14M1653.5 951.5v-14M1653.5 187.5v14M1688.5 951.5v-14M1688.5 187.5v14M1718.5 951.5v-14M1718.5 187.5v14M1744.5 951.5v-14M1744.5 187.5v14M1768.5 951.5v-28M1768.5 187.5v28M216.5 951.5h41M1768.5 951.5h-41M216.5 905.5h21M1768.5 905.5h-21M216.5 878.5h21M1768.5 878.5h-21M216.5 859.5h21M1768.5 859.5h-21M216.5 844.5h21M1768.5 844.5h-21M216.5 832.5h21M1768.5 832.5h-21M216.5 821.5h21M1768.5 821.5h-21M216.5 813.5h21M1768.5 813.5h-21M216.5 805.5h21M1768.5 805.5h-21M216.5 798.5h41M1768.5 798.5h-41M216.5 752.5h21M1768.5 752.5h-21M216.5 725.5h21M1768.5 725.5h-21M216.5 706.5h21M1768.5 706.5h-21M216.5 691.5h21M1768.5 691.5h-21M216.5 679.5h21M1768.5 679.5h-21M216.5 669.5h21M1768.5 669.5h-21M216.5 660.5h21M1768.5 660.5h-21M216.5 652.5h21M1768.5 652.5h-21M216.5 645.5h41M1768.5 645.5h-41M216.5 599.5h21M1768.5 599.5h-21M216.5 572.5h21M1768.5 572.5h-21M216.5 553.5h21M1768.5 553.5h-21M216.5 538.5h21M1768.5 538.5h-21M216.5 526.5h21M1768.5 526.5h-21M216.5 516.5h21M1768.5 516.5h-21M216.5 507.5h21M1768.5 507.5h-21M216.5 499.5h21M1768.5 499.5h-21M216.5 492.5h41M1768.5 492.5h-41M216.5 446.5h21M1768.5 446.5h-21M216.5 419.5h21M1768.5 419.5h-21M216.5 400.5h21M1768.5 400.5h-21M216.5 385.5h21M1768.5 385.5h-21M216.5 373.5h21M1768.5 373.5h-21M216.5 363.5h21M1768.5 363.5h-21M216.5 354.5h21M1768.5 354.5h-21M216.5 346.5h21M1768.5 346.5h-21M216.5 339.5h41M1768.5 339.5h-41M216.5 293.5h21M1768.5 293.5h-21M216.5 266.5h21M1768.5 266.5h-21M216.5 247.5h21M1768.5 247.5h-21M216.5 233.5h21M1768.5 233.5h-21M216.5 220.5h21M1768.5 220.5h-21M216.5 210.5h21M1768.5 210.5h-21M216.5 201.5h21M1768.5 201.5h-21M216.5 194.5h21M1768.5 194.5h-21M216.5 187.5h41M1768.5 187.5h-41" stroke="#000" stroke-width="1" fill="none" shape-rendering="crispEdges"/>
<text transform="translate(201.2,951.5) scale(0.98,1)" font-size="26" text-anchor="end">-11</text>
<text transform="translate(163.9,968.0) scale(0.99,1)" font-size="39" text-anchor="end">10</text>
<text transform="translate(201.2,798.5) scale(0.98,1)" font-size="26" text-anchor="end">-10</text>
<text transform="translate(163.9,815.0) scale(0.99,1)" font-size="39" text-anchor="end">10</text>
<text transform="translate(201.2,645.5) scale(0.98,1)" font-size="26" text-anchor="end">-9</text>
<text transform="translate(178.0,662.0) scale(0.99,1)" font-size="39" text-anchor="end">10</text>
<text transform="translate(201.2,492.5) scale(0.98,1)" font-size="26" text-anchor="end">-8</text>
<text transform="translate(178.0,509.0) scale(0.99,1)" font-size="39" text-anchor="end">10</text>
<text transform="translate(201.2,339.5) scale(0.98,1)" font-size="26" text-anchor="end">-7</text>
<text transform="translate(178.0,356.0) scale(0.99,1)" font-size="39" text-anchor="end">10</text>
<text transform="translate(201.2,187.5) scale(0.98,1)" font-size="26" text-anchor="end">-6</text>
<text transform="translate(178.0,204.0) scale(0.99,1)" font-size="39" text-anchor="end">10</text>
<text transform="translate(250.5,988.2) scale(0.98,1)" font-size="26" text-anchor="end">-1</text>
<text transform="translate(227.4,1004.7) scale(0.99,1)" font-size="39" text-anchor="end">10</text>
<text transform="translate(1796.8,988.2) scale(0.98,1)" font-size="26" text-anchor="end">2</text>
<text transform="translate(1782.1,1004.7) scale(0.99,1)" font-size="39" text-anchor="end">10</text>
<text transform="translate(730.5,1004.5) scale(0.99,1)" font-size="39" text-anchor="middle">1</text>
<text transform="translate(1250.7,1004.7) scale(0.99,1)" font-size="39" text-anchor="middle">10</text>
<text x="992.8" y="1060" font-size="42.1" text-anchor="middle">Frequency (Hz)</text>
<text transform="translate(107.5,811.7) rotate(-90) scale(0.961,1)" font-size="46.5">Displacement (m.Hz<tspan dy="-19" font-size="31">-1/2</tspan><tspan dy="19" font-size="46.5">)</tspan></text>
<g fill="#ff0000" font-size="40"><text x="70" y="1131.5">*T0=16/01/2018 06:38:01</text><text x="796" y="1131.5">*Avg=10/Bin=5L</text><text x="1823.5" y="1131.5" text-anchor="end">*BW=0.00292958</text></g>
<g shape-rendering="crispEdges"><rect x="1121" y="214" width="615" height="287" fill="#000"/>
<rect x="1115.5" y="208.5" width="617" height="289" fill="#fff" stroke="#000" stroke-width="1"/></g>
<path d="M1139 228H1246" stroke="#ff0000" stroke-width="2" shape-rendering="crispEdges"/>
<text x="1269.5" y="238" font-size="19.9">H1:SUS-ITMY_M0_OSEMINF_F1_OUT_DQ</text>
<path d="M1139 270H1246" stroke="#0000ff" stroke-width="2" shape-rendering="crispEdges"/>
<text x="1269.5" y="280" font-size="19.9">H1:SUS-ITMY_M0_OSEMINF_F2_OUT_DQ</text>
<path d="M1139 311H1246" stroke="#00ff00" stroke-width="2" shape-rendering="crispEdges"/>
<text x="1269.5" y="321" font-size="19.9">H1:SUS-ITMY_M0_OSEMINF_F3_OUT_DQ</text>
<path d="M1139 353H1246" stroke="#876657" stroke-width="2" shape-rendering="crispEdges"/>
<text x="1269.5" y="363" font-size="19.9">H1:SUS-ITMY_M0_OSEMINF_LF_OUT_DQ</text>
<path d="M1139 394H1246" stroke="#ff00ff" stroke-width="2" shape-rendering="crispEdges"/>
<text x="1269.5" y="404" font-size="19.9">H1:SUS-ITMY_M0_OSEMINF_RT_OUT_DQ</text>
<path d="M1139 436H1246" stroke="#00ffff" stroke-width="2" shape-rendering="crispEdges"/>
<text x="1269.5" y="446" font-size="19.9">H1:SUS-ITMY_M0_OSEMINF_SD_OUT_DQ</text>
<path d="M1139 476.5H1246" stroke="#000" stroke-width="3" stroke-dasharray="3 3" shape-rendering="crispEdges"/>
<text x="1269.5" y="486.0" font-size="19.9">BOSEM_NOISE(REF0)</text>
</svg>
</body></html>
